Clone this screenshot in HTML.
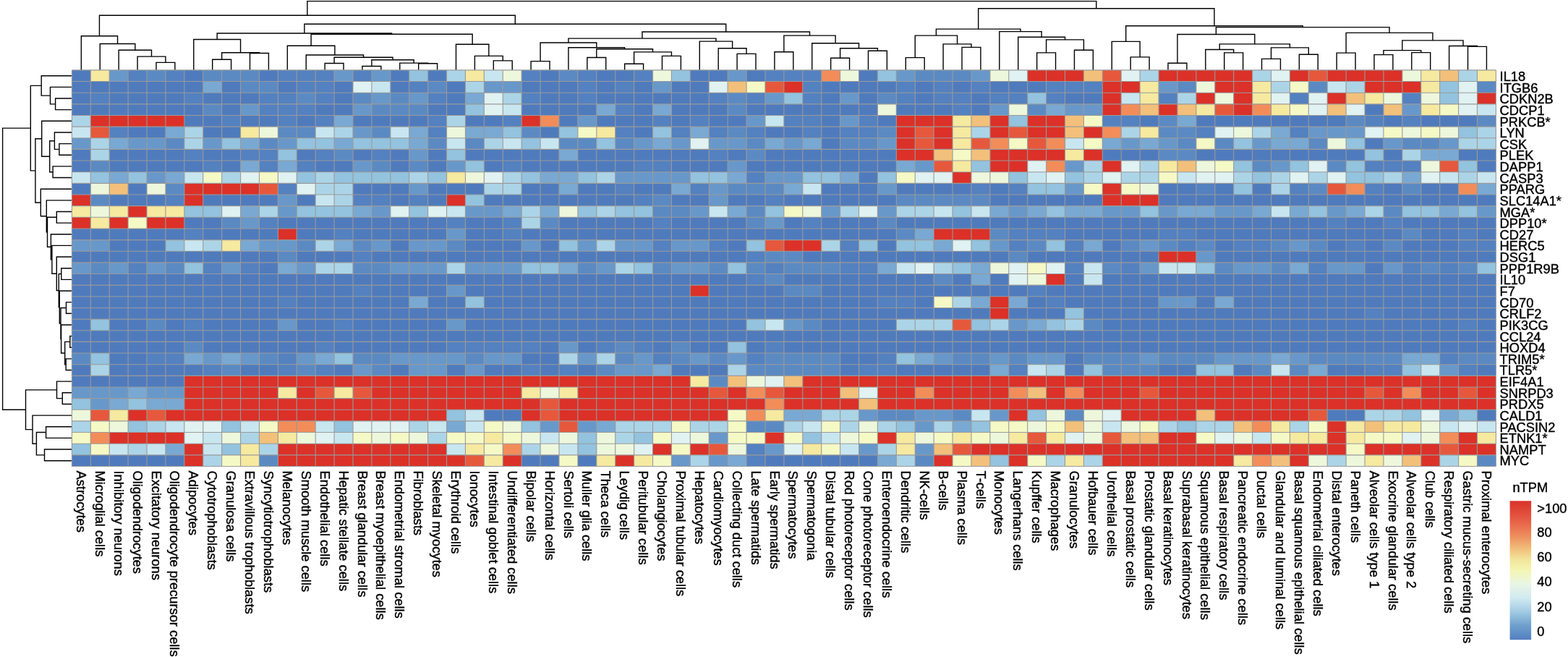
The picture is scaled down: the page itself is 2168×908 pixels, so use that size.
<!DOCTYPE html>
<html><head><meta charset="utf-8"><title>Heatmap</title>
<style>html,body{margin:0;padding:0;background:#fff;}svg{display:block;}</style>
</head><body>
<svg width="2168" height="908" viewBox="0 0 2168 908">
<rect width="2168" height="908" fill="#fff"/>
<path d="M215.99 96.90V86.40H241.89V96.90M190.08 96.90V78.10H228.94V86.40M164.17 96.90V69.30H209.51V78.10M138.26 96.90V60.50H186.84V69.30M112.35 96.90V49.70H162.55V60.50M293.71 96.90V82.30H319.62V96.90M345.52 96.90V73.50H371.43V96.90M306.66 82.30V72.80H358.48V73.50M267.80 96.90V54.50H332.57V72.80M449.16 96.90V87.50H475.06V96.90M500.97 96.90V91.50H526.88V96.90M578.70 96.90V87.80H604.60V96.90M552.79 96.90V87.10H591.65V87.80M513.93 91.50V82.70H572.22V87.10M462.11 87.50V79.20H543.07V82.70M423.25 96.90V76.00H502.59V79.20M397.34 96.90V63.30H462.92V76.00M682.33 96.90V83.90H708.24V96.90M656.42 96.90V77.40H695.28V83.90M630.51 96.90V61.20H675.85V77.40M430.13 63.30V47.30H653.18V61.20M300.19 54.50V46.00H541.66V47.30M734.14 96.90V84.60H760.05V96.90M811.87 96.90V79.50H837.77V96.90M863.68 96.90V88.20H889.59V96.90M915.50 96.90V77.40H941.41V96.90M876.64 88.20V71.90H928.45V77.40M824.82 79.50V67.70H902.54V71.90M785.96 96.90V65.70H863.68V67.70M747.10 84.60V59.00H824.82V65.70M1019.13 96.90V74.40H1045.04V96.90M993.22 96.90V66.70H1032.08V74.40M967.31 96.90V57.10H1012.65V66.70M785.96 59.00V53.10H989.98V57.10M1070.95 96.90V71.70H1096.85V96.90M1148.67 96.90V80.30H1174.58V96.90M1200.49 96.90V70.30H1226.39V96.90M1161.62 80.30V66.70H1213.44V70.30M1122.76 96.90V59.80H1187.53V66.70M1083.90 71.70V49.10H1155.15V59.80M887.97 53.10V44.00H1119.52V49.10M420.92 46.00V33.30H1003.75V44.00M137.45 49.70V21.20H712.33V33.30M1252.30 96.90V79.60H1278.21V96.90M1330.03 96.90V65.40H1355.93V96.90M1304.12 96.90V60.90H1342.98V65.40M1265.26 79.60V49.10H1323.55V60.90M1433.66 96.90V72.90H1459.56V96.90M1485.47 96.90V69.20H1511.38V96.90M1446.61 72.90V54.90H1498.43V69.20M1407.75 96.90V51.20H1472.52V54.90M1381.84 96.90V43.60H1440.13V51.20M1294.40 49.10V40.10H1410.99V43.60M1563.20 96.90V78.90H1589.10V96.90M1537.29 96.90V57.40H1576.15V78.90M1615.01 96.90V87.20H1640.92V96.90M1692.74 96.90V72.90H1718.64V96.90M1666.83 96.90V68.50H1705.69V72.90M1744.55 96.90V81.40H1770.46V96.90M1796.37 96.90V75.30H1822.28V96.90M1757.51 81.40V65.90H1809.32V75.30M1686.26 68.50V60.90H1783.41V65.90M1627.97 87.20V47.50H1734.84V60.90M1848.18 96.90V73.10H1874.09V96.90M1900.00 96.90V75.60H1925.91V96.90M1951.81 96.90V72.60H1977.72V96.90M1912.95 75.60V69.60H1964.77V72.60M2029.54 96.90V64.40H2055.45V96.90M2003.63 96.90V63.50H2042.49V64.40M1938.86 69.60V55.90H2023.06V63.50M1861.14 73.10V45.40H1980.96V55.90M1681.40 47.50V37.60H1921.05V45.40M1556.72 57.40V35.70H1801.22V37.60M1352.69 40.10V11.80H1678.97V35.70M424.89 21.20V1.60H1515.83V11.80" stroke="#000" stroke-width="1.4" fill="none" stroke-linecap="square"/>
<path d="M99.40 136.01H76.60V151.66H99.40M99.40 120.37H69.50V143.84H76.60M99.40 104.72H57.20V132.10H69.50M99.40 198.60H81.90V214.24H99.40M99.40 182.95H75.40V206.42H81.90M99.40 229.89H73.10V245.53H99.40M75.40 194.69H68.70V237.71H73.10M99.40 167.31H57.70V216.20H68.70M99.40 292.47H78.30V308.12H99.40M99.40 370.70H84.80V386.35H99.40M99.40 417.64H91.50V433.28H99.40M99.40 464.57H96.80V480.22H99.40M99.40 495.87H91.20V511.51H99.40M96.80 472.40H89.70V503.69H91.20M99.40 448.93H84.60V488.04H89.70M91.50 425.46H84.00V468.49H84.60M99.40 401.99H82.30V446.97H84.00M84.80 378.52H81.30V424.48H82.30M99.40 355.05H78.30V401.50H81.30M99.40 339.41H71.90V378.28H78.30M99.40 323.76H70.40V358.84H71.90M78.30 300.29H65.50V341.30H70.40M99.40 276.83H64.30V320.80H65.50M99.40 261.18H56.30V298.81H64.30M57.70 191.75H48.90V280.00H56.30M57.20 118.41H42.30V235.87H48.90M99.40 542.80H86.30V558.45H99.40M99.40 527.16H78.50V550.63H86.30M99.40 589.74H63.60V605.39H99.40M99.40 621.03H61.50V636.68H99.40M63.60 597.56H50.40V628.85H61.50M99.40 574.09H45.00V613.21H50.40M78.50 538.89H35.50V593.65H45.00M42.30 177.14H3.60V566.27H35.50" stroke="#000" stroke-width="1.4" fill="none" stroke-linecap="square"/>
<g shape-rendering="crispEdges">
<rect x="99.40" y="96.90" width="25.96" height="15.70" fill="#4f7bbd"/>
<rect x="125.31" y="96.90" width="25.96" height="15.70" fill="#f6e9a0"/>
<rect x="151.22" y="96.90" width="25.96" height="15.70" fill="#6898ca"/>
<rect x="177.12" y="96.90" width="25.96" height="15.70" fill="#5481c0"/>
<rect x="203.03" y="96.90" width="25.96" height="15.70" fill="#5b8ac3"/>
<rect x="228.94" y="96.90" width="25.96" height="15.70" fill="#5481c0"/>
<rect x="254.85" y="96.90" width="25.96" height="15.70" fill="#4f7bbd"/>
<rect x="280.76" y="96.90" width="25.96" height="15.70" fill="#5b8ac3"/>
<rect x="306.66" y="96.90" width="25.96" height="15.70" fill="#5b8ac3"/>
<rect x="332.57" y="96.90" width="25.96" height="15.70" fill="#5b8ac3"/>
<rect x="358.48" y="96.90" width="25.96" height="15.70" fill="#4f7bbd"/>
<rect x="384.39" y="96.90" width="25.96" height="15.70" fill="#5481c0"/>
<rect x="410.29" y="96.90" width="25.96" height="15.70" fill="#5481c0"/>
<rect x="436.20" y="96.90" width="25.96" height="15.70" fill="#5481c0"/>
<rect x="462.11" y="96.90" width="25.96" height="15.70" fill="#6898ca"/>
<rect x="488.02" y="96.90" width="25.96" height="15.70" fill="#5481c0"/>
<rect x="513.93" y="96.90" width="25.96" height="15.70" fill="#6898ca"/>
<rect x="539.83" y="96.90" width="25.96" height="15.70" fill="#4f7bbd"/>
<rect x="565.74" y="96.90" width="25.96" height="15.70" fill="#93c3de"/>
<rect x="591.65" y="96.90" width="25.96" height="15.70" fill="#4f7bbd"/>
<rect x="617.56" y="96.90" width="25.96" height="15.70" fill="#acd4e7"/>
<rect x="643.47" y="96.90" width="25.96" height="15.70" fill="#f6e9a0"/>
<rect x="669.37" y="96.90" width="25.96" height="15.70" fill="#c8e6f0"/>
<rect x="695.28" y="96.90" width="25.96" height="15.70" fill="#edf7dc"/>
<rect x="721.19" y="96.90" width="25.96" height="15.70" fill="#5481c0"/>
<rect x="747.10" y="96.90" width="25.96" height="15.70" fill="#4f7bbd"/>
<rect x="773.01" y="96.90" width="25.96" height="15.70" fill="#5b8ac3"/>
<rect x="798.91" y="96.90" width="25.96" height="15.70" fill="#5481c0"/>
<rect x="824.82" y="96.90" width="25.96" height="15.70" fill="#4f7bbd"/>
<rect x="850.73" y="96.90" width="25.96" height="15.70" fill="#4f7bbd"/>
<rect x="876.64" y="96.90" width="25.96" height="15.70" fill="#5481c0"/>
<rect x="902.54" y="96.90" width="25.96" height="15.70" fill="#edf7dc"/>
<rect x="928.45" y="96.90" width="25.96" height="15.70" fill="#93c3de"/>
<rect x="954.36" y="96.90" width="25.96" height="15.70" fill="#4f7bbd"/>
<rect x="980.27" y="96.90" width="25.96" height="15.70" fill="#4f7bbd"/>
<rect x="1006.18" y="96.90" width="25.96" height="15.70" fill="#6898ca"/>
<rect x="1032.08" y="96.90" width="25.96" height="15.70" fill="#4f7bbd"/>
<rect x="1057.99" y="96.90" width="25.96" height="15.70" fill="#5481c0"/>
<rect x="1083.90" y="96.90" width="25.96" height="15.70" fill="#5481c0"/>
<rect x="1109.81" y="96.90" width="25.96" height="15.70" fill="#5481c0"/>
<rect x="1135.72" y="96.90" width="25.96" height="15.70" fill="#f28d5a"/>
<rect x="1161.62" y="96.90" width="25.96" height="15.70" fill="#edf7dc"/>
<rect x="1187.53" y="96.90" width="25.96" height="15.70" fill="#4f7bbd"/>
<rect x="1213.44" y="96.90" width="25.96" height="15.70" fill="#93c3de"/>
<rect x="1239.35" y="96.90" width="25.96" height="15.70" fill="#6898ca"/>
<rect x="1265.26" y="96.90" width="25.96" height="15.70" fill="#5b8ac3"/>
<rect x="1291.16" y="96.90" width="25.96" height="15.70" fill="#5b8ac3"/>
<rect x="1317.07" y="96.90" width="25.96" height="15.70" fill="#5b8ac3"/>
<rect x="1342.98" y="96.90" width="25.96" height="15.70" fill="#6898ca"/>
<rect x="1368.89" y="96.90" width="25.96" height="15.70" fill="#edf7dc"/>
<rect x="1394.79" y="96.90" width="25.96" height="15.70" fill="#e0f2f1"/>
<rect x="1420.70" y="96.90" width="25.96" height="15.70" fill="#db3128"/>
<rect x="1446.61" y="96.90" width="25.96" height="15.70" fill="#db3128"/>
<rect x="1472.52" y="96.90" width="25.96" height="15.70" fill="#db3128"/>
<rect x="1498.43" y="96.90" width="25.96" height="15.70" fill="#f2c07a"/>
<rect x="1524.33" y="96.90" width="25.96" height="15.70" fill="#e6583c"/>
<rect x="1550.24" y="96.90" width="25.96" height="15.70" fill="#e0f2f1"/>
<rect x="1576.15" y="96.90" width="25.96" height="15.70" fill="#acd4e7"/>
<rect x="1602.06" y="96.90" width="25.96" height="15.70" fill="#db3128"/>
<rect x="1627.97" y="96.90" width="25.96" height="15.70" fill="#db3128"/>
<rect x="1653.87" y="96.90" width="25.96" height="15.70" fill="#db3128"/>
<rect x="1679.78" y="96.90" width="25.96" height="15.70" fill="#db3128"/>
<rect x="1705.69" y="96.90" width="25.96" height="15.70" fill="#db3128"/>
<rect x="1731.60" y="96.90" width="25.96" height="15.70" fill="#acd4e7"/>
<rect x="1757.51" y="96.90" width="25.96" height="15.70" fill="#e0f2f1"/>
<rect x="1783.41" y="96.90" width="25.96" height="15.70" fill="#db3128"/>
<rect x="1809.32" y="96.90" width="25.96" height="15.70" fill="#e6583c"/>
<rect x="1835.23" y="96.90" width="25.96" height="15.70" fill="#db3128"/>
<rect x="1861.14" y="96.90" width="25.96" height="15.70" fill="#db3128"/>
<rect x="1887.04" y="96.90" width="25.96" height="15.70" fill="#db3128"/>
<rect x="1912.95" y="96.90" width="25.96" height="15.70" fill="#db3128"/>
<rect x="1938.86" y="96.90" width="25.96" height="15.70" fill="#edf7dc"/>
<rect x="1964.77" y="96.90" width="25.96" height="15.70" fill="#f6e9a0"/>
<rect x="1990.68" y="96.90" width="25.96" height="15.70" fill="#f2c07a"/>
<rect x="2016.58" y="96.90" width="25.96" height="15.70" fill="#acd4e7"/>
<rect x="2042.49" y="96.90" width="25.96" height="15.70" fill="#f6e9a0"/>
<rect x="99.40" y="112.55" width="25.96" height="15.70" fill="#4f7bbd"/>
<rect x="125.31" y="112.55" width="25.96" height="15.70" fill="#4f7bbd"/>
<rect x="151.22" y="112.55" width="25.96" height="15.70" fill="#4f7bbd"/>
<rect x="177.12" y="112.55" width="25.96" height="15.70" fill="#4f7bbd"/>
<rect x="203.03" y="112.55" width="25.96" height="15.70" fill="#4f7bbd"/>
<rect x="228.94" y="112.55" width="25.96" height="15.70" fill="#4f7bbd"/>
<rect x="254.85" y="112.55" width="25.96" height="15.70" fill="#4f7bbd"/>
<rect x="280.76" y="112.55" width="25.96" height="15.70" fill="#79a9d3"/>
<rect x="306.66" y="112.55" width="25.96" height="15.70" fill="#4f7bbd"/>
<rect x="332.57" y="112.55" width="25.96" height="15.70" fill="#5b8ac3"/>
<rect x="358.48" y="112.55" width="25.96" height="15.70" fill="#5b8ac3"/>
<rect x="384.39" y="112.55" width="25.96" height="15.70" fill="#4f7bbd"/>
<rect x="410.29" y="112.55" width="25.96" height="15.70" fill="#5481c0"/>
<rect x="436.20" y="112.55" width="25.96" height="15.70" fill="#5481c0"/>
<rect x="462.11" y="112.55" width="25.96" height="15.70" fill="#4f7bbd"/>
<rect x="488.02" y="112.55" width="25.96" height="15.70" fill="#e0f2f1"/>
<rect x="513.93" y="112.55" width="25.96" height="15.70" fill="#c8e6f0"/>
<rect x="539.83" y="112.55" width="25.96" height="15.70" fill="#4f7bbd"/>
<rect x="565.74" y="112.55" width="25.96" height="15.70" fill="#5481c0"/>
<rect x="591.65" y="112.55" width="25.96" height="15.70" fill="#5b8ac3"/>
<rect x="617.56" y="112.55" width="25.96" height="15.70" fill="#4f7bbd"/>
<rect x="643.47" y="112.55" width="25.96" height="15.70" fill="#acd4e7"/>
<rect x="669.37" y="112.55" width="25.96" height="15.70" fill="#6898ca"/>
<rect x="695.28" y="112.55" width="25.96" height="15.70" fill="#6898ca"/>
<rect x="721.19" y="112.55" width="25.96" height="15.70" fill="#4f7bbd"/>
<rect x="747.10" y="112.55" width="25.96" height="15.70" fill="#4f7bbd"/>
<rect x="773.01" y="112.55" width="25.96" height="15.70" fill="#4f7bbd"/>
<rect x="798.91" y="112.55" width="25.96" height="15.70" fill="#5481c0"/>
<rect x="824.82" y="112.55" width="25.96" height="15.70" fill="#4f7bbd"/>
<rect x="850.73" y="112.55" width="25.96" height="15.70" fill="#5481c0"/>
<rect x="876.64" y="112.55" width="25.96" height="15.70" fill="#4f7bbd"/>
<rect x="902.54" y="112.55" width="25.96" height="15.70" fill="#6898ca"/>
<rect x="928.45" y="112.55" width="25.96" height="15.70" fill="#4f7bbd"/>
<rect x="954.36" y="112.55" width="25.96" height="15.70" fill="#4f7bbd"/>
<rect x="980.27" y="112.55" width="25.96" height="15.70" fill="#e0f2f1"/>
<rect x="1006.18" y="112.55" width="25.96" height="15.70" fill="#f2c07a"/>
<rect x="1032.08" y="112.55" width="25.96" height="15.70" fill="#f5f9c5"/>
<rect x="1057.99" y="112.55" width="25.96" height="15.70" fill="#e6583c"/>
<rect x="1083.90" y="112.55" width="25.96" height="15.70" fill="#db3128"/>
<rect x="1109.81" y="112.55" width="25.96" height="15.70" fill="#5481c0"/>
<rect x="1135.72" y="112.55" width="25.96" height="15.70" fill="#4f7bbd"/>
<rect x="1161.62" y="112.55" width="25.96" height="15.70" fill="#4f7bbd"/>
<rect x="1187.53" y="112.55" width="25.96" height="15.70" fill="#4f7bbd"/>
<rect x="1213.44" y="112.55" width="25.96" height="15.70" fill="#4f7bbd"/>
<rect x="1239.35" y="112.55" width="25.96" height="15.70" fill="#5481c0"/>
<rect x="1265.26" y="112.55" width="25.96" height="15.70" fill="#4f7bbd"/>
<rect x="1291.16" y="112.55" width="25.96" height="15.70" fill="#5481c0"/>
<rect x="1317.07" y="112.55" width="25.96" height="15.70" fill="#4f7bbd"/>
<rect x="1342.98" y="112.55" width="25.96" height="15.70" fill="#5481c0"/>
<rect x="1368.89" y="112.55" width="25.96" height="15.70" fill="#4f7bbd"/>
<rect x="1394.79" y="112.55" width="25.96" height="15.70" fill="#4f7bbd"/>
<rect x="1420.70" y="112.55" width="25.96" height="15.70" fill="#4f7bbd"/>
<rect x="1446.61" y="112.55" width="25.96" height="15.70" fill="#5481c0"/>
<rect x="1472.52" y="112.55" width="25.96" height="15.70" fill="#5481c0"/>
<rect x="1498.43" y="112.55" width="25.96" height="15.70" fill="#5481c0"/>
<rect x="1524.33" y="112.55" width="25.96" height="15.70" fill="#db3128"/>
<rect x="1550.24" y="112.55" width="25.96" height="15.70" fill="#db3128"/>
<rect x="1576.15" y="112.55" width="25.96" height="15.70" fill="#f6e9a0"/>
<rect x="1602.06" y="112.55" width="25.96" height="15.70" fill="#6898ca"/>
<rect x="1627.97" y="112.55" width="25.96" height="15.70" fill="#5b8ac3"/>
<rect x="1653.87" y="112.55" width="25.96" height="15.70" fill="#edf7dc"/>
<rect x="1679.78" y="112.55" width="25.96" height="15.70" fill="#db3128"/>
<rect x="1705.69" y="112.55" width="25.96" height="15.70" fill="#db3128"/>
<rect x="1731.60" y="112.55" width="25.96" height="15.70" fill="#f6e9a0"/>
<rect x="1757.51" y="112.55" width="25.96" height="15.70" fill="#acd4e7"/>
<rect x="1783.41" y="112.55" width="25.96" height="15.70" fill="#f5f9c5"/>
<rect x="1809.32" y="112.55" width="25.96" height="15.70" fill="#5b8ac3"/>
<rect x="1835.23" y="112.55" width="25.96" height="15.70" fill="#c8e6f0"/>
<rect x="1861.14" y="112.55" width="25.96" height="15.70" fill="#acd4e7"/>
<rect x="1887.04" y="112.55" width="25.96" height="15.70" fill="#db3128"/>
<rect x="1912.95" y="112.55" width="25.96" height="15.70" fill="#db3128"/>
<rect x="1938.86" y="112.55" width="25.96" height="15.70" fill="#db3128"/>
<rect x="1964.77" y="112.55" width="25.96" height="15.70" fill="#f6e9a0"/>
<rect x="1990.68" y="112.55" width="25.96" height="15.70" fill="#93c3de"/>
<rect x="2016.58" y="112.55" width="25.96" height="15.70" fill="#e0f2f1"/>
<rect x="2042.49" y="112.55" width="25.96" height="15.70" fill="#5b8ac3"/>
<rect x="99.40" y="128.19" width="25.96" height="15.70" fill="#4f7bbd"/>
<rect x="125.31" y="128.19" width="25.96" height="15.70" fill="#5481c0"/>
<rect x="151.22" y="128.19" width="25.96" height="15.70" fill="#4f7bbd"/>
<rect x="177.12" y="128.19" width="25.96" height="15.70" fill="#4f7bbd"/>
<rect x="203.03" y="128.19" width="25.96" height="15.70" fill="#4f7bbd"/>
<rect x="228.94" y="128.19" width="25.96" height="15.70" fill="#4f7bbd"/>
<rect x="254.85" y="128.19" width="25.96" height="15.70" fill="#5481c0"/>
<rect x="280.76" y="128.19" width="25.96" height="15.70" fill="#4f7bbd"/>
<rect x="306.66" y="128.19" width="25.96" height="15.70" fill="#4f7bbd"/>
<rect x="332.57" y="128.19" width="25.96" height="15.70" fill="#4f7bbd"/>
<rect x="358.48" y="128.19" width="25.96" height="15.70" fill="#5481c0"/>
<rect x="384.39" y="128.19" width="25.96" height="15.70" fill="#5481c0"/>
<rect x="410.29" y="128.19" width="25.96" height="15.70" fill="#5b8ac3"/>
<rect x="436.20" y="128.19" width="25.96" height="15.70" fill="#5481c0"/>
<rect x="462.11" y="128.19" width="25.96" height="15.70" fill="#4f7bbd"/>
<rect x="488.02" y="128.19" width="25.96" height="15.70" fill="#5b8ac3"/>
<rect x="513.93" y="128.19" width="25.96" height="15.70" fill="#6898ca"/>
<rect x="539.83" y="128.19" width="25.96" height="15.70" fill="#5b8ac3"/>
<rect x="565.74" y="128.19" width="25.96" height="15.70" fill="#6898ca"/>
<rect x="591.65" y="128.19" width="25.96" height="15.70" fill="#5481c0"/>
<rect x="617.56" y="128.19" width="25.96" height="15.70" fill="#4f7bbd"/>
<rect x="643.47" y="128.19" width="25.96" height="15.70" fill="#79a9d3"/>
<rect x="669.37" y="128.19" width="25.96" height="15.70" fill="#e0f2f1"/>
<rect x="695.28" y="128.19" width="25.96" height="15.70" fill="#acd4e7"/>
<rect x="721.19" y="128.19" width="25.96" height="15.70" fill="#5481c0"/>
<rect x="747.10" y="128.19" width="25.96" height="15.70" fill="#4f7bbd"/>
<rect x="773.01" y="128.19" width="25.96" height="15.70" fill="#4f7bbd"/>
<rect x="798.91" y="128.19" width="25.96" height="15.70" fill="#5481c0"/>
<rect x="824.82" y="128.19" width="25.96" height="15.70" fill="#4f7bbd"/>
<rect x="850.73" y="128.19" width="25.96" height="15.70" fill="#4f7bbd"/>
<rect x="876.64" y="128.19" width="25.96" height="15.70" fill="#4f7bbd"/>
<rect x="902.54" y="128.19" width="25.96" height="15.70" fill="#4f7bbd"/>
<rect x="928.45" y="128.19" width="25.96" height="15.70" fill="#4f7bbd"/>
<rect x="954.36" y="128.19" width="25.96" height="15.70" fill="#4f7bbd"/>
<rect x="980.27" y="128.19" width="25.96" height="15.70" fill="#5481c0"/>
<rect x="1006.18" y="128.19" width="25.96" height="15.70" fill="#5b8ac3"/>
<rect x="1032.08" y="128.19" width="25.96" height="15.70" fill="#5481c0"/>
<rect x="1057.99" y="128.19" width="25.96" height="15.70" fill="#6898ca"/>
<rect x="1083.90" y="128.19" width="25.96" height="15.70" fill="#93c3de"/>
<rect x="1109.81" y="128.19" width="25.96" height="15.70" fill="#5481c0"/>
<rect x="1135.72" y="128.19" width="25.96" height="15.70" fill="#4f7bbd"/>
<rect x="1161.62" y="128.19" width="25.96" height="15.70" fill="#6898ca"/>
<rect x="1187.53" y="128.19" width="25.96" height="15.70" fill="#4f7bbd"/>
<rect x="1213.44" y="128.19" width="25.96" height="15.70" fill="#5b8ac3"/>
<rect x="1239.35" y="128.19" width="25.96" height="15.70" fill="#5481c0"/>
<rect x="1265.26" y="128.19" width="25.96" height="15.70" fill="#4f7bbd"/>
<rect x="1291.16" y="128.19" width="25.96" height="15.70" fill="#5481c0"/>
<rect x="1317.07" y="128.19" width="25.96" height="15.70" fill="#5481c0"/>
<rect x="1342.98" y="128.19" width="25.96" height="15.70" fill="#4f7bbd"/>
<rect x="1368.89" y="128.19" width="25.96" height="15.70" fill="#5481c0"/>
<rect x="1394.79" y="128.19" width="25.96" height="15.70" fill="#5481c0"/>
<rect x="1420.70" y="128.19" width="25.96" height="15.70" fill="#93c3de"/>
<rect x="1446.61" y="128.19" width="25.96" height="15.70" fill="#5481c0"/>
<rect x="1472.52" y="128.19" width="25.96" height="15.70" fill="#4f7bbd"/>
<rect x="1498.43" y="128.19" width="25.96" height="15.70" fill="#4f7bbd"/>
<rect x="1524.33" y="128.19" width="25.96" height="15.70" fill="#db3128"/>
<rect x="1550.24" y="128.19" width="25.96" height="15.70" fill="#c8e6f0"/>
<rect x="1576.15" y="128.19" width="25.96" height="15.70" fill="#f6e9a0"/>
<rect x="1602.06" y="128.19" width="25.96" height="15.70" fill="#5481c0"/>
<rect x="1627.97" y="128.19" width="25.96" height="15.70" fill="#acd4e7"/>
<rect x="1653.87" y="128.19" width="25.96" height="15.70" fill="#db3128"/>
<rect x="1679.78" y="128.19" width="25.96" height="15.70" fill="#edf7dc"/>
<rect x="1705.69" y="128.19" width="25.96" height="15.70" fill="#db3128"/>
<rect x="1731.60" y="128.19" width="25.96" height="15.70" fill="#f6e9a0"/>
<rect x="1757.51" y="128.19" width="25.96" height="15.70" fill="#e0f2f1"/>
<rect x="1783.41" y="128.19" width="25.96" height="15.70" fill="#5481c0"/>
<rect x="1809.32" y="128.19" width="25.96" height="15.70" fill="#e0f2f1"/>
<rect x="1835.23" y="128.19" width="25.96" height="15.70" fill="#db3128"/>
<rect x="1861.14" y="128.19" width="25.96" height="15.70" fill="#f2c07a"/>
<rect x="1887.04" y="128.19" width="25.96" height="15.70" fill="#f6e9a0"/>
<rect x="1912.95" y="128.19" width="25.96" height="15.70" fill="#edf7dc"/>
<rect x="1938.86" y="128.19" width="25.96" height="15.70" fill="#5481c0"/>
<rect x="1964.77" y="128.19" width="25.96" height="15.70" fill="#edf7dc"/>
<rect x="1990.68" y="128.19" width="25.96" height="15.70" fill="#93c3de"/>
<rect x="2016.58" y="128.19" width="25.96" height="15.70" fill="#e0f2f1"/>
<rect x="2042.49" y="128.19" width="25.96" height="15.70" fill="#db3128"/>
<rect x="99.40" y="143.84" width="25.96" height="15.70" fill="#4f7bbd"/>
<rect x="125.31" y="143.84" width="25.96" height="15.70" fill="#4f7bbd"/>
<rect x="151.22" y="143.84" width="25.96" height="15.70" fill="#4f7bbd"/>
<rect x="177.12" y="143.84" width="25.96" height="15.70" fill="#4f7bbd"/>
<rect x="203.03" y="143.84" width="25.96" height="15.70" fill="#4f7bbd"/>
<rect x="228.94" y="143.84" width="25.96" height="15.70" fill="#4f7bbd"/>
<rect x="254.85" y="143.84" width="25.96" height="15.70" fill="#4f7bbd"/>
<rect x="280.76" y="143.84" width="25.96" height="15.70" fill="#5b8ac3"/>
<rect x="306.66" y="143.84" width="25.96" height="15.70" fill="#4f7bbd"/>
<rect x="332.57" y="143.84" width="25.96" height="15.70" fill="#6898ca"/>
<rect x="358.48" y="143.84" width="25.96" height="15.70" fill="#5481c0"/>
<rect x="384.39" y="143.84" width="25.96" height="15.70" fill="#5481c0"/>
<rect x="410.29" y="143.84" width="25.96" height="15.70" fill="#5481c0"/>
<rect x="436.20" y="143.84" width="25.96" height="15.70" fill="#4f7bbd"/>
<rect x="462.11" y="143.84" width="25.96" height="15.70" fill="#4f7bbd"/>
<rect x="488.02" y="143.84" width="25.96" height="15.70" fill="#6898ca"/>
<rect x="513.93" y="143.84" width="25.96" height="15.70" fill="#5b8ac3"/>
<rect x="539.83" y="143.84" width="25.96" height="15.70" fill="#5b8ac3"/>
<rect x="565.74" y="143.84" width="25.96" height="15.70" fill="#5b8ac3"/>
<rect x="591.65" y="143.84" width="25.96" height="15.70" fill="#4f7bbd"/>
<rect x="617.56" y="143.84" width="25.96" height="15.70" fill="#4f7bbd"/>
<rect x="643.47" y="143.84" width="25.96" height="15.70" fill="#93c3de"/>
<rect x="669.37" y="143.84" width="25.96" height="15.70" fill="#e0f2f1"/>
<rect x="695.28" y="143.84" width="25.96" height="15.70" fill="#c8e6f0"/>
<rect x="721.19" y="143.84" width="25.96" height="15.70" fill="#4f7bbd"/>
<rect x="747.10" y="143.84" width="25.96" height="15.70" fill="#4f7bbd"/>
<rect x="773.01" y="143.84" width="25.96" height="15.70" fill="#4f7bbd"/>
<rect x="798.91" y="143.84" width="25.96" height="15.70" fill="#4f7bbd"/>
<rect x="824.82" y="143.84" width="25.96" height="15.70" fill="#79a9d3"/>
<rect x="850.73" y="143.84" width="25.96" height="15.70" fill="#5481c0"/>
<rect x="876.64" y="143.84" width="25.96" height="15.70" fill="#4f7bbd"/>
<rect x="902.54" y="143.84" width="25.96" height="15.70" fill="#79a9d3"/>
<rect x="928.45" y="143.84" width="25.96" height="15.70" fill="#4f7bbd"/>
<rect x="954.36" y="143.84" width="25.96" height="15.70" fill="#4f7bbd"/>
<rect x="980.27" y="143.84" width="25.96" height="15.70" fill="#4f7bbd"/>
<rect x="1006.18" y="143.84" width="25.96" height="15.70" fill="#5b8ac3"/>
<rect x="1032.08" y="143.84" width="25.96" height="15.70" fill="#4f7bbd"/>
<rect x="1057.99" y="143.84" width="25.96" height="15.70" fill="#4f7bbd"/>
<rect x="1083.90" y="143.84" width="25.96" height="15.70" fill="#4f7bbd"/>
<rect x="1109.81" y="143.84" width="25.96" height="15.70" fill="#4f7bbd"/>
<rect x="1135.72" y="143.84" width="25.96" height="15.70" fill="#4f7bbd"/>
<rect x="1161.62" y="143.84" width="25.96" height="15.70" fill="#4f7bbd"/>
<rect x="1187.53" y="143.84" width="25.96" height="15.70" fill="#4f7bbd"/>
<rect x="1213.44" y="143.84" width="25.96" height="15.70" fill="#edf7dc"/>
<rect x="1239.35" y="143.84" width="25.96" height="15.70" fill="#4f7bbd"/>
<rect x="1265.26" y="143.84" width="25.96" height="15.70" fill="#4f7bbd"/>
<rect x="1291.16" y="143.84" width="25.96" height="15.70" fill="#4f7bbd"/>
<rect x="1317.07" y="143.84" width="25.96" height="15.70" fill="#5481c0"/>
<rect x="1342.98" y="143.84" width="25.96" height="15.70" fill="#4f7bbd"/>
<rect x="1368.89" y="143.84" width="25.96" height="15.70" fill="#6898ca"/>
<rect x="1394.79" y="143.84" width="25.96" height="15.70" fill="#edf7dc"/>
<rect x="1420.70" y="143.84" width="25.96" height="15.70" fill="#5b8ac3"/>
<rect x="1446.61" y="143.84" width="25.96" height="15.70" fill="#79a9d3"/>
<rect x="1472.52" y="143.84" width="25.96" height="15.70" fill="#6898ca"/>
<rect x="1498.43" y="143.84" width="25.96" height="15.70" fill="#6898ca"/>
<rect x="1524.33" y="143.84" width="25.96" height="15.70" fill="#db3128"/>
<rect x="1550.24" y="143.84" width="25.96" height="15.70" fill="#f28d5a"/>
<rect x="1576.15" y="143.84" width="25.96" height="15.70" fill="#f2c07a"/>
<rect x="1602.06" y="143.84" width="25.96" height="15.70" fill="#db3128"/>
<rect x="1627.97" y="143.84" width="25.96" height="15.70" fill="#f2c07a"/>
<rect x="1653.87" y="143.84" width="25.96" height="15.70" fill="#f6e9a0"/>
<rect x="1679.78" y="143.84" width="25.96" height="15.70" fill="#e6583c"/>
<rect x="1705.69" y="143.84" width="25.96" height="15.70" fill="#db3128"/>
<rect x="1731.60" y="143.84" width="25.96" height="15.70" fill="#f28d5a"/>
<rect x="1757.51" y="143.84" width="25.96" height="15.70" fill="#f6e9a0"/>
<rect x="1783.41" y="143.84" width="25.96" height="15.70" fill="#f5f9c5"/>
<rect x="1809.32" y="143.84" width="25.96" height="15.70" fill="#e0f2f1"/>
<rect x="1835.23" y="143.84" width="25.96" height="15.70" fill="#f2c07a"/>
<rect x="1861.14" y="143.84" width="25.96" height="15.70" fill="#e0f2f1"/>
<rect x="1887.04" y="143.84" width="25.96" height="15.70" fill="#4f7bbd"/>
<rect x="1912.95" y="143.84" width="25.96" height="15.70" fill="#f2c07a"/>
<rect x="1938.86" y="143.84" width="25.96" height="15.70" fill="#6898ca"/>
<rect x="1964.77" y="143.84" width="25.96" height="15.70" fill="#f6e9a0"/>
<rect x="1990.68" y="143.84" width="25.96" height="15.70" fill="#f5f9c5"/>
<rect x="2016.58" y="143.84" width="25.96" height="15.70" fill="#e0f2f1"/>
<rect x="2042.49" y="143.84" width="25.96" height="15.70" fill="#c8e6f0"/>
<rect x="99.40" y="159.48" width="25.96" height="15.70" fill="#acd4e7"/>
<rect x="125.31" y="159.48" width="25.96" height="15.70" fill="#db3128"/>
<rect x="151.22" y="159.48" width="25.96" height="15.70" fill="#db3128"/>
<rect x="177.12" y="159.48" width="25.96" height="15.70" fill="#db3128"/>
<rect x="203.03" y="159.48" width="25.96" height="15.70" fill="#db3128"/>
<rect x="228.94" y="159.48" width="25.96" height="15.70" fill="#db3128"/>
<rect x="254.85" y="159.48" width="25.96" height="15.70" fill="#4f7bbd"/>
<rect x="280.76" y="159.48" width="25.96" height="15.70" fill="#4f7bbd"/>
<rect x="306.66" y="159.48" width="25.96" height="15.70" fill="#5481c0"/>
<rect x="332.57" y="159.48" width="25.96" height="15.70" fill="#4f7bbd"/>
<rect x="358.48" y="159.48" width="25.96" height="15.70" fill="#4f7bbd"/>
<rect x="384.39" y="159.48" width="25.96" height="15.70" fill="#5481c0"/>
<rect x="410.29" y="159.48" width="25.96" height="15.70" fill="#4f7bbd"/>
<rect x="436.20" y="159.48" width="25.96" height="15.70" fill="#5481c0"/>
<rect x="462.11" y="159.48" width="25.96" height="15.70" fill="#79a9d3"/>
<rect x="488.02" y="159.48" width="25.96" height="15.70" fill="#4f7bbd"/>
<rect x="513.93" y="159.48" width="25.96" height="15.70" fill="#4f7bbd"/>
<rect x="539.83" y="159.48" width="25.96" height="15.70" fill="#4f7bbd"/>
<rect x="565.74" y="159.48" width="25.96" height="15.70" fill="#4f7bbd"/>
<rect x="591.65" y="159.48" width="25.96" height="15.70" fill="#5481c0"/>
<rect x="617.56" y="159.48" width="25.96" height="15.70" fill="#acd4e7"/>
<rect x="643.47" y="159.48" width="25.96" height="15.70" fill="#4f7bbd"/>
<rect x="669.37" y="159.48" width="25.96" height="15.70" fill="#4f7bbd"/>
<rect x="695.28" y="159.48" width="25.96" height="15.70" fill="#5481c0"/>
<rect x="721.19" y="159.48" width="25.96" height="15.70" fill="#db3128"/>
<rect x="747.10" y="159.48" width="25.96" height="15.70" fill="#f28d5a"/>
<rect x="773.01" y="159.48" width="25.96" height="15.70" fill="#4f7bbd"/>
<rect x="798.91" y="159.48" width="25.96" height="15.70" fill="#6898ca"/>
<rect x="824.82" y="159.48" width="25.96" height="15.70" fill="#4f7bbd"/>
<rect x="850.73" y="159.48" width="25.96" height="15.70" fill="#4f7bbd"/>
<rect x="876.64" y="159.48" width="25.96" height="15.70" fill="#4f7bbd"/>
<rect x="902.54" y="159.48" width="25.96" height="15.70" fill="#5481c0"/>
<rect x="928.45" y="159.48" width="25.96" height="15.70" fill="#4f7bbd"/>
<rect x="954.36" y="159.48" width="25.96" height="15.70" fill="#5481c0"/>
<rect x="980.27" y="159.48" width="25.96" height="15.70" fill="#4f7bbd"/>
<rect x="1006.18" y="159.48" width="25.96" height="15.70" fill="#4f7bbd"/>
<rect x="1032.08" y="159.48" width="25.96" height="15.70" fill="#6898ca"/>
<rect x="1057.99" y="159.48" width="25.96" height="15.70" fill="#c8e6f0"/>
<rect x="1083.90" y="159.48" width="25.96" height="15.70" fill="#5481c0"/>
<rect x="1109.81" y="159.48" width="25.96" height="15.70" fill="#5481c0"/>
<rect x="1135.72" y="159.48" width="25.96" height="15.70" fill="#4f7bbd"/>
<rect x="1161.62" y="159.48" width="25.96" height="15.70" fill="#6898ca"/>
<rect x="1187.53" y="159.48" width="25.96" height="15.70" fill="#5481c0"/>
<rect x="1213.44" y="159.48" width="25.96" height="15.70" fill="#4f7bbd"/>
<rect x="1239.35" y="159.48" width="25.96" height="15.70" fill="#db3128"/>
<rect x="1265.26" y="159.48" width="25.96" height="15.70" fill="#db3128"/>
<rect x="1291.16" y="159.48" width="25.96" height="15.70" fill="#db3128"/>
<rect x="1317.07" y="159.48" width="25.96" height="15.70" fill="#f6e9a0"/>
<rect x="1342.98" y="159.48" width="25.96" height="15.70" fill="#f2c07a"/>
<rect x="1368.89" y="159.48" width="25.96" height="15.70" fill="#db3128"/>
<rect x="1394.79" y="159.48" width="25.96" height="15.70" fill="#93c3de"/>
<rect x="1420.70" y="159.48" width="25.96" height="15.70" fill="#db3128"/>
<rect x="1446.61" y="159.48" width="25.96" height="15.70" fill="#db3128"/>
<rect x="1472.52" y="159.48" width="25.96" height="15.70" fill="#f2c07a"/>
<rect x="1498.43" y="159.48" width="25.96" height="15.70" fill="#f5f9c5"/>
<rect x="1524.33" y="159.48" width="25.96" height="15.70" fill="#5481c0"/>
<rect x="1550.24" y="159.48" width="25.96" height="15.70" fill="#5481c0"/>
<rect x="1576.15" y="159.48" width="25.96" height="15.70" fill="#4f7bbd"/>
<rect x="1602.06" y="159.48" width="25.96" height="15.70" fill="#5b8ac3"/>
<rect x="1627.97" y="159.48" width="25.96" height="15.70" fill="#79a9d3"/>
<rect x="1653.87" y="159.48" width="25.96" height="15.70" fill="#4f7bbd"/>
<rect x="1679.78" y="159.48" width="25.96" height="15.70" fill="#4f7bbd"/>
<rect x="1705.69" y="159.48" width="25.96" height="15.70" fill="#4f7bbd"/>
<rect x="1731.60" y="159.48" width="25.96" height="15.70" fill="#4f7bbd"/>
<rect x="1757.51" y="159.48" width="25.96" height="15.70" fill="#4f7bbd"/>
<rect x="1783.41" y="159.48" width="25.96" height="15.70" fill="#4f7bbd"/>
<rect x="1809.32" y="159.48" width="25.96" height="15.70" fill="#4f7bbd"/>
<rect x="1835.23" y="159.48" width="25.96" height="15.70" fill="#4f7bbd"/>
<rect x="1861.14" y="159.48" width="25.96" height="15.70" fill="#5b8ac3"/>
<rect x="1887.04" y="159.48" width="25.96" height="15.70" fill="#5481c0"/>
<rect x="1912.95" y="159.48" width="25.96" height="15.70" fill="#4f7bbd"/>
<rect x="1938.86" y="159.48" width="25.96" height="15.70" fill="#5481c0"/>
<rect x="1964.77" y="159.48" width="25.96" height="15.70" fill="#4f7bbd"/>
<rect x="1990.68" y="159.48" width="25.96" height="15.70" fill="#4f7bbd"/>
<rect x="2016.58" y="159.48" width="25.96" height="15.70" fill="#4f7bbd"/>
<rect x="2042.49" y="159.48" width="25.96" height="15.70" fill="#5b8ac3"/>
<rect x="99.40" y="175.13" width="25.96" height="15.70" fill="#c8e6f0"/>
<rect x="125.31" y="175.13" width="25.96" height="15.70" fill="#e6583c"/>
<rect x="151.22" y="175.13" width="25.96" height="15.70" fill="#5481c0"/>
<rect x="177.12" y="175.13" width="25.96" height="15.70" fill="#4f7bbd"/>
<rect x="203.03" y="175.13" width="25.96" height="15.70" fill="#4f7bbd"/>
<rect x="228.94" y="175.13" width="25.96" height="15.70" fill="#79a9d3"/>
<rect x="254.85" y="175.13" width="25.96" height="15.70" fill="#acd4e7"/>
<rect x="280.76" y="175.13" width="25.96" height="15.70" fill="#4f7bbd"/>
<rect x="306.66" y="175.13" width="25.96" height="15.70" fill="#4f7bbd"/>
<rect x="332.57" y="175.13" width="25.96" height="15.70" fill="#f6e9a0"/>
<rect x="358.48" y="175.13" width="25.96" height="15.70" fill="#edf7dc"/>
<rect x="384.39" y="175.13" width="25.96" height="15.70" fill="#5b8ac3"/>
<rect x="410.29" y="175.13" width="25.96" height="15.70" fill="#5b8ac3"/>
<rect x="436.20" y="175.13" width="25.96" height="15.70" fill="#c8e6f0"/>
<rect x="462.11" y="175.13" width="25.96" height="15.70" fill="#acd4e7"/>
<rect x="488.02" y="175.13" width="25.96" height="15.70" fill="#6898ca"/>
<rect x="513.93" y="175.13" width="25.96" height="15.70" fill="#5b8ac3"/>
<rect x="539.83" y="175.13" width="25.96" height="15.70" fill="#c8e6f0"/>
<rect x="565.74" y="175.13" width="25.96" height="15.70" fill="#79a9d3"/>
<rect x="591.65" y="175.13" width="25.96" height="15.70" fill="#5481c0"/>
<rect x="617.56" y="175.13" width="25.96" height="15.70" fill="#edf7dc"/>
<rect x="643.47" y="175.13" width="25.96" height="15.70" fill="#79a9d3"/>
<rect x="669.37" y="175.13" width="25.96" height="15.70" fill="#79a9d3"/>
<rect x="695.28" y="175.13" width="25.96" height="15.70" fill="#93c3de"/>
<rect x="721.19" y="175.13" width="25.96" height="15.70" fill="#5b8ac3"/>
<rect x="747.10" y="175.13" width="25.96" height="15.70" fill="#4f7bbd"/>
<rect x="773.01" y="175.13" width="25.96" height="15.70" fill="#93c3de"/>
<rect x="798.91" y="175.13" width="25.96" height="15.70" fill="#f5f9c5"/>
<rect x="824.82" y="175.13" width="25.96" height="15.70" fill="#f6e9a0"/>
<rect x="850.73" y="175.13" width="25.96" height="15.70" fill="#5481c0"/>
<rect x="876.64" y="175.13" width="25.96" height="15.70" fill="#4f7bbd"/>
<rect x="902.54" y="175.13" width="25.96" height="15.70" fill="#93c3de"/>
<rect x="928.45" y="175.13" width="25.96" height="15.70" fill="#5481c0"/>
<rect x="954.36" y="175.13" width="25.96" height="15.70" fill="#79a9d3"/>
<rect x="980.27" y="175.13" width="25.96" height="15.70" fill="#5481c0"/>
<rect x="1006.18" y="175.13" width="25.96" height="15.70" fill="#5b8ac3"/>
<rect x="1032.08" y="175.13" width="25.96" height="15.70" fill="#5481c0"/>
<rect x="1057.99" y="175.13" width="25.96" height="15.70" fill="#4f7bbd"/>
<rect x="1083.90" y="175.13" width="25.96" height="15.70" fill="#4f7bbd"/>
<rect x="1109.81" y="175.13" width="25.96" height="15.70" fill="#5481c0"/>
<rect x="1135.72" y="175.13" width="25.96" height="15.70" fill="#4f7bbd"/>
<rect x="1161.62" y="175.13" width="25.96" height="15.70" fill="#5481c0"/>
<rect x="1187.53" y="175.13" width="25.96" height="15.70" fill="#5481c0"/>
<rect x="1213.44" y="175.13" width="25.96" height="15.70" fill="#5b8ac3"/>
<rect x="1239.35" y="175.13" width="25.96" height="15.70" fill="#db3128"/>
<rect x="1265.26" y="175.13" width="25.96" height="15.70" fill="#e6583c"/>
<rect x="1291.16" y="175.13" width="25.96" height="15.70" fill="#db3128"/>
<rect x="1317.07" y="175.13" width="25.96" height="15.70" fill="#f6e9a0"/>
<rect x="1342.98" y="175.13" width="25.96" height="15.70" fill="#acd4e7"/>
<rect x="1368.89" y="175.13" width="25.96" height="15.70" fill="#db3128"/>
<rect x="1394.79" y="175.13" width="25.96" height="15.70" fill="#e6583c"/>
<rect x="1420.70" y="175.13" width="25.96" height="15.70" fill="#db3128"/>
<rect x="1446.61" y="175.13" width="25.96" height="15.70" fill="#db3128"/>
<rect x="1472.52" y="175.13" width="25.96" height="15.70" fill="#f2c07a"/>
<rect x="1498.43" y="175.13" width="25.96" height="15.70" fill="#db3128"/>
<rect x="1524.33" y="175.13" width="25.96" height="15.70" fill="#f28d5a"/>
<rect x="1550.24" y="175.13" width="25.96" height="15.70" fill="#acd4e7"/>
<rect x="1576.15" y="175.13" width="25.96" height="15.70" fill="#f6e9a0"/>
<rect x="1602.06" y="175.13" width="25.96" height="15.70" fill="#5b8ac3"/>
<rect x="1627.97" y="175.13" width="25.96" height="15.70" fill="#5b8ac3"/>
<rect x="1653.87" y="175.13" width="25.96" height="15.70" fill="#5481c0"/>
<rect x="1679.78" y="175.13" width="25.96" height="15.70" fill="#e0f2f1"/>
<rect x="1705.69" y="175.13" width="25.96" height="15.70" fill="#edf7dc"/>
<rect x="1731.60" y="175.13" width="25.96" height="15.70" fill="#acd4e7"/>
<rect x="1757.51" y="175.13" width="25.96" height="15.70" fill="#79a9d3"/>
<rect x="1783.41" y="175.13" width="25.96" height="15.70" fill="#5481c0"/>
<rect x="1809.32" y="175.13" width="25.96" height="15.70" fill="#6898ca"/>
<rect x="1835.23" y="175.13" width="25.96" height="15.70" fill="#6898ca"/>
<rect x="1861.14" y="175.13" width="25.96" height="15.70" fill="#6898ca"/>
<rect x="1887.04" y="175.13" width="25.96" height="15.70" fill="#e0f2f1"/>
<rect x="1912.95" y="175.13" width="25.96" height="15.70" fill="#f5f9c5"/>
<rect x="1938.86" y="175.13" width="25.96" height="15.70" fill="#edf7dc"/>
<rect x="1964.77" y="175.13" width="25.96" height="15.70" fill="#f5f9c5"/>
<rect x="1990.68" y="175.13" width="25.96" height="15.70" fill="#edf7dc"/>
<rect x="2016.58" y="175.13" width="25.96" height="15.70" fill="#93c3de"/>
<rect x="2042.49" y="175.13" width="25.96" height="15.70" fill="#acd4e7"/>
<rect x="99.40" y="190.77" width="25.96" height="15.70" fill="#6898ca"/>
<rect x="125.31" y="190.77" width="25.96" height="15.70" fill="#acd4e7"/>
<rect x="151.22" y="190.77" width="25.96" height="15.70" fill="#79a9d3"/>
<rect x="177.12" y="190.77" width="25.96" height="15.70" fill="#6898ca"/>
<rect x="203.03" y="190.77" width="25.96" height="15.70" fill="#6898ca"/>
<rect x="228.94" y="190.77" width="25.96" height="15.70" fill="#5b8ac3"/>
<rect x="254.85" y="190.77" width="25.96" height="15.70" fill="#acd4e7"/>
<rect x="280.76" y="190.77" width="25.96" height="15.70" fill="#6898ca"/>
<rect x="306.66" y="190.77" width="25.96" height="15.70" fill="#93c3de"/>
<rect x="332.57" y="190.77" width="25.96" height="15.70" fill="#79a9d3"/>
<rect x="358.48" y="190.77" width="25.96" height="15.70" fill="#5b8ac3"/>
<rect x="384.39" y="190.77" width="25.96" height="15.70" fill="#6898ca"/>
<rect x="410.29" y="190.77" width="25.96" height="15.70" fill="#93c3de"/>
<rect x="436.20" y="190.77" width="25.96" height="15.70" fill="#93c3de"/>
<rect x="462.11" y="190.77" width="25.96" height="15.70" fill="#79a9d3"/>
<rect x="488.02" y="190.77" width="25.96" height="15.70" fill="#93c3de"/>
<rect x="513.93" y="190.77" width="25.96" height="15.70" fill="#93c3de"/>
<rect x="539.83" y="190.77" width="25.96" height="15.70" fill="#93c3de"/>
<rect x="565.74" y="190.77" width="25.96" height="15.70" fill="#79a9d3"/>
<rect x="591.65" y="190.77" width="25.96" height="15.70" fill="#5b8ac3"/>
<rect x="617.56" y="190.77" width="25.96" height="15.70" fill="#c8e6f0"/>
<rect x="643.47" y="190.77" width="25.96" height="15.70" fill="#5b8ac3"/>
<rect x="669.37" y="190.77" width="25.96" height="15.70" fill="#acd4e7"/>
<rect x="695.28" y="190.77" width="25.96" height="15.70" fill="#c8e6f0"/>
<rect x="721.19" y="190.77" width="25.96" height="15.70" fill="#93c3de"/>
<rect x="747.10" y="190.77" width="25.96" height="15.70" fill="#c8e6f0"/>
<rect x="773.01" y="190.77" width="25.96" height="15.70" fill="#5b8ac3"/>
<rect x="798.91" y="190.77" width="25.96" height="15.70" fill="#5b8ac3"/>
<rect x="824.82" y="190.77" width="25.96" height="15.70" fill="#93c3de"/>
<rect x="850.73" y="190.77" width="25.96" height="15.70" fill="#5b8ac3"/>
<rect x="876.64" y="190.77" width="25.96" height="15.70" fill="#6898ca"/>
<rect x="902.54" y="190.77" width="25.96" height="15.70" fill="#79a9d3"/>
<rect x="928.45" y="190.77" width="25.96" height="15.70" fill="#6898ca"/>
<rect x="954.36" y="190.77" width="25.96" height="15.70" fill="#e0f2f1"/>
<rect x="980.27" y="190.77" width="25.96" height="15.70" fill="#6898ca"/>
<rect x="1006.18" y="190.77" width="25.96" height="15.70" fill="#6898ca"/>
<rect x="1032.08" y="190.77" width="25.96" height="15.70" fill="#5b8ac3"/>
<rect x="1057.99" y="190.77" width="25.96" height="15.70" fill="#79a9d3"/>
<rect x="1083.90" y="190.77" width="25.96" height="15.70" fill="#6898ca"/>
<rect x="1109.81" y="190.77" width="25.96" height="15.70" fill="#79a9d3"/>
<rect x="1135.72" y="190.77" width="25.96" height="15.70" fill="#4f7bbd"/>
<rect x="1161.62" y="190.77" width="25.96" height="15.70" fill="#5b8ac3"/>
<rect x="1187.53" y="190.77" width="25.96" height="15.70" fill="#5b8ac3"/>
<rect x="1213.44" y="190.77" width="25.96" height="15.70" fill="#6898ca"/>
<rect x="1239.35" y="190.77" width="25.96" height="15.70" fill="#db3128"/>
<rect x="1265.26" y="190.77" width="25.96" height="15.70" fill="#e6583c"/>
<rect x="1291.16" y="190.77" width="25.96" height="15.70" fill="#db3128"/>
<rect x="1317.07" y="190.77" width="25.96" height="15.70" fill="#f6e9a0"/>
<rect x="1342.98" y="190.77" width="25.96" height="15.70" fill="#e6583c"/>
<rect x="1368.89" y="190.77" width="25.96" height="15.70" fill="#f28d5a"/>
<rect x="1394.79" y="190.77" width="25.96" height="15.70" fill="#f5f9c5"/>
<rect x="1420.70" y="190.77" width="25.96" height="15.70" fill="#e6583c"/>
<rect x="1446.61" y="190.77" width="25.96" height="15.70" fill="#f28d5a"/>
<rect x="1472.52" y="190.77" width="25.96" height="15.70" fill="#c8e6f0"/>
<rect x="1498.43" y="190.77" width="25.96" height="15.70" fill="#f5f9c5"/>
<rect x="1524.33" y="190.77" width="25.96" height="15.70" fill="#79a9d3"/>
<rect x="1550.24" y="190.77" width="25.96" height="15.70" fill="#6898ca"/>
<rect x="1576.15" y="190.77" width="25.96" height="15.70" fill="#79a9d3"/>
<rect x="1602.06" y="190.77" width="25.96" height="15.70" fill="#6898ca"/>
<rect x="1627.97" y="190.77" width="25.96" height="15.70" fill="#5b8ac3"/>
<rect x="1653.87" y="190.77" width="25.96" height="15.70" fill="#f5f9c5"/>
<rect x="1679.78" y="190.77" width="25.96" height="15.70" fill="#5b8ac3"/>
<rect x="1705.69" y="190.77" width="25.96" height="15.70" fill="#93c3de"/>
<rect x="1731.60" y="190.77" width="25.96" height="15.70" fill="#6898ca"/>
<rect x="1757.51" y="190.77" width="25.96" height="15.70" fill="#79a9d3"/>
<rect x="1783.41" y="190.77" width="25.96" height="15.70" fill="#79a9d3"/>
<rect x="1809.32" y="190.77" width="25.96" height="15.70" fill="#5b8ac3"/>
<rect x="1835.23" y="190.77" width="25.96" height="15.70" fill="#edf7dc"/>
<rect x="1861.14" y="190.77" width="25.96" height="15.70" fill="#93c3de"/>
<rect x="1887.04" y="190.77" width="25.96" height="15.70" fill="#4f7bbd"/>
<rect x="1912.95" y="190.77" width="25.96" height="15.70" fill="#6898ca"/>
<rect x="1938.86" y="190.77" width="25.96" height="15.70" fill="#5b8ac3"/>
<rect x="1964.77" y="190.77" width="25.96" height="15.70" fill="#5b8ac3"/>
<rect x="1990.68" y="190.77" width="25.96" height="15.70" fill="#6898ca"/>
<rect x="2016.58" y="190.77" width="25.96" height="15.70" fill="#acd4e7"/>
<rect x="2042.49" y="190.77" width="25.96" height="15.70" fill="#acd4e7"/>
<rect x="99.40" y="206.42" width="25.96" height="15.70" fill="#4f7bbd"/>
<rect x="125.31" y="206.42" width="25.96" height="15.70" fill="#acd4e7"/>
<rect x="151.22" y="206.42" width="25.96" height="15.70" fill="#4f7bbd"/>
<rect x="177.12" y="206.42" width="25.96" height="15.70" fill="#4f7bbd"/>
<rect x="203.03" y="206.42" width="25.96" height="15.70" fill="#4f7bbd"/>
<rect x="228.94" y="206.42" width="25.96" height="15.70" fill="#4f7bbd"/>
<rect x="254.85" y="206.42" width="25.96" height="15.70" fill="#5481c0"/>
<rect x="280.76" y="206.42" width="25.96" height="15.70" fill="#4f7bbd"/>
<rect x="306.66" y="206.42" width="25.96" height="15.70" fill="#4f7bbd"/>
<rect x="332.57" y="206.42" width="25.96" height="15.70" fill="#5481c0"/>
<rect x="358.48" y="206.42" width="25.96" height="15.70" fill="#5481c0"/>
<rect x="384.39" y="206.42" width="25.96" height="15.70" fill="#93c3de"/>
<rect x="410.29" y="206.42" width="25.96" height="15.70" fill="#4f7bbd"/>
<rect x="436.20" y="206.42" width="25.96" height="15.70" fill="#5481c0"/>
<rect x="462.11" y="206.42" width="25.96" height="15.70" fill="#5b8ac3"/>
<rect x="488.02" y="206.42" width="25.96" height="15.70" fill="#4f7bbd"/>
<rect x="513.93" y="206.42" width="25.96" height="15.70" fill="#5481c0"/>
<rect x="539.83" y="206.42" width="25.96" height="15.70" fill="#4f7bbd"/>
<rect x="565.74" y="206.42" width="25.96" height="15.70" fill="#6898ca"/>
<rect x="591.65" y="206.42" width="25.96" height="15.70" fill="#4f7bbd"/>
<rect x="617.56" y="206.42" width="25.96" height="15.70" fill="#93c3de"/>
<rect x="643.47" y="206.42" width="25.96" height="15.70" fill="#4f7bbd"/>
<rect x="669.37" y="206.42" width="25.96" height="15.70" fill="#4f7bbd"/>
<rect x="695.28" y="206.42" width="25.96" height="15.70" fill="#4f7bbd"/>
<rect x="721.19" y="206.42" width="25.96" height="15.70" fill="#4f7bbd"/>
<rect x="747.10" y="206.42" width="25.96" height="15.70" fill="#4f7bbd"/>
<rect x="773.01" y="206.42" width="25.96" height="15.70" fill="#79a9d3"/>
<rect x="798.91" y="206.42" width="25.96" height="15.70" fill="#4f7bbd"/>
<rect x="824.82" y="206.42" width="25.96" height="15.70" fill="#4f7bbd"/>
<rect x="850.73" y="206.42" width="25.96" height="15.70" fill="#4f7bbd"/>
<rect x="876.64" y="206.42" width="25.96" height="15.70" fill="#4f7bbd"/>
<rect x="902.54" y="206.42" width="25.96" height="15.70" fill="#4f7bbd"/>
<rect x="928.45" y="206.42" width="25.96" height="15.70" fill="#4f7bbd"/>
<rect x="954.36" y="206.42" width="25.96" height="15.70" fill="#4f7bbd"/>
<rect x="980.27" y="206.42" width="25.96" height="15.70" fill="#5481c0"/>
<rect x="1006.18" y="206.42" width="25.96" height="15.70" fill="#4f7bbd"/>
<rect x="1032.08" y="206.42" width="25.96" height="15.70" fill="#5b8ac3"/>
<rect x="1057.99" y="206.42" width="25.96" height="15.70" fill="#4f7bbd"/>
<rect x="1083.90" y="206.42" width="25.96" height="15.70" fill="#4f7bbd"/>
<rect x="1109.81" y="206.42" width="25.96" height="15.70" fill="#4f7bbd"/>
<rect x="1135.72" y="206.42" width="25.96" height="15.70" fill="#4f7bbd"/>
<rect x="1161.62" y="206.42" width="25.96" height="15.70" fill="#4f7bbd"/>
<rect x="1187.53" y="206.42" width="25.96" height="15.70" fill="#4f7bbd"/>
<rect x="1213.44" y="206.42" width="25.96" height="15.70" fill="#4f7bbd"/>
<rect x="1239.35" y="206.42" width="25.96" height="15.70" fill="#db3128"/>
<rect x="1265.26" y="206.42" width="25.96" height="15.70" fill="#db3128"/>
<rect x="1291.16" y="206.42" width="25.96" height="15.70" fill="#f2c07a"/>
<rect x="1317.07" y="206.42" width="25.96" height="15.70" fill="#f5f9c5"/>
<rect x="1342.98" y="206.42" width="25.96" height="15.70" fill="#f2c07a"/>
<rect x="1368.89" y="206.42" width="25.96" height="15.70" fill="#db3128"/>
<rect x="1394.79" y="206.42" width="25.96" height="15.70" fill="#db3128"/>
<rect x="1420.70" y="206.42" width="25.96" height="15.70" fill="#db3128"/>
<rect x="1446.61" y="206.42" width="25.96" height="15.70" fill="#db3128"/>
<rect x="1472.52" y="206.42" width="25.96" height="15.70" fill="#f6e9a0"/>
<rect x="1498.43" y="206.42" width="25.96" height="15.70" fill="#db3128"/>
<rect x="1524.33" y="206.42" width="25.96" height="15.70" fill="#4f7bbd"/>
<rect x="1550.24" y="206.42" width="25.96" height="15.70" fill="#4f7bbd"/>
<rect x="1576.15" y="206.42" width="25.96" height="15.70" fill="#4f7bbd"/>
<rect x="1602.06" y="206.42" width="25.96" height="15.70" fill="#5b8ac3"/>
<rect x="1627.97" y="206.42" width="25.96" height="15.70" fill="#5b8ac3"/>
<rect x="1653.87" y="206.42" width="25.96" height="15.70" fill="#4f7bbd"/>
<rect x="1679.78" y="206.42" width="25.96" height="15.70" fill="#4f7bbd"/>
<rect x="1705.69" y="206.42" width="25.96" height="15.70" fill="#4f7bbd"/>
<rect x="1731.60" y="206.42" width="25.96" height="15.70" fill="#4f7bbd"/>
<rect x="1757.51" y="206.42" width="25.96" height="15.70" fill="#4f7bbd"/>
<rect x="1783.41" y="206.42" width="25.96" height="15.70" fill="#4f7bbd"/>
<rect x="1809.32" y="206.42" width="25.96" height="15.70" fill="#4f7bbd"/>
<rect x="1835.23" y="206.42" width="25.96" height="15.70" fill="#4f7bbd"/>
<rect x="1861.14" y="206.42" width="25.96" height="15.70" fill="#4f7bbd"/>
<rect x="1887.04" y="206.42" width="25.96" height="15.70" fill="#93c3de"/>
<rect x="1912.95" y="206.42" width="25.96" height="15.70" fill="#4f7bbd"/>
<rect x="1938.86" y="206.42" width="25.96" height="15.70" fill="#acd4e7"/>
<rect x="1964.77" y="206.42" width="25.96" height="15.70" fill="#79a9d3"/>
<rect x="1990.68" y="206.42" width="25.96" height="15.70" fill="#79a9d3"/>
<rect x="2016.58" y="206.42" width="25.96" height="15.70" fill="#4f7bbd"/>
<rect x="2042.49" y="206.42" width="25.96" height="15.70" fill="#4f7bbd"/>
<rect x="99.40" y="222.07" width="25.96" height="15.70" fill="#4f7bbd"/>
<rect x="125.31" y="222.07" width="25.96" height="15.70" fill="#5b8ac3"/>
<rect x="151.22" y="222.07" width="25.96" height="15.70" fill="#4f7bbd"/>
<rect x="177.12" y="222.07" width="25.96" height="15.70" fill="#4f7bbd"/>
<rect x="203.03" y="222.07" width="25.96" height="15.70" fill="#4f7bbd"/>
<rect x="228.94" y="222.07" width="25.96" height="15.70" fill="#4f7bbd"/>
<rect x="254.85" y="222.07" width="25.96" height="15.70" fill="#4f7bbd"/>
<rect x="280.76" y="222.07" width="25.96" height="15.70" fill="#5481c0"/>
<rect x="306.66" y="222.07" width="25.96" height="15.70" fill="#4f7bbd"/>
<rect x="332.57" y="222.07" width="25.96" height="15.70" fill="#79a9d3"/>
<rect x="358.48" y="222.07" width="25.96" height="15.70" fill="#5481c0"/>
<rect x="384.39" y="222.07" width="25.96" height="15.70" fill="#79a9d3"/>
<rect x="410.29" y="222.07" width="25.96" height="15.70" fill="#5481c0"/>
<rect x="436.20" y="222.07" width="25.96" height="15.70" fill="#4f7bbd"/>
<rect x="462.11" y="222.07" width="25.96" height="15.70" fill="#4f7bbd"/>
<rect x="488.02" y="222.07" width="25.96" height="15.70" fill="#6898ca"/>
<rect x="513.93" y="222.07" width="25.96" height="15.70" fill="#5b8ac3"/>
<rect x="539.83" y="222.07" width="25.96" height="15.70" fill="#4f7bbd"/>
<rect x="565.74" y="222.07" width="25.96" height="15.70" fill="#5b8ac3"/>
<rect x="591.65" y="222.07" width="25.96" height="15.70" fill="#4f7bbd"/>
<rect x="617.56" y="222.07" width="25.96" height="15.70" fill="#6898ca"/>
<rect x="643.47" y="222.07" width="25.96" height="15.70" fill="#93c3de"/>
<rect x="669.37" y="222.07" width="25.96" height="15.70" fill="#4f7bbd"/>
<rect x="695.28" y="222.07" width="25.96" height="15.70" fill="#5481c0"/>
<rect x="721.19" y="222.07" width="25.96" height="15.70" fill="#4f7bbd"/>
<rect x="747.10" y="222.07" width="25.96" height="15.70" fill="#4f7bbd"/>
<rect x="773.01" y="222.07" width="25.96" height="15.70" fill="#4f7bbd"/>
<rect x="798.91" y="222.07" width="25.96" height="15.70" fill="#4f7bbd"/>
<rect x="824.82" y="222.07" width="25.96" height="15.70" fill="#4f7bbd"/>
<rect x="850.73" y="222.07" width="25.96" height="15.70" fill="#4f7bbd"/>
<rect x="876.64" y="222.07" width="25.96" height="15.70" fill="#5481c0"/>
<rect x="902.54" y="222.07" width="25.96" height="15.70" fill="#5481c0"/>
<rect x="928.45" y="222.07" width="25.96" height="15.70" fill="#4f7bbd"/>
<rect x="954.36" y="222.07" width="25.96" height="15.70" fill="#4f7bbd"/>
<rect x="980.27" y="222.07" width="25.96" height="15.70" fill="#4f7bbd"/>
<rect x="1006.18" y="222.07" width="25.96" height="15.70" fill="#6898ca"/>
<rect x="1032.08" y="222.07" width="25.96" height="15.70" fill="#4f7bbd"/>
<rect x="1057.99" y="222.07" width="25.96" height="15.70" fill="#4f7bbd"/>
<rect x="1083.90" y="222.07" width="25.96" height="15.70" fill="#4f7bbd"/>
<rect x="1109.81" y="222.07" width="25.96" height="15.70" fill="#4f7bbd"/>
<rect x="1135.72" y="222.07" width="25.96" height="15.70" fill="#4f7bbd"/>
<rect x="1161.62" y="222.07" width="25.96" height="15.70" fill="#4f7bbd"/>
<rect x="1187.53" y="222.07" width="25.96" height="15.70" fill="#4f7bbd"/>
<rect x="1213.44" y="222.07" width="25.96" height="15.70" fill="#4f7bbd"/>
<rect x="1239.35" y="222.07" width="25.96" height="15.70" fill="#79a9d3"/>
<rect x="1265.26" y="222.07" width="25.96" height="15.70" fill="#6898ca"/>
<rect x="1291.16" y="222.07" width="25.96" height="15.70" fill="#e6583c"/>
<rect x="1317.07" y="222.07" width="25.96" height="15.70" fill="#f6e9a0"/>
<rect x="1342.98" y="222.07" width="25.96" height="15.70" fill="#93c3de"/>
<rect x="1368.89" y="222.07" width="25.96" height="15.70" fill="#db3128"/>
<rect x="1394.79" y="222.07" width="25.96" height="15.70" fill="#db3128"/>
<rect x="1420.70" y="222.07" width="25.96" height="15.70" fill="#e0f2f1"/>
<rect x="1446.61" y="222.07" width="25.96" height="15.70" fill="#f28d5a"/>
<rect x="1472.52" y="222.07" width="25.96" height="15.70" fill="#6898ca"/>
<rect x="1498.43" y="222.07" width="25.96" height="15.70" fill="#acd4e7"/>
<rect x="1524.33" y="222.07" width="25.96" height="15.70" fill="#db3128"/>
<rect x="1550.24" y="222.07" width="25.96" height="15.70" fill="#e0f2f1"/>
<rect x="1576.15" y="222.07" width="25.96" height="15.70" fill="#acd4e7"/>
<rect x="1602.06" y="222.07" width="25.96" height="15.70" fill="#f6e9a0"/>
<rect x="1627.97" y="222.07" width="25.96" height="15.70" fill="#f2c07a"/>
<rect x="1653.87" y="222.07" width="25.96" height="15.70" fill="#edf7dc"/>
<rect x="1679.78" y="222.07" width="25.96" height="15.70" fill="#f5f9c5"/>
<rect x="1705.69" y="222.07" width="25.96" height="15.70" fill="#93c3de"/>
<rect x="1731.60" y="222.07" width="25.96" height="15.70" fill="#5b8ac3"/>
<rect x="1757.51" y="222.07" width="25.96" height="15.70" fill="#6898ca"/>
<rect x="1783.41" y="222.07" width="25.96" height="15.70" fill="#93c3de"/>
<rect x="1809.32" y="222.07" width="25.96" height="15.70" fill="#e0f2f1"/>
<rect x="1835.23" y="222.07" width="25.96" height="15.70" fill="#5b8ac3"/>
<rect x="1861.14" y="222.07" width="25.96" height="15.70" fill="#93c3de"/>
<rect x="1887.04" y="222.07" width="25.96" height="15.70" fill="#5481c0"/>
<rect x="1912.95" y="222.07" width="25.96" height="15.70" fill="#5481c0"/>
<rect x="1938.86" y="222.07" width="25.96" height="15.70" fill="#5481c0"/>
<rect x="1964.77" y="222.07" width="25.96" height="15.70" fill="#edf7dc"/>
<rect x="1990.68" y="222.07" width="25.96" height="15.70" fill="#e6583c"/>
<rect x="2016.58" y="222.07" width="25.96" height="15.70" fill="#93c3de"/>
<rect x="2042.49" y="222.07" width="25.96" height="15.70" fill="#4f7bbd"/>
<rect x="99.40" y="237.71" width="25.96" height="15.70" fill="#c8e6f0"/>
<rect x="125.31" y="237.71" width="25.96" height="15.70" fill="#93c3de"/>
<rect x="151.22" y="237.71" width="25.96" height="15.70" fill="#79a9d3"/>
<rect x="177.12" y="237.71" width="25.96" height="15.70" fill="#93c3de"/>
<rect x="203.03" y="237.71" width="25.96" height="15.70" fill="#6898ca"/>
<rect x="228.94" y="237.71" width="25.96" height="15.70" fill="#79a9d3"/>
<rect x="254.85" y="237.71" width="25.96" height="15.70" fill="#c8e6f0"/>
<rect x="280.76" y="237.71" width="25.96" height="15.70" fill="#f5f9c5"/>
<rect x="306.66" y="237.71" width="25.96" height="15.70" fill="#acd4e7"/>
<rect x="332.57" y="237.71" width="25.96" height="15.70" fill="#e0f2f1"/>
<rect x="358.48" y="237.71" width="25.96" height="15.70" fill="#f5f9c5"/>
<rect x="384.39" y="237.71" width="25.96" height="15.70" fill="#e0f2f1"/>
<rect x="410.29" y="237.71" width="25.96" height="15.70" fill="#93c3de"/>
<rect x="436.20" y="237.71" width="25.96" height="15.70" fill="#acd4e7"/>
<rect x="462.11" y="237.71" width="25.96" height="15.70" fill="#93c3de"/>
<rect x="488.02" y="237.71" width="25.96" height="15.70" fill="#93c3de"/>
<rect x="513.93" y="237.71" width="25.96" height="15.70" fill="#93c3de"/>
<rect x="539.83" y="237.71" width="25.96" height="15.70" fill="#93c3de"/>
<rect x="565.74" y="237.71" width="25.96" height="15.70" fill="#acd4e7"/>
<rect x="591.65" y="237.71" width="25.96" height="15.70" fill="#93c3de"/>
<rect x="617.56" y="237.71" width="25.96" height="15.70" fill="#f6e9a0"/>
<rect x="643.47" y="237.71" width="25.96" height="15.70" fill="#edf7dc"/>
<rect x="669.37" y="237.71" width="25.96" height="15.70" fill="#e0f2f1"/>
<rect x="695.28" y="237.71" width="25.96" height="15.70" fill="#acd4e7"/>
<rect x="721.19" y="237.71" width="25.96" height="15.70" fill="#93c3de"/>
<rect x="747.10" y="237.71" width="25.96" height="15.70" fill="#79a9d3"/>
<rect x="773.01" y="237.71" width="25.96" height="15.70" fill="#79a9d3"/>
<rect x="798.91" y="237.71" width="25.96" height="15.70" fill="#93c3de"/>
<rect x="824.82" y="237.71" width="25.96" height="15.70" fill="#acd4e7"/>
<rect x="850.73" y="237.71" width="25.96" height="15.70" fill="#6898ca"/>
<rect x="876.64" y="237.71" width="25.96" height="15.70" fill="#6898ca"/>
<rect x="902.54" y="237.71" width="25.96" height="15.70" fill="#6898ca"/>
<rect x="928.45" y="237.71" width="25.96" height="15.70" fill="#6898ca"/>
<rect x="954.36" y="237.71" width="25.96" height="15.70" fill="#93c3de"/>
<rect x="980.27" y="237.71" width="25.96" height="15.70" fill="#93c3de"/>
<rect x="1006.18" y="237.71" width="25.96" height="15.70" fill="#79a9d3"/>
<rect x="1032.08" y="237.71" width="25.96" height="15.70" fill="#5481c0"/>
<rect x="1057.99" y="237.71" width="25.96" height="15.70" fill="#6898ca"/>
<rect x="1083.90" y="237.71" width="25.96" height="15.70" fill="#6898ca"/>
<rect x="1109.81" y="237.71" width="25.96" height="15.70" fill="#93c3de"/>
<rect x="1135.72" y="237.71" width="25.96" height="15.70" fill="#93c3de"/>
<rect x="1161.62" y="237.71" width="25.96" height="15.70" fill="#79a9d3"/>
<rect x="1187.53" y="237.71" width="25.96" height="15.70" fill="#4f7bbd"/>
<rect x="1213.44" y="237.71" width="25.96" height="15.70" fill="#93c3de"/>
<rect x="1239.35" y="237.71" width="25.96" height="15.70" fill="#f5f9c5"/>
<rect x="1265.26" y="237.71" width="25.96" height="15.70" fill="#e0f2f1"/>
<rect x="1291.16" y="237.71" width="25.96" height="15.70" fill="#e0f2f1"/>
<rect x="1317.07" y="237.71" width="25.96" height="15.70" fill="#db3128"/>
<rect x="1342.98" y="237.71" width="25.96" height="15.70" fill="#edf7dc"/>
<rect x="1368.89" y="237.71" width="25.96" height="15.70" fill="#edf7dc"/>
<rect x="1394.79" y="237.71" width="25.96" height="15.70" fill="#93c3de"/>
<rect x="1420.70" y="237.71" width="25.96" height="15.70" fill="#c8e6f0"/>
<rect x="1446.61" y="237.71" width="25.96" height="15.70" fill="#e0f2f1"/>
<rect x="1472.52" y="237.71" width="25.96" height="15.70" fill="#93c3de"/>
<rect x="1498.43" y="237.71" width="25.96" height="15.70" fill="#acd4e7"/>
<rect x="1524.33" y="237.71" width="25.96" height="15.70" fill="#e0f2f1"/>
<rect x="1550.24" y="237.71" width="25.96" height="15.70" fill="#acd4e7"/>
<rect x="1576.15" y="237.71" width="25.96" height="15.70" fill="#acd4e7"/>
<rect x="1602.06" y="237.71" width="25.96" height="15.70" fill="#f5f9c5"/>
<rect x="1627.97" y="237.71" width="25.96" height="15.70" fill="#c8e6f0"/>
<rect x="1653.87" y="237.71" width="25.96" height="15.70" fill="#e0f2f1"/>
<rect x="1679.78" y="237.71" width="25.96" height="15.70" fill="#e0f2f1"/>
<rect x="1705.69" y="237.71" width="25.96" height="15.70" fill="#acd4e7"/>
<rect x="1731.60" y="237.71" width="25.96" height="15.70" fill="#93c3de"/>
<rect x="1757.51" y="237.71" width="25.96" height="15.70" fill="#acd4e7"/>
<rect x="1783.41" y="237.71" width="25.96" height="15.70" fill="#e0f2f1"/>
<rect x="1809.32" y="237.71" width="25.96" height="15.70" fill="#acd4e7"/>
<rect x="1835.23" y="237.71" width="25.96" height="15.70" fill="#e0f2f1"/>
<rect x="1861.14" y="237.71" width="25.96" height="15.70" fill="#93c3de"/>
<rect x="1887.04" y="237.71" width="25.96" height="15.70" fill="#93c3de"/>
<rect x="1912.95" y="237.71" width="25.96" height="15.70" fill="#acd4e7"/>
<rect x="1938.86" y="237.71" width="25.96" height="15.70" fill="#79a9d3"/>
<rect x="1964.77" y="237.71" width="25.96" height="15.70" fill="#e0f2f1"/>
<rect x="1990.68" y="237.71" width="25.96" height="15.70" fill="#c8e6f0"/>
<rect x="2016.58" y="237.71" width="25.96" height="15.70" fill="#acd4e7"/>
<rect x="2042.49" y="237.71" width="25.96" height="15.70" fill="#c8e6f0"/>
<rect x="99.40" y="253.36" width="25.96" height="15.70" fill="#4f7bbd"/>
<rect x="125.31" y="253.36" width="25.96" height="15.70" fill="#edf7dc"/>
<rect x="151.22" y="253.36" width="25.96" height="15.70" fill="#f2c07a"/>
<rect x="177.12" y="253.36" width="25.96" height="15.70" fill="#4f7bbd"/>
<rect x="203.03" y="253.36" width="25.96" height="15.70" fill="#edf7dc"/>
<rect x="228.94" y="253.36" width="25.96" height="15.70" fill="#5b8ac3"/>
<rect x="254.85" y="253.36" width="25.96" height="15.70" fill="#db3128"/>
<rect x="280.76" y="253.36" width="25.96" height="15.70" fill="#db3128"/>
<rect x="306.66" y="253.36" width="25.96" height="15.70" fill="#db3128"/>
<rect x="332.57" y="253.36" width="25.96" height="15.70" fill="#db3128"/>
<rect x="358.48" y="253.36" width="25.96" height="15.70" fill="#e6583c"/>
<rect x="384.39" y="253.36" width="25.96" height="15.70" fill="#5481c0"/>
<rect x="410.29" y="253.36" width="25.96" height="15.70" fill="#e0f2f1"/>
<rect x="436.20" y="253.36" width="25.96" height="15.70" fill="#acd4e7"/>
<rect x="462.11" y="253.36" width="25.96" height="15.70" fill="#acd4e7"/>
<rect x="488.02" y="253.36" width="25.96" height="15.70" fill="#4f7bbd"/>
<rect x="513.93" y="253.36" width="25.96" height="15.70" fill="#4f7bbd"/>
<rect x="539.83" y="253.36" width="25.96" height="15.70" fill="#4f7bbd"/>
<rect x="565.74" y="253.36" width="25.96" height="15.70" fill="#6898ca"/>
<rect x="591.65" y="253.36" width="25.96" height="15.70" fill="#4f7bbd"/>
<rect x="617.56" y="253.36" width="25.96" height="15.70" fill="#4f7bbd"/>
<rect x="643.47" y="253.36" width="25.96" height="15.70" fill="#4f7bbd"/>
<rect x="669.37" y="253.36" width="25.96" height="15.70" fill="#acd4e7"/>
<rect x="695.28" y="253.36" width="25.96" height="15.70" fill="#acd4e7"/>
<rect x="721.19" y="253.36" width="25.96" height="15.70" fill="#4f7bbd"/>
<rect x="747.10" y="253.36" width="25.96" height="15.70" fill="#4f7bbd"/>
<rect x="773.01" y="253.36" width="25.96" height="15.70" fill="#79a9d3"/>
<rect x="798.91" y="253.36" width="25.96" height="15.70" fill="#4f7bbd"/>
<rect x="824.82" y="253.36" width="25.96" height="15.70" fill="#4f7bbd"/>
<rect x="850.73" y="253.36" width="25.96" height="15.70" fill="#5481c0"/>
<rect x="876.64" y="253.36" width="25.96" height="15.70" fill="#4f7bbd"/>
<rect x="902.54" y="253.36" width="25.96" height="15.70" fill="#4f7bbd"/>
<rect x="928.45" y="253.36" width="25.96" height="15.70" fill="#79a9d3"/>
<rect x="954.36" y="253.36" width="25.96" height="15.70" fill="#5481c0"/>
<rect x="980.27" y="253.36" width="25.96" height="15.70" fill="#6898ca"/>
<rect x="1006.18" y="253.36" width="25.96" height="15.70" fill="#5b8ac3"/>
<rect x="1032.08" y="253.36" width="25.96" height="15.70" fill="#5b8ac3"/>
<rect x="1057.99" y="253.36" width="25.96" height="15.70" fill="#5b8ac3"/>
<rect x="1083.90" y="253.36" width="25.96" height="15.70" fill="#79a9d3"/>
<rect x="1109.81" y="253.36" width="25.96" height="15.70" fill="#c8e6f0"/>
<rect x="1135.72" y="253.36" width="25.96" height="15.70" fill="#4f7bbd"/>
<rect x="1161.62" y="253.36" width="25.96" height="15.70" fill="#4f7bbd"/>
<rect x="1187.53" y="253.36" width="25.96" height="15.70" fill="#4f7bbd"/>
<rect x="1213.44" y="253.36" width="25.96" height="15.70" fill="#6898ca"/>
<rect x="1239.35" y="253.36" width="25.96" height="15.70" fill="#4f7bbd"/>
<rect x="1265.26" y="253.36" width="25.96" height="15.70" fill="#4f7bbd"/>
<rect x="1291.16" y="253.36" width="25.96" height="15.70" fill="#4f7bbd"/>
<rect x="1317.07" y="253.36" width="25.96" height="15.70" fill="#4f7bbd"/>
<rect x="1342.98" y="253.36" width="25.96" height="15.70" fill="#5481c0"/>
<rect x="1368.89" y="253.36" width="25.96" height="15.70" fill="#4f7bbd"/>
<rect x="1394.79" y="253.36" width="25.96" height="15.70" fill="#5481c0"/>
<rect x="1420.70" y="253.36" width="25.96" height="15.70" fill="#93c3de"/>
<rect x="1446.61" y="253.36" width="25.96" height="15.70" fill="#93c3de"/>
<rect x="1472.52" y="253.36" width="25.96" height="15.70" fill="#6898ca"/>
<rect x="1498.43" y="253.36" width="25.96" height="15.70" fill="#f5f9c5"/>
<rect x="1524.33" y="253.36" width="25.96" height="15.70" fill="#db3128"/>
<rect x="1550.24" y="253.36" width="25.96" height="15.70" fill="#f5f9c5"/>
<rect x="1576.15" y="253.36" width="25.96" height="15.70" fill="#edf7dc"/>
<rect x="1602.06" y="253.36" width="25.96" height="15.70" fill="#4f7bbd"/>
<rect x="1627.97" y="253.36" width="25.96" height="15.70" fill="#4f7bbd"/>
<rect x="1653.87" y="253.36" width="25.96" height="15.70" fill="#5481c0"/>
<rect x="1679.78" y="253.36" width="25.96" height="15.70" fill="#4f7bbd"/>
<rect x="1705.69" y="253.36" width="25.96" height="15.70" fill="#93c3de"/>
<rect x="1731.60" y="253.36" width="25.96" height="15.70" fill="#4f7bbd"/>
<rect x="1757.51" y="253.36" width="25.96" height="15.70" fill="#acd4e7"/>
<rect x="1783.41" y="253.36" width="25.96" height="15.70" fill="#5481c0"/>
<rect x="1809.32" y="253.36" width="25.96" height="15.70" fill="#5b8ac3"/>
<rect x="1835.23" y="253.36" width="25.96" height="15.70" fill="#e6583c"/>
<rect x="1861.14" y="253.36" width="25.96" height="15.70" fill="#f28d5a"/>
<rect x="1887.04" y="253.36" width="25.96" height="15.70" fill="#5481c0"/>
<rect x="1912.95" y="253.36" width="25.96" height="15.70" fill="#4f7bbd"/>
<rect x="1938.86" y="253.36" width="25.96" height="15.70" fill="#5b8ac3"/>
<rect x="1964.77" y="253.36" width="25.96" height="15.70" fill="#4f7bbd"/>
<rect x="1990.68" y="253.36" width="25.96" height="15.70" fill="#4f7bbd"/>
<rect x="2016.58" y="253.36" width="25.96" height="15.70" fill="#f28d5a"/>
<rect x="2042.49" y="253.36" width="25.96" height="15.70" fill="#79a9d3"/>
<rect x="99.40" y="269.00" width="25.96" height="15.70" fill="#db3128"/>
<rect x="125.31" y="269.00" width="25.96" height="15.70" fill="#5b8ac3"/>
<rect x="151.22" y="269.00" width="25.96" height="15.70" fill="#4f7bbd"/>
<rect x="177.12" y="269.00" width="25.96" height="15.70" fill="#4f7bbd"/>
<rect x="203.03" y="269.00" width="25.96" height="15.70" fill="#4f7bbd"/>
<rect x="228.94" y="269.00" width="25.96" height="15.70" fill="#5481c0"/>
<rect x="254.85" y="269.00" width="25.96" height="15.70" fill="#db3128"/>
<rect x="280.76" y="269.00" width="25.96" height="15.70" fill="#4f7bbd"/>
<rect x="306.66" y="269.00" width="25.96" height="15.70" fill="#4f7bbd"/>
<rect x="332.57" y="269.00" width="25.96" height="15.70" fill="#4f7bbd"/>
<rect x="358.48" y="269.00" width="25.96" height="15.70" fill="#4f7bbd"/>
<rect x="384.39" y="269.00" width="25.96" height="15.70" fill="#6898ca"/>
<rect x="410.29" y="269.00" width="25.96" height="15.70" fill="#4f7bbd"/>
<rect x="436.20" y="269.00" width="25.96" height="15.70" fill="#c8e6f0"/>
<rect x="462.11" y="269.00" width="25.96" height="15.70" fill="#acd4e7"/>
<rect x="488.02" y="269.00" width="25.96" height="15.70" fill="#5481c0"/>
<rect x="513.93" y="269.00" width="25.96" height="15.70" fill="#5481c0"/>
<rect x="539.83" y="269.00" width="25.96" height="15.70" fill="#4f7bbd"/>
<rect x="565.74" y="269.00" width="25.96" height="15.70" fill="#5481c0"/>
<rect x="591.65" y="269.00" width="25.96" height="15.70" fill="#4f7bbd"/>
<rect x="617.56" y="269.00" width="25.96" height="15.70" fill="#db3128"/>
<rect x="643.47" y="269.00" width="25.96" height="15.70" fill="#93c3de"/>
<rect x="669.37" y="269.00" width="25.96" height="15.70" fill="#4f7bbd"/>
<rect x="695.28" y="269.00" width="25.96" height="15.70" fill="#4f7bbd"/>
<rect x="721.19" y="269.00" width="25.96" height="15.70" fill="#4f7bbd"/>
<rect x="747.10" y="269.00" width="25.96" height="15.70" fill="#4f7bbd"/>
<rect x="773.01" y="269.00" width="25.96" height="15.70" fill="#4f7bbd"/>
<rect x="798.91" y="269.00" width="25.96" height="15.70" fill="#4f7bbd"/>
<rect x="824.82" y="269.00" width="25.96" height="15.70" fill="#4f7bbd"/>
<rect x="850.73" y="269.00" width="25.96" height="15.70" fill="#4f7bbd"/>
<rect x="876.64" y="269.00" width="25.96" height="15.70" fill="#5481c0"/>
<rect x="902.54" y="269.00" width="25.96" height="15.70" fill="#5b8ac3"/>
<rect x="928.45" y="269.00" width="25.96" height="15.70" fill="#4f7bbd"/>
<rect x="954.36" y="269.00" width="25.96" height="15.70" fill="#4f7bbd"/>
<rect x="980.27" y="269.00" width="25.96" height="15.70" fill="#6898ca"/>
<rect x="1006.18" y="269.00" width="25.96" height="15.70" fill="#4f7bbd"/>
<rect x="1032.08" y="269.00" width="25.96" height="15.70" fill="#4f7bbd"/>
<rect x="1057.99" y="269.00" width="25.96" height="15.70" fill="#5481c0"/>
<rect x="1083.90" y="269.00" width="25.96" height="15.70" fill="#4f7bbd"/>
<rect x="1109.81" y="269.00" width="25.96" height="15.70" fill="#4f7bbd"/>
<rect x="1135.72" y="269.00" width="25.96" height="15.70" fill="#4f7bbd"/>
<rect x="1161.62" y="269.00" width="25.96" height="15.70" fill="#4f7bbd"/>
<rect x="1187.53" y="269.00" width="25.96" height="15.70" fill="#4f7bbd"/>
<rect x="1213.44" y="269.00" width="25.96" height="15.70" fill="#4f7bbd"/>
<rect x="1239.35" y="269.00" width="25.96" height="15.70" fill="#5b8ac3"/>
<rect x="1265.26" y="269.00" width="25.96" height="15.70" fill="#5b8ac3"/>
<rect x="1291.16" y="269.00" width="25.96" height="15.70" fill="#5b8ac3"/>
<rect x="1317.07" y="269.00" width="25.96" height="15.70" fill="#5b8ac3"/>
<rect x="1342.98" y="269.00" width="25.96" height="15.70" fill="#5b8ac3"/>
<rect x="1368.89" y="269.00" width="25.96" height="15.70" fill="#4f7bbd"/>
<rect x="1394.79" y="269.00" width="25.96" height="15.70" fill="#4f7bbd"/>
<rect x="1420.70" y="269.00" width="25.96" height="15.70" fill="#4f7bbd"/>
<rect x="1446.61" y="269.00" width="25.96" height="15.70" fill="#4f7bbd"/>
<rect x="1472.52" y="269.00" width="25.96" height="15.70" fill="#4f7bbd"/>
<rect x="1498.43" y="269.00" width="25.96" height="15.70" fill="#4f7bbd"/>
<rect x="1524.33" y="269.00" width="25.96" height="15.70" fill="#db3128"/>
<rect x="1550.24" y="269.00" width="25.96" height="15.70" fill="#db3128"/>
<rect x="1576.15" y="269.00" width="25.96" height="15.70" fill="#db3128"/>
<rect x="1602.06" y="269.00" width="25.96" height="15.70" fill="#4f7bbd"/>
<rect x="1627.97" y="269.00" width="25.96" height="15.70" fill="#4f7bbd"/>
<rect x="1653.87" y="269.00" width="25.96" height="15.70" fill="#4f7bbd"/>
<rect x="1679.78" y="269.00" width="25.96" height="15.70" fill="#4f7bbd"/>
<rect x="1705.69" y="269.00" width="25.96" height="15.70" fill="#4f7bbd"/>
<rect x="1731.60" y="269.00" width="25.96" height="15.70" fill="#4f7bbd"/>
<rect x="1757.51" y="269.00" width="25.96" height="15.70" fill="#4f7bbd"/>
<rect x="1783.41" y="269.00" width="25.96" height="15.70" fill="#4f7bbd"/>
<rect x="1809.32" y="269.00" width="25.96" height="15.70" fill="#4f7bbd"/>
<rect x="1835.23" y="269.00" width="25.96" height="15.70" fill="#4f7bbd"/>
<rect x="1861.14" y="269.00" width="25.96" height="15.70" fill="#4f7bbd"/>
<rect x="1887.04" y="269.00" width="25.96" height="15.70" fill="#4f7bbd"/>
<rect x="1912.95" y="269.00" width="25.96" height="15.70" fill="#4f7bbd"/>
<rect x="1938.86" y="269.00" width="25.96" height="15.70" fill="#4f7bbd"/>
<rect x="1964.77" y="269.00" width="25.96" height="15.70" fill="#4f7bbd"/>
<rect x="1990.68" y="269.00" width="25.96" height="15.70" fill="#4f7bbd"/>
<rect x="2016.58" y="269.00" width="25.96" height="15.70" fill="#4f7bbd"/>
<rect x="2042.49" y="269.00" width="25.96" height="15.70" fill="#4f7bbd"/>
<rect x="99.40" y="284.65" width="25.96" height="15.70" fill="#f6e9a0"/>
<rect x="125.31" y="284.65" width="25.96" height="15.70" fill="#edf7dc"/>
<rect x="151.22" y="284.65" width="25.96" height="15.70" fill="#f6e9a0"/>
<rect x="177.12" y="284.65" width="25.96" height="15.70" fill="#db3128"/>
<rect x="203.03" y="284.65" width="25.96" height="15.70" fill="#f6e9a0"/>
<rect x="228.94" y="284.65" width="25.96" height="15.70" fill="#f6e9a0"/>
<rect x="254.85" y="284.65" width="25.96" height="15.70" fill="#93c3de"/>
<rect x="280.76" y="284.65" width="25.96" height="15.70" fill="#93c3de"/>
<rect x="306.66" y="284.65" width="25.96" height="15.70" fill="#e0f2f1"/>
<rect x="332.57" y="284.65" width="25.96" height="15.70" fill="#79a9d3"/>
<rect x="358.48" y="284.65" width="25.96" height="15.70" fill="#acd4e7"/>
<rect x="384.39" y="284.65" width="25.96" height="15.70" fill="#6898ca"/>
<rect x="410.29" y="284.65" width="25.96" height="15.70" fill="#93c3de"/>
<rect x="436.20" y="284.65" width="25.96" height="15.70" fill="#93c3de"/>
<rect x="462.11" y="284.65" width="25.96" height="15.70" fill="#93c3de"/>
<rect x="488.02" y="284.65" width="25.96" height="15.70" fill="#79a9d3"/>
<rect x="513.93" y="284.65" width="25.96" height="15.70" fill="#6898ca"/>
<rect x="539.83" y="284.65" width="25.96" height="15.70" fill="#e0f2f1"/>
<rect x="565.74" y="284.65" width="25.96" height="15.70" fill="#93c3de"/>
<rect x="591.65" y="284.65" width="25.96" height="15.70" fill="#e0f2f1"/>
<rect x="617.56" y="284.65" width="25.96" height="15.70" fill="#c8e6f0"/>
<rect x="643.47" y="284.65" width="25.96" height="15.70" fill="#6898ca"/>
<rect x="669.37" y="284.65" width="25.96" height="15.70" fill="#6898ca"/>
<rect x="695.28" y="284.65" width="25.96" height="15.70" fill="#79a9d3"/>
<rect x="721.19" y="284.65" width="25.96" height="15.70" fill="#acd4e7"/>
<rect x="747.10" y="284.65" width="25.96" height="15.70" fill="#79a9d3"/>
<rect x="773.01" y="284.65" width="25.96" height="15.70" fill="#edf7dc"/>
<rect x="798.91" y="284.65" width="25.96" height="15.70" fill="#93c3de"/>
<rect x="824.82" y="284.65" width="25.96" height="15.70" fill="#acd4e7"/>
<rect x="850.73" y="284.65" width="25.96" height="15.70" fill="#93c3de"/>
<rect x="876.64" y="284.65" width="25.96" height="15.70" fill="#93c3de"/>
<rect x="902.54" y="284.65" width="25.96" height="15.70" fill="#5b8ac3"/>
<rect x="928.45" y="284.65" width="25.96" height="15.70" fill="#5b8ac3"/>
<rect x="954.36" y="284.65" width="25.96" height="15.70" fill="#6898ca"/>
<rect x="980.27" y="284.65" width="25.96" height="15.70" fill="#c8e6f0"/>
<rect x="1006.18" y="284.65" width="25.96" height="15.70" fill="#79a9d3"/>
<rect x="1032.08" y="284.65" width="25.96" height="15.70" fill="#5b8ac3"/>
<rect x="1057.99" y="284.65" width="25.96" height="15.70" fill="#93c3de"/>
<rect x="1083.90" y="284.65" width="25.96" height="15.70" fill="#f5f9c5"/>
<rect x="1109.81" y="284.65" width="25.96" height="15.70" fill="#edf7dc"/>
<rect x="1135.72" y="284.65" width="25.96" height="15.70" fill="#6898ca"/>
<rect x="1161.62" y="284.65" width="25.96" height="15.70" fill="#acd4e7"/>
<rect x="1187.53" y="284.65" width="25.96" height="15.70" fill="#e0f2f1"/>
<rect x="1213.44" y="284.65" width="25.96" height="15.70" fill="#6898ca"/>
<rect x="1239.35" y="284.65" width="25.96" height="15.70" fill="#acd4e7"/>
<rect x="1265.26" y="284.65" width="25.96" height="15.70" fill="#acd4e7"/>
<rect x="1291.16" y="284.65" width="25.96" height="15.70" fill="#c8e6f0"/>
<rect x="1317.07" y="284.65" width="25.96" height="15.70" fill="#93c3de"/>
<rect x="1342.98" y="284.65" width="25.96" height="15.70" fill="#c8e6f0"/>
<rect x="1368.89" y="284.65" width="25.96" height="15.70" fill="#79a9d3"/>
<rect x="1394.79" y="284.65" width="25.96" height="15.70" fill="#6898ca"/>
<rect x="1420.70" y="284.65" width="25.96" height="15.70" fill="#79a9d3"/>
<rect x="1446.61" y="284.65" width="25.96" height="15.70" fill="#93c3de"/>
<rect x="1472.52" y="284.65" width="25.96" height="15.70" fill="#79a9d3"/>
<rect x="1498.43" y="284.65" width="25.96" height="15.70" fill="#79a9d3"/>
<rect x="1524.33" y="284.65" width="25.96" height="15.70" fill="#6898ca"/>
<rect x="1550.24" y="284.65" width="25.96" height="15.70" fill="#6898ca"/>
<rect x="1576.15" y="284.65" width="25.96" height="15.70" fill="#93c3de"/>
<rect x="1602.06" y="284.65" width="25.96" height="15.70" fill="#6898ca"/>
<rect x="1627.97" y="284.65" width="25.96" height="15.70" fill="#79a9d3"/>
<rect x="1653.87" y="284.65" width="25.96" height="15.70" fill="#79a9d3"/>
<rect x="1679.78" y="284.65" width="25.96" height="15.70" fill="#6898ca"/>
<rect x="1705.69" y="284.65" width="25.96" height="15.70" fill="#6898ca"/>
<rect x="1731.60" y="284.65" width="25.96" height="15.70" fill="#79a9d3"/>
<rect x="1757.51" y="284.65" width="25.96" height="15.70" fill="#c8e6f0"/>
<rect x="1783.41" y="284.65" width="25.96" height="15.70" fill="#79a9d3"/>
<rect x="1809.32" y="284.65" width="25.96" height="15.70" fill="#93c3de"/>
<rect x="1835.23" y="284.65" width="25.96" height="15.70" fill="#6898ca"/>
<rect x="1861.14" y="284.65" width="25.96" height="15.70" fill="#79a9d3"/>
<rect x="1887.04" y="284.65" width="25.96" height="15.70" fill="#acd4e7"/>
<rect x="1912.95" y="284.65" width="25.96" height="15.70" fill="#5b8ac3"/>
<rect x="1938.86" y="284.65" width="25.96" height="15.70" fill="#93c3de"/>
<rect x="1964.77" y="284.65" width="25.96" height="15.70" fill="#93c3de"/>
<rect x="1990.68" y="284.65" width="25.96" height="15.70" fill="#79a9d3"/>
<rect x="2016.58" y="284.65" width="25.96" height="15.70" fill="#93c3de"/>
<rect x="2042.49" y="284.65" width="25.96" height="15.70" fill="#6898ca"/>
<rect x="99.40" y="300.29" width="25.96" height="15.70" fill="#db3128"/>
<rect x="125.31" y="300.29" width="25.96" height="15.70" fill="#f6e9a0"/>
<rect x="151.22" y="300.29" width="25.96" height="15.70" fill="#db3128"/>
<rect x="177.12" y="300.29" width="25.96" height="15.70" fill="#f5f9c5"/>
<rect x="203.03" y="300.29" width="25.96" height="15.70" fill="#db3128"/>
<rect x="228.94" y="300.29" width="25.96" height="15.70" fill="#db3128"/>
<rect x="254.85" y="300.29" width="25.96" height="15.70" fill="#4f7bbd"/>
<rect x="280.76" y="300.29" width="25.96" height="15.70" fill="#4f7bbd"/>
<rect x="306.66" y="300.29" width="25.96" height="15.70" fill="#5b8ac3"/>
<rect x="332.57" y="300.29" width="25.96" height="15.70" fill="#6898ca"/>
<rect x="358.48" y="300.29" width="25.96" height="15.70" fill="#5481c0"/>
<rect x="384.39" y="300.29" width="25.96" height="15.70" fill="#4f7bbd"/>
<rect x="410.29" y="300.29" width="25.96" height="15.70" fill="#4f7bbd"/>
<rect x="436.20" y="300.29" width="25.96" height="15.70" fill="#4f7bbd"/>
<rect x="462.11" y="300.29" width="25.96" height="15.70" fill="#4f7bbd"/>
<rect x="488.02" y="300.29" width="25.96" height="15.70" fill="#4f7bbd"/>
<rect x="513.93" y="300.29" width="25.96" height="15.70" fill="#4f7bbd"/>
<rect x="539.83" y="300.29" width="25.96" height="15.70" fill="#4f7bbd"/>
<rect x="565.74" y="300.29" width="25.96" height="15.70" fill="#4f7bbd"/>
<rect x="591.65" y="300.29" width="25.96" height="15.70" fill="#4f7bbd"/>
<rect x="617.56" y="300.29" width="25.96" height="15.70" fill="#5481c0"/>
<rect x="643.47" y="300.29" width="25.96" height="15.70" fill="#4f7bbd"/>
<rect x="669.37" y="300.29" width="25.96" height="15.70" fill="#4f7bbd"/>
<rect x="695.28" y="300.29" width="25.96" height="15.70" fill="#5481c0"/>
<rect x="721.19" y="300.29" width="25.96" height="15.70" fill="#acd4e7"/>
<rect x="747.10" y="300.29" width="25.96" height="15.70" fill="#5b8ac3"/>
<rect x="773.01" y="300.29" width="25.96" height="15.70" fill="#4f7bbd"/>
<rect x="798.91" y="300.29" width="25.96" height="15.70" fill="#4f7bbd"/>
<rect x="824.82" y="300.29" width="25.96" height="15.70" fill="#4f7bbd"/>
<rect x="850.73" y="300.29" width="25.96" height="15.70" fill="#4f7bbd"/>
<rect x="876.64" y="300.29" width="25.96" height="15.70" fill="#4f7bbd"/>
<rect x="902.54" y="300.29" width="25.96" height="15.70" fill="#5481c0"/>
<rect x="928.45" y="300.29" width="25.96" height="15.70" fill="#4f7bbd"/>
<rect x="954.36" y="300.29" width="25.96" height="15.70" fill="#4f7bbd"/>
<rect x="980.27" y="300.29" width="25.96" height="15.70" fill="#4f7bbd"/>
<rect x="1006.18" y="300.29" width="25.96" height="15.70" fill="#4f7bbd"/>
<rect x="1032.08" y="300.29" width="25.96" height="15.70" fill="#5b8ac3"/>
<rect x="1057.99" y="300.29" width="25.96" height="15.70" fill="#6898ca"/>
<rect x="1083.90" y="300.29" width="25.96" height="15.70" fill="#4f7bbd"/>
<rect x="1109.81" y="300.29" width="25.96" height="15.70" fill="#5481c0"/>
<rect x="1135.72" y="300.29" width="25.96" height="15.70" fill="#4f7bbd"/>
<rect x="1161.62" y="300.29" width="25.96" height="15.70" fill="#4f7bbd"/>
<rect x="1187.53" y="300.29" width="25.96" height="15.70" fill="#4f7bbd"/>
<rect x="1213.44" y="300.29" width="25.96" height="15.70" fill="#5b8ac3"/>
<rect x="1239.35" y="300.29" width="25.96" height="15.70" fill="#4f7bbd"/>
<rect x="1265.26" y="300.29" width="25.96" height="15.70" fill="#4f7bbd"/>
<rect x="1291.16" y="300.29" width="25.96" height="15.70" fill="#4f7bbd"/>
<rect x="1317.07" y="300.29" width="25.96" height="15.70" fill="#4f7bbd"/>
<rect x="1342.98" y="300.29" width="25.96" height="15.70" fill="#4f7bbd"/>
<rect x="1368.89" y="300.29" width="25.96" height="15.70" fill="#4f7bbd"/>
<rect x="1394.79" y="300.29" width="25.96" height="15.70" fill="#4f7bbd"/>
<rect x="1420.70" y="300.29" width="25.96" height="15.70" fill="#4f7bbd"/>
<rect x="1446.61" y="300.29" width="25.96" height="15.70" fill="#4f7bbd"/>
<rect x="1472.52" y="300.29" width="25.96" height="15.70" fill="#4f7bbd"/>
<rect x="1498.43" y="300.29" width="25.96" height="15.70" fill="#4f7bbd"/>
<rect x="1524.33" y="300.29" width="25.96" height="15.70" fill="#4f7bbd"/>
<rect x="1550.24" y="300.29" width="25.96" height="15.70" fill="#4f7bbd"/>
<rect x="1576.15" y="300.29" width="25.96" height="15.70" fill="#4f7bbd"/>
<rect x="1602.06" y="300.29" width="25.96" height="15.70" fill="#4f7bbd"/>
<rect x="1627.97" y="300.29" width="25.96" height="15.70" fill="#4f7bbd"/>
<rect x="1653.87" y="300.29" width="25.96" height="15.70" fill="#4f7bbd"/>
<rect x="1679.78" y="300.29" width="25.96" height="15.70" fill="#4f7bbd"/>
<rect x="1705.69" y="300.29" width="25.96" height="15.70" fill="#4f7bbd"/>
<rect x="1731.60" y="300.29" width="25.96" height="15.70" fill="#4f7bbd"/>
<rect x="1757.51" y="300.29" width="25.96" height="15.70" fill="#4f7bbd"/>
<rect x="1783.41" y="300.29" width="25.96" height="15.70" fill="#4f7bbd"/>
<rect x="1809.32" y="300.29" width="25.96" height="15.70" fill="#4f7bbd"/>
<rect x="1835.23" y="300.29" width="25.96" height="15.70" fill="#5481c0"/>
<rect x="1861.14" y="300.29" width="25.96" height="15.70" fill="#4f7bbd"/>
<rect x="1887.04" y="300.29" width="25.96" height="15.70" fill="#4f7bbd"/>
<rect x="1912.95" y="300.29" width="25.96" height="15.70" fill="#5481c0"/>
<rect x="1938.86" y="300.29" width="25.96" height="15.70" fill="#4f7bbd"/>
<rect x="1964.77" y="300.29" width="25.96" height="15.70" fill="#4f7bbd"/>
<rect x="1990.68" y="300.29" width="25.96" height="15.70" fill="#4f7bbd"/>
<rect x="2016.58" y="300.29" width="25.96" height="15.70" fill="#4f7bbd"/>
<rect x="2042.49" y="300.29" width="25.96" height="15.70" fill="#4f7bbd"/>
<rect x="99.40" y="315.94" width="25.96" height="15.70" fill="#4f7bbd"/>
<rect x="125.31" y="315.94" width="25.96" height="15.70" fill="#4f7bbd"/>
<rect x="151.22" y="315.94" width="25.96" height="15.70" fill="#4f7bbd"/>
<rect x="177.12" y="315.94" width="25.96" height="15.70" fill="#4f7bbd"/>
<rect x="203.03" y="315.94" width="25.96" height="15.70" fill="#4f7bbd"/>
<rect x="228.94" y="315.94" width="25.96" height="15.70" fill="#4f7bbd"/>
<rect x="254.85" y="315.94" width="25.96" height="15.70" fill="#5481c0"/>
<rect x="280.76" y="315.94" width="25.96" height="15.70" fill="#4f7bbd"/>
<rect x="306.66" y="315.94" width="25.96" height="15.70" fill="#4f7bbd"/>
<rect x="332.57" y="315.94" width="25.96" height="15.70" fill="#4f7bbd"/>
<rect x="358.48" y="315.94" width="25.96" height="15.70" fill="#4f7bbd"/>
<rect x="384.39" y="315.94" width="25.96" height="15.70" fill="#db3128"/>
<rect x="410.29" y="315.94" width="25.96" height="15.70" fill="#4f7bbd"/>
<rect x="436.20" y="315.94" width="25.96" height="15.70" fill="#4f7bbd"/>
<rect x="462.11" y="315.94" width="25.96" height="15.70" fill="#5481c0"/>
<rect x="488.02" y="315.94" width="25.96" height="15.70" fill="#4f7bbd"/>
<rect x="513.93" y="315.94" width="25.96" height="15.70" fill="#4f7bbd"/>
<rect x="539.83" y="315.94" width="25.96" height="15.70" fill="#4f7bbd"/>
<rect x="565.74" y="315.94" width="25.96" height="15.70" fill="#4f7bbd"/>
<rect x="591.65" y="315.94" width="25.96" height="15.70" fill="#4f7bbd"/>
<rect x="617.56" y="315.94" width="25.96" height="15.70" fill="#6898ca"/>
<rect x="643.47" y="315.94" width="25.96" height="15.70" fill="#4f7bbd"/>
<rect x="669.37" y="315.94" width="25.96" height="15.70" fill="#4f7bbd"/>
<rect x="695.28" y="315.94" width="25.96" height="15.70" fill="#5481c0"/>
<rect x="721.19" y="315.94" width="25.96" height="15.70" fill="#4f7bbd"/>
<rect x="747.10" y="315.94" width="25.96" height="15.70" fill="#4f7bbd"/>
<rect x="773.01" y="315.94" width="25.96" height="15.70" fill="#4f7bbd"/>
<rect x="798.91" y="315.94" width="25.96" height="15.70" fill="#4f7bbd"/>
<rect x="824.82" y="315.94" width="25.96" height="15.70" fill="#4f7bbd"/>
<rect x="850.73" y="315.94" width="25.96" height="15.70" fill="#4f7bbd"/>
<rect x="876.64" y="315.94" width="25.96" height="15.70" fill="#4f7bbd"/>
<rect x="902.54" y="315.94" width="25.96" height="15.70" fill="#4f7bbd"/>
<rect x="928.45" y="315.94" width="25.96" height="15.70" fill="#4f7bbd"/>
<rect x="954.36" y="315.94" width="25.96" height="15.70" fill="#4f7bbd"/>
<rect x="980.27" y="315.94" width="25.96" height="15.70" fill="#4f7bbd"/>
<rect x="1006.18" y="315.94" width="25.96" height="15.70" fill="#4f7bbd"/>
<rect x="1032.08" y="315.94" width="25.96" height="15.70" fill="#4f7bbd"/>
<rect x="1057.99" y="315.94" width="25.96" height="15.70" fill="#4f7bbd"/>
<rect x="1083.90" y="315.94" width="25.96" height="15.70" fill="#4f7bbd"/>
<rect x="1109.81" y="315.94" width="25.96" height="15.70" fill="#4f7bbd"/>
<rect x="1135.72" y="315.94" width="25.96" height="15.70" fill="#4f7bbd"/>
<rect x="1161.62" y="315.94" width="25.96" height="15.70" fill="#4f7bbd"/>
<rect x="1187.53" y="315.94" width="25.96" height="15.70" fill="#4f7bbd"/>
<rect x="1213.44" y="315.94" width="25.96" height="15.70" fill="#4f7bbd"/>
<rect x="1239.35" y="315.94" width="25.96" height="15.70" fill="#5b8ac3"/>
<rect x="1265.26" y="315.94" width="25.96" height="15.70" fill="#79a9d3"/>
<rect x="1291.16" y="315.94" width="25.96" height="15.70" fill="#db3128"/>
<rect x="1317.07" y="315.94" width="25.96" height="15.70" fill="#db3128"/>
<rect x="1342.98" y="315.94" width="25.96" height="15.70" fill="#db3128"/>
<rect x="1368.89" y="315.94" width="25.96" height="15.70" fill="#5b8ac3"/>
<rect x="1394.79" y="315.94" width="25.96" height="15.70" fill="#5481c0"/>
<rect x="1420.70" y="315.94" width="25.96" height="15.70" fill="#5481c0"/>
<rect x="1446.61" y="315.94" width="25.96" height="15.70" fill="#5481c0"/>
<rect x="1472.52" y="315.94" width="25.96" height="15.70" fill="#4f7bbd"/>
<rect x="1498.43" y="315.94" width="25.96" height="15.70" fill="#4f7bbd"/>
<rect x="1524.33" y="315.94" width="25.96" height="15.70" fill="#4f7bbd"/>
<rect x="1550.24" y="315.94" width="25.96" height="15.70" fill="#4f7bbd"/>
<rect x="1576.15" y="315.94" width="25.96" height="15.70" fill="#4f7bbd"/>
<rect x="1602.06" y="315.94" width="25.96" height="15.70" fill="#5481c0"/>
<rect x="1627.97" y="315.94" width="25.96" height="15.70" fill="#5481c0"/>
<rect x="1653.87" y="315.94" width="25.96" height="15.70" fill="#4f7bbd"/>
<rect x="1679.78" y="315.94" width="25.96" height="15.70" fill="#4f7bbd"/>
<rect x="1705.69" y="315.94" width="25.96" height="15.70" fill="#4f7bbd"/>
<rect x="1731.60" y="315.94" width="25.96" height="15.70" fill="#4f7bbd"/>
<rect x="1757.51" y="315.94" width="25.96" height="15.70" fill="#4f7bbd"/>
<rect x="1783.41" y="315.94" width="25.96" height="15.70" fill="#4f7bbd"/>
<rect x="1809.32" y="315.94" width="25.96" height="15.70" fill="#4f7bbd"/>
<rect x="1835.23" y="315.94" width="25.96" height="15.70" fill="#4f7bbd"/>
<rect x="1861.14" y="315.94" width="25.96" height="15.70" fill="#4f7bbd"/>
<rect x="1887.04" y="315.94" width="25.96" height="15.70" fill="#4f7bbd"/>
<rect x="1912.95" y="315.94" width="25.96" height="15.70" fill="#4f7bbd"/>
<rect x="1938.86" y="315.94" width="25.96" height="15.70" fill="#5b8ac3"/>
<rect x="1964.77" y="315.94" width="25.96" height="15.70" fill="#4f7bbd"/>
<rect x="1990.68" y="315.94" width="25.96" height="15.70" fill="#4f7bbd"/>
<rect x="2016.58" y="315.94" width="25.96" height="15.70" fill="#5481c0"/>
<rect x="2042.49" y="315.94" width="25.96" height="15.70" fill="#4f7bbd"/>
<rect x="99.40" y="331.59" width="25.96" height="15.70" fill="#6898ca"/>
<rect x="125.31" y="331.59" width="25.96" height="15.70" fill="#6898ca"/>
<rect x="151.22" y="331.59" width="25.96" height="15.70" fill="#4f7bbd"/>
<rect x="177.12" y="331.59" width="25.96" height="15.70" fill="#4f7bbd"/>
<rect x="203.03" y="331.59" width="25.96" height="15.70" fill="#4f7bbd"/>
<rect x="228.94" y="331.59" width="25.96" height="15.70" fill="#93c3de"/>
<rect x="254.85" y="331.59" width="25.96" height="15.70" fill="#c8e6f0"/>
<rect x="280.76" y="331.59" width="25.96" height="15.70" fill="#acd4e7"/>
<rect x="306.66" y="331.59" width="25.96" height="15.70" fill="#f6e9a0"/>
<rect x="332.57" y="331.59" width="25.96" height="15.70" fill="#79a9d3"/>
<rect x="358.48" y="331.59" width="25.96" height="15.70" fill="#6898ca"/>
<rect x="384.39" y="331.59" width="25.96" height="15.70" fill="#6898ca"/>
<rect x="410.29" y="331.59" width="25.96" height="15.70" fill="#5b8ac3"/>
<rect x="436.20" y="331.59" width="25.96" height="15.70" fill="#acd4e7"/>
<rect x="462.11" y="331.59" width="25.96" height="15.70" fill="#79a9d3"/>
<rect x="488.02" y="331.59" width="25.96" height="15.70" fill="#5b8ac3"/>
<rect x="513.93" y="331.59" width="25.96" height="15.70" fill="#6898ca"/>
<rect x="539.83" y="331.59" width="25.96" height="15.70" fill="#4f7bbd"/>
<rect x="565.74" y="331.59" width="25.96" height="15.70" fill="#6898ca"/>
<rect x="591.65" y="331.59" width="25.96" height="15.70" fill="#6898ca"/>
<rect x="617.56" y="331.59" width="25.96" height="15.70" fill="#5b8ac3"/>
<rect x="643.47" y="331.59" width="25.96" height="15.70" fill="#4f7bbd"/>
<rect x="669.37" y="331.59" width="25.96" height="15.70" fill="#4f7bbd"/>
<rect x="695.28" y="331.59" width="25.96" height="15.70" fill="#4f7bbd"/>
<rect x="721.19" y="331.59" width="25.96" height="15.70" fill="#6898ca"/>
<rect x="747.10" y="331.59" width="25.96" height="15.70" fill="#4f7bbd"/>
<rect x="773.01" y="331.59" width="25.96" height="15.70" fill="#93c3de"/>
<rect x="798.91" y="331.59" width="25.96" height="15.70" fill="#6898ca"/>
<rect x="824.82" y="331.59" width="25.96" height="15.70" fill="#acd4e7"/>
<rect x="850.73" y="331.59" width="25.96" height="15.70" fill="#6898ca"/>
<rect x="876.64" y="331.59" width="25.96" height="15.70" fill="#6898ca"/>
<rect x="902.54" y="331.59" width="25.96" height="15.70" fill="#5481c0"/>
<rect x="928.45" y="331.59" width="25.96" height="15.70" fill="#6898ca"/>
<rect x="954.36" y="331.59" width="25.96" height="15.70" fill="#6898ca"/>
<rect x="980.27" y="331.59" width="25.96" height="15.70" fill="#5481c0"/>
<rect x="1006.18" y="331.59" width="25.96" height="15.70" fill="#4f7bbd"/>
<rect x="1032.08" y="331.59" width="25.96" height="15.70" fill="#93c3de"/>
<rect x="1057.99" y="331.59" width="25.96" height="15.70" fill="#e6583c"/>
<rect x="1083.90" y="331.59" width="25.96" height="15.70" fill="#db3128"/>
<rect x="1109.81" y="331.59" width="25.96" height="15.70" fill="#db3128"/>
<rect x="1135.72" y="331.59" width="25.96" height="15.70" fill="#acd4e7"/>
<rect x="1161.62" y="331.59" width="25.96" height="15.70" fill="#5481c0"/>
<rect x="1187.53" y="331.59" width="25.96" height="15.70" fill="#93c3de"/>
<rect x="1213.44" y="331.59" width="25.96" height="15.70" fill="#4f7bbd"/>
<rect x="1239.35" y="331.59" width="25.96" height="15.70" fill="#93c3de"/>
<rect x="1265.26" y="331.59" width="25.96" height="15.70" fill="#93c3de"/>
<rect x="1291.16" y="331.59" width="25.96" height="15.70" fill="#79a9d3"/>
<rect x="1317.07" y="331.59" width="25.96" height="15.70" fill="#e0f2f1"/>
<rect x="1342.98" y="331.59" width="25.96" height="15.70" fill="#93c3de"/>
<rect x="1368.89" y="331.59" width="25.96" height="15.70" fill="#6898ca"/>
<rect x="1394.79" y="331.59" width="25.96" height="15.70" fill="#5481c0"/>
<rect x="1420.70" y="331.59" width="25.96" height="15.70" fill="#5b8ac3"/>
<rect x="1446.61" y="331.59" width="25.96" height="15.70" fill="#93c3de"/>
<rect x="1472.52" y="331.59" width="25.96" height="15.70" fill="#5481c0"/>
<rect x="1498.43" y="331.59" width="25.96" height="15.70" fill="#79a9d3"/>
<rect x="1524.33" y="331.59" width="25.96" height="15.70" fill="#4f7bbd"/>
<rect x="1550.24" y="331.59" width="25.96" height="15.70" fill="#5b8ac3"/>
<rect x="1576.15" y="331.59" width="25.96" height="15.70" fill="#6898ca"/>
<rect x="1602.06" y="331.59" width="25.96" height="15.70" fill="#5b8ac3"/>
<rect x="1627.97" y="331.59" width="25.96" height="15.70" fill="#5481c0"/>
<rect x="1653.87" y="331.59" width="25.96" height="15.70" fill="#5b8ac3"/>
<rect x="1679.78" y="331.59" width="25.96" height="15.70" fill="#4f7bbd"/>
<rect x="1705.69" y="331.59" width="25.96" height="15.70" fill="#5481c0"/>
<rect x="1731.60" y="331.59" width="25.96" height="15.70" fill="#5481c0"/>
<rect x="1757.51" y="331.59" width="25.96" height="15.70" fill="#5b8ac3"/>
<rect x="1783.41" y="331.59" width="25.96" height="15.70" fill="#6898ca"/>
<rect x="1809.32" y="331.59" width="25.96" height="15.70" fill="#5b8ac3"/>
<rect x="1835.23" y="331.59" width="25.96" height="15.70" fill="#4f7bbd"/>
<rect x="1861.14" y="331.59" width="25.96" height="15.70" fill="#5481c0"/>
<rect x="1887.04" y="331.59" width="25.96" height="15.70" fill="#4f7bbd"/>
<rect x="1912.95" y="331.59" width="25.96" height="15.70" fill="#5b8ac3"/>
<rect x="1938.86" y="331.59" width="25.96" height="15.70" fill="#4f7bbd"/>
<rect x="1964.77" y="331.59" width="25.96" height="15.70" fill="#4f7bbd"/>
<rect x="1990.68" y="331.59" width="25.96" height="15.70" fill="#4f7bbd"/>
<rect x="2016.58" y="331.59" width="25.96" height="15.70" fill="#5481c0"/>
<rect x="2042.49" y="331.59" width="25.96" height="15.70" fill="#5481c0"/>
<rect x="99.40" y="347.23" width="25.96" height="15.70" fill="#4f7bbd"/>
<rect x="125.31" y="347.23" width="25.96" height="15.70" fill="#4f7bbd"/>
<rect x="151.22" y="347.23" width="25.96" height="15.70" fill="#4f7bbd"/>
<rect x="177.12" y="347.23" width="25.96" height="15.70" fill="#4f7bbd"/>
<rect x="203.03" y="347.23" width="25.96" height="15.70" fill="#4f7bbd"/>
<rect x="228.94" y="347.23" width="25.96" height="15.70" fill="#4f7bbd"/>
<rect x="254.85" y="347.23" width="25.96" height="15.70" fill="#4f7bbd"/>
<rect x="280.76" y="347.23" width="25.96" height="15.70" fill="#4f7bbd"/>
<rect x="306.66" y="347.23" width="25.96" height="15.70" fill="#4f7bbd"/>
<rect x="332.57" y="347.23" width="25.96" height="15.70" fill="#4f7bbd"/>
<rect x="358.48" y="347.23" width="25.96" height="15.70" fill="#4f7bbd"/>
<rect x="384.39" y="347.23" width="25.96" height="15.70" fill="#5b8ac3"/>
<rect x="410.29" y="347.23" width="25.96" height="15.70" fill="#4f7bbd"/>
<rect x="436.20" y="347.23" width="25.96" height="15.70" fill="#4f7bbd"/>
<rect x="462.11" y="347.23" width="25.96" height="15.70" fill="#4f7bbd"/>
<rect x="488.02" y="347.23" width="25.96" height="15.70" fill="#5481c0"/>
<rect x="513.93" y="347.23" width="25.96" height="15.70" fill="#4f7bbd"/>
<rect x="539.83" y="347.23" width="25.96" height="15.70" fill="#4f7bbd"/>
<rect x="565.74" y="347.23" width="25.96" height="15.70" fill="#4f7bbd"/>
<rect x="591.65" y="347.23" width="25.96" height="15.70" fill="#4f7bbd"/>
<rect x="617.56" y="347.23" width="25.96" height="15.70" fill="#4f7bbd"/>
<rect x="643.47" y="347.23" width="25.96" height="15.70" fill="#4f7bbd"/>
<rect x="669.37" y="347.23" width="25.96" height="15.70" fill="#4f7bbd"/>
<rect x="695.28" y="347.23" width="25.96" height="15.70" fill="#4f7bbd"/>
<rect x="721.19" y="347.23" width="25.96" height="15.70" fill="#4f7bbd"/>
<rect x="747.10" y="347.23" width="25.96" height="15.70" fill="#4f7bbd"/>
<rect x="773.01" y="347.23" width="25.96" height="15.70" fill="#4f7bbd"/>
<rect x="798.91" y="347.23" width="25.96" height="15.70" fill="#4f7bbd"/>
<rect x="824.82" y="347.23" width="25.96" height="15.70" fill="#4f7bbd"/>
<rect x="850.73" y="347.23" width="25.96" height="15.70" fill="#4f7bbd"/>
<rect x="876.64" y="347.23" width="25.96" height="15.70" fill="#4f7bbd"/>
<rect x="902.54" y="347.23" width="25.96" height="15.70" fill="#4f7bbd"/>
<rect x="928.45" y="347.23" width="25.96" height="15.70" fill="#4f7bbd"/>
<rect x="954.36" y="347.23" width="25.96" height="15.70" fill="#4f7bbd"/>
<rect x="980.27" y="347.23" width="25.96" height="15.70" fill="#4f7bbd"/>
<rect x="1006.18" y="347.23" width="25.96" height="15.70" fill="#4f7bbd"/>
<rect x="1032.08" y="347.23" width="25.96" height="15.70" fill="#5481c0"/>
<rect x="1057.99" y="347.23" width="25.96" height="15.70" fill="#5b8ac3"/>
<rect x="1083.90" y="347.23" width="25.96" height="15.70" fill="#5b8ac3"/>
<rect x="1109.81" y="347.23" width="25.96" height="15.70" fill="#4f7bbd"/>
<rect x="1135.72" y="347.23" width="25.96" height="15.70" fill="#4f7bbd"/>
<rect x="1161.62" y="347.23" width="25.96" height="15.70" fill="#4f7bbd"/>
<rect x="1187.53" y="347.23" width="25.96" height="15.70" fill="#4f7bbd"/>
<rect x="1213.44" y="347.23" width="25.96" height="15.70" fill="#4f7bbd"/>
<rect x="1239.35" y="347.23" width="25.96" height="15.70" fill="#4f7bbd"/>
<rect x="1265.26" y="347.23" width="25.96" height="15.70" fill="#4f7bbd"/>
<rect x="1291.16" y="347.23" width="25.96" height="15.70" fill="#4f7bbd"/>
<rect x="1317.07" y="347.23" width="25.96" height="15.70" fill="#4f7bbd"/>
<rect x="1342.98" y="347.23" width="25.96" height="15.70" fill="#4f7bbd"/>
<rect x="1368.89" y="347.23" width="25.96" height="15.70" fill="#4f7bbd"/>
<rect x="1394.79" y="347.23" width="25.96" height="15.70" fill="#5b8ac3"/>
<rect x="1420.70" y="347.23" width="25.96" height="15.70" fill="#4f7bbd"/>
<rect x="1446.61" y="347.23" width="25.96" height="15.70" fill="#4f7bbd"/>
<rect x="1472.52" y="347.23" width="25.96" height="15.70" fill="#4f7bbd"/>
<rect x="1498.43" y="347.23" width="25.96" height="15.70" fill="#4f7bbd"/>
<rect x="1524.33" y="347.23" width="25.96" height="15.70" fill="#4f7bbd"/>
<rect x="1550.24" y="347.23" width="25.96" height="15.70" fill="#4f7bbd"/>
<rect x="1576.15" y="347.23" width="25.96" height="15.70" fill="#4f7bbd"/>
<rect x="1602.06" y="347.23" width="25.96" height="15.70" fill="#db3128"/>
<rect x="1627.97" y="347.23" width="25.96" height="15.70" fill="#db3128"/>
<rect x="1653.87" y="347.23" width="25.96" height="15.70" fill="#6898ca"/>
<rect x="1679.78" y="347.23" width="25.96" height="15.70" fill="#4f7bbd"/>
<rect x="1705.69" y="347.23" width="25.96" height="15.70" fill="#4f7bbd"/>
<rect x="1731.60" y="347.23" width="25.96" height="15.70" fill="#4f7bbd"/>
<rect x="1757.51" y="347.23" width="25.96" height="15.70" fill="#4f7bbd"/>
<rect x="1783.41" y="347.23" width="25.96" height="15.70" fill="#4f7bbd"/>
<rect x="1809.32" y="347.23" width="25.96" height="15.70" fill="#4f7bbd"/>
<rect x="1835.23" y="347.23" width="25.96" height="15.70" fill="#4f7bbd"/>
<rect x="1861.14" y="347.23" width="25.96" height="15.70" fill="#4f7bbd"/>
<rect x="1887.04" y="347.23" width="25.96" height="15.70" fill="#4f7bbd"/>
<rect x="1912.95" y="347.23" width="25.96" height="15.70" fill="#4f7bbd"/>
<rect x="1938.86" y="347.23" width="25.96" height="15.70" fill="#4f7bbd"/>
<rect x="1964.77" y="347.23" width="25.96" height="15.70" fill="#4f7bbd"/>
<rect x="1990.68" y="347.23" width="25.96" height="15.70" fill="#4f7bbd"/>
<rect x="2016.58" y="347.23" width="25.96" height="15.70" fill="#4f7bbd"/>
<rect x="2042.49" y="347.23" width="25.96" height="15.70" fill="#4f7bbd"/>
<rect x="99.40" y="362.88" width="25.96" height="15.70" fill="#6898ca"/>
<rect x="125.31" y="362.88" width="25.96" height="15.70" fill="#5b8ac3"/>
<rect x="151.22" y="362.88" width="25.96" height="15.70" fill="#6898ca"/>
<rect x="177.12" y="362.88" width="25.96" height="15.70" fill="#5481c0"/>
<rect x="203.03" y="362.88" width="25.96" height="15.70" fill="#6898ca"/>
<rect x="228.94" y="362.88" width="25.96" height="15.70" fill="#5b8ac3"/>
<rect x="254.85" y="362.88" width="25.96" height="15.70" fill="#93c3de"/>
<rect x="280.76" y="362.88" width="25.96" height="15.70" fill="#5481c0"/>
<rect x="306.66" y="362.88" width="25.96" height="15.70" fill="#6898ca"/>
<rect x="332.57" y="362.88" width="25.96" height="15.70" fill="#5481c0"/>
<rect x="358.48" y="362.88" width="25.96" height="15.70" fill="#4f7bbd"/>
<rect x="384.39" y="362.88" width="25.96" height="15.70" fill="#79a9d3"/>
<rect x="410.29" y="362.88" width="25.96" height="15.70" fill="#6898ca"/>
<rect x="436.20" y="362.88" width="25.96" height="15.70" fill="#acd4e7"/>
<rect x="462.11" y="362.88" width="25.96" height="15.70" fill="#acd4e7"/>
<rect x="488.02" y="362.88" width="25.96" height="15.70" fill="#5b8ac3"/>
<rect x="513.93" y="362.88" width="25.96" height="15.70" fill="#5b8ac3"/>
<rect x="539.83" y="362.88" width="25.96" height="15.70" fill="#6898ca"/>
<rect x="565.74" y="362.88" width="25.96" height="15.70" fill="#6898ca"/>
<rect x="591.65" y="362.88" width="25.96" height="15.70" fill="#6898ca"/>
<rect x="617.56" y="362.88" width="25.96" height="15.70" fill="#acd4e7"/>
<rect x="643.47" y="362.88" width="25.96" height="15.70" fill="#6898ca"/>
<rect x="669.37" y="362.88" width="25.96" height="15.70" fill="#6898ca"/>
<rect x="695.28" y="362.88" width="25.96" height="15.70" fill="#6898ca"/>
<rect x="721.19" y="362.88" width="25.96" height="15.70" fill="#93c3de"/>
<rect x="747.10" y="362.88" width="25.96" height="15.70" fill="#93c3de"/>
<rect x="773.01" y="362.88" width="25.96" height="15.70" fill="#79a9d3"/>
<rect x="798.91" y="362.88" width="25.96" height="15.70" fill="#5b8ac3"/>
<rect x="824.82" y="362.88" width="25.96" height="15.70" fill="#6898ca"/>
<rect x="850.73" y="362.88" width="25.96" height="15.70" fill="#acd4e7"/>
<rect x="876.64" y="362.88" width="25.96" height="15.70" fill="#93c3de"/>
<rect x="902.54" y="362.88" width="25.96" height="15.70" fill="#5b8ac3"/>
<rect x="928.45" y="362.88" width="25.96" height="15.70" fill="#6898ca"/>
<rect x="954.36" y="362.88" width="25.96" height="15.70" fill="#6898ca"/>
<rect x="980.27" y="362.88" width="25.96" height="15.70" fill="#5b8ac3"/>
<rect x="1006.18" y="362.88" width="25.96" height="15.70" fill="#93c3de"/>
<rect x="1032.08" y="362.88" width="25.96" height="15.70" fill="#5b8ac3"/>
<rect x="1057.99" y="362.88" width="25.96" height="15.70" fill="#5481c0"/>
<rect x="1083.90" y="362.88" width="25.96" height="15.70" fill="#5b8ac3"/>
<rect x="1109.81" y="362.88" width="25.96" height="15.70" fill="#5b8ac3"/>
<rect x="1135.72" y="362.88" width="25.96" height="15.70" fill="#5b8ac3"/>
<rect x="1161.62" y="362.88" width="25.96" height="15.70" fill="#5481c0"/>
<rect x="1187.53" y="362.88" width="25.96" height="15.70" fill="#5481c0"/>
<rect x="1213.44" y="362.88" width="25.96" height="15.70" fill="#79a9d3"/>
<rect x="1239.35" y="362.88" width="25.96" height="15.70" fill="#c8e6f0"/>
<rect x="1265.26" y="362.88" width="25.96" height="15.70" fill="#e0f2f1"/>
<rect x="1291.16" y="362.88" width="25.96" height="15.70" fill="#acd4e7"/>
<rect x="1317.07" y="362.88" width="25.96" height="15.70" fill="#93c3de"/>
<rect x="1342.98" y="362.88" width="25.96" height="15.70" fill="#79a9d3"/>
<rect x="1368.89" y="362.88" width="25.96" height="15.70" fill="#edf7dc"/>
<rect x="1394.79" y="362.88" width="25.96" height="15.70" fill="#e0f2f1"/>
<rect x="1420.70" y="362.88" width="25.96" height="15.70" fill="#f5f9c5"/>
<rect x="1446.61" y="362.88" width="25.96" height="15.70" fill="#e0f2f1"/>
<rect x="1472.52" y="362.88" width="25.96" height="15.70" fill="#5481c0"/>
<rect x="1498.43" y="362.88" width="25.96" height="15.70" fill="#c8e6f0"/>
<rect x="1524.33" y="362.88" width="25.96" height="15.70" fill="#5b8ac3"/>
<rect x="1550.24" y="362.88" width="25.96" height="15.70" fill="#5481c0"/>
<rect x="1576.15" y="362.88" width="25.96" height="15.70" fill="#6898ca"/>
<rect x="1602.06" y="362.88" width="25.96" height="15.70" fill="#c8e6f0"/>
<rect x="1627.97" y="362.88" width="25.96" height="15.70" fill="#c8e6f0"/>
<rect x="1653.87" y="362.88" width="25.96" height="15.70" fill="#93c3de"/>
<rect x="1679.78" y="362.88" width="25.96" height="15.70" fill="#5b8ac3"/>
<rect x="1705.69" y="362.88" width="25.96" height="15.70" fill="#6898ca"/>
<rect x="1731.60" y="362.88" width="25.96" height="15.70" fill="#6898ca"/>
<rect x="1757.51" y="362.88" width="25.96" height="15.70" fill="#5b8ac3"/>
<rect x="1783.41" y="362.88" width="25.96" height="15.70" fill="#79a9d3"/>
<rect x="1809.32" y="362.88" width="25.96" height="15.70" fill="#5481c0"/>
<rect x="1835.23" y="362.88" width="25.96" height="15.70" fill="#6898ca"/>
<rect x="1861.14" y="362.88" width="25.96" height="15.70" fill="#6898ca"/>
<rect x="1887.04" y="362.88" width="25.96" height="15.70" fill="#4f7bbd"/>
<rect x="1912.95" y="362.88" width="25.96" height="15.70" fill="#6898ca"/>
<rect x="1938.86" y="362.88" width="25.96" height="15.70" fill="#5481c0"/>
<rect x="1964.77" y="362.88" width="25.96" height="15.70" fill="#5b8ac3"/>
<rect x="1990.68" y="362.88" width="25.96" height="15.70" fill="#5481c0"/>
<rect x="2016.58" y="362.88" width="25.96" height="15.70" fill="#5b8ac3"/>
<rect x="2042.49" y="362.88" width="25.96" height="15.70" fill="#93c3de"/>
<rect x="99.40" y="378.52" width="25.96" height="15.70" fill="#4f7bbd"/>
<rect x="125.31" y="378.52" width="25.96" height="15.70" fill="#4f7bbd"/>
<rect x="151.22" y="378.52" width="25.96" height="15.70" fill="#4f7bbd"/>
<rect x="177.12" y="378.52" width="25.96" height="15.70" fill="#4f7bbd"/>
<rect x="203.03" y="378.52" width="25.96" height="15.70" fill="#4f7bbd"/>
<rect x="228.94" y="378.52" width="25.96" height="15.70" fill="#4f7bbd"/>
<rect x="254.85" y="378.52" width="25.96" height="15.70" fill="#4f7bbd"/>
<rect x="280.76" y="378.52" width="25.96" height="15.70" fill="#4f7bbd"/>
<rect x="306.66" y="378.52" width="25.96" height="15.70" fill="#4f7bbd"/>
<rect x="332.57" y="378.52" width="25.96" height="15.70" fill="#4f7bbd"/>
<rect x="358.48" y="378.52" width="25.96" height="15.70" fill="#4f7bbd"/>
<rect x="384.39" y="378.52" width="25.96" height="15.70" fill="#4f7bbd"/>
<rect x="410.29" y="378.52" width="25.96" height="15.70" fill="#4f7bbd"/>
<rect x="436.20" y="378.52" width="25.96" height="15.70" fill="#4f7bbd"/>
<rect x="462.11" y="378.52" width="25.96" height="15.70" fill="#4f7bbd"/>
<rect x="488.02" y="378.52" width="25.96" height="15.70" fill="#4f7bbd"/>
<rect x="513.93" y="378.52" width="25.96" height="15.70" fill="#4f7bbd"/>
<rect x="539.83" y="378.52" width="25.96" height="15.70" fill="#4f7bbd"/>
<rect x="565.74" y="378.52" width="25.96" height="15.70" fill="#4f7bbd"/>
<rect x="591.65" y="378.52" width="25.96" height="15.70" fill="#4f7bbd"/>
<rect x="617.56" y="378.52" width="25.96" height="15.70" fill="#4f7bbd"/>
<rect x="643.47" y="378.52" width="25.96" height="15.70" fill="#4f7bbd"/>
<rect x="669.37" y="378.52" width="25.96" height="15.70" fill="#4f7bbd"/>
<rect x="695.28" y="378.52" width="25.96" height="15.70" fill="#4f7bbd"/>
<rect x="721.19" y="378.52" width="25.96" height="15.70" fill="#4f7bbd"/>
<rect x="747.10" y="378.52" width="25.96" height="15.70" fill="#4f7bbd"/>
<rect x="773.01" y="378.52" width="25.96" height="15.70" fill="#4f7bbd"/>
<rect x="798.91" y="378.52" width="25.96" height="15.70" fill="#4f7bbd"/>
<rect x="824.82" y="378.52" width="25.96" height="15.70" fill="#4f7bbd"/>
<rect x="850.73" y="378.52" width="25.96" height="15.70" fill="#4f7bbd"/>
<rect x="876.64" y="378.52" width="25.96" height="15.70" fill="#4f7bbd"/>
<rect x="902.54" y="378.52" width="25.96" height="15.70" fill="#4f7bbd"/>
<rect x="928.45" y="378.52" width="25.96" height="15.70" fill="#4f7bbd"/>
<rect x="954.36" y="378.52" width="25.96" height="15.70" fill="#4f7bbd"/>
<rect x="980.27" y="378.52" width="25.96" height="15.70" fill="#4f7bbd"/>
<rect x="1006.18" y="378.52" width="25.96" height="15.70" fill="#4f7bbd"/>
<rect x="1032.08" y="378.52" width="25.96" height="15.70" fill="#5481c0"/>
<rect x="1057.99" y="378.52" width="25.96" height="15.70" fill="#5b8ac3"/>
<rect x="1083.90" y="378.52" width="25.96" height="15.70" fill="#4f7bbd"/>
<rect x="1109.81" y="378.52" width="25.96" height="15.70" fill="#4f7bbd"/>
<rect x="1135.72" y="378.52" width="25.96" height="15.70" fill="#4f7bbd"/>
<rect x="1161.62" y="378.52" width="25.96" height="15.70" fill="#4f7bbd"/>
<rect x="1187.53" y="378.52" width="25.96" height="15.70" fill="#4f7bbd"/>
<rect x="1213.44" y="378.52" width="25.96" height="15.70" fill="#4f7bbd"/>
<rect x="1239.35" y="378.52" width="25.96" height="15.70" fill="#4f7bbd"/>
<rect x="1265.26" y="378.52" width="25.96" height="15.70" fill="#4f7bbd"/>
<rect x="1291.16" y="378.52" width="25.96" height="15.70" fill="#5b8ac3"/>
<rect x="1317.07" y="378.52" width="25.96" height="15.70" fill="#4f7bbd"/>
<rect x="1342.98" y="378.52" width="25.96" height="15.70" fill="#79a9d3"/>
<rect x="1368.89" y="378.52" width="25.96" height="15.70" fill="#4f7bbd"/>
<rect x="1394.79" y="378.52" width="25.96" height="15.70" fill="#e0f2f1"/>
<rect x="1420.70" y="378.52" width="25.96" height="15.70" fill="#edf7dc"/>
<rect x="1446.61" y="378.52" width="25.96" height="15.70" fill="#db3128"/>
<rect x="1472.52" y="378.52" width="25.96" height="15.70" fill="#4f7bbd"/>
<rect x="1498.43" y="378.52" width="25.96" height="15.70" fill="#c8e6f0"/>
<rect x="1524.33" y="378.52" width="25.96" height="15.70" fill="#4f7bbd"/>
<rect x="1550.24" y="378.52" width="25.96" height="15.70" fill="#4f7bbd"/>
<rect x="1576.15" y="378.52" width="25.96" height="15.70" fill="#4f7bbd"/>
<rect x="1602.06" y="378.52" width="25.96" height="15.70" fill="#4f7bbd"/>
<rect x="1627.97" y="378.52" width="25.96" height="15.70" fill="#4f7bbd"/>
<rect x="1653.87" y="378.52" width="25.96" height="15.70" fill="#4f7bbd"/>
<rect x="1679.78" y="378.52" width="25.96" height="15.70" fill="#4f7bbd"/>
<rect x="1705.69" y="378.52" width="25.96" height="15.70" fill="#4f7bbd"/>
<rect x="1731.60" y="378.52" width="25.96" height="15.70" fill="#4f7bbd"/>
<rect x="1757.51" y="378.52" width="25.96" height="15.70" fill="#4f7bbd"/>
<rect x="1783.41" y="378.52" width="25.96" height="15.70" fill="#4f7bbd"/>
<rect x="1809.32" y="378.52" width="25.96" height="15.70" fill="#4f7bbd"/>
<rect x="1835.23" y="378.52" width="25.96" height="15.70" fill="#4f7bbd"/>
<rect x="1861.14" y="378.52" width="25.96" height="15.70" fill="#4f7bbd"/>
<rect x="1887.04" y="378.52" width="25.96" height="15.70" fill="#4f7bbd"/>
<rect x="1912.95" y="378.52" width="25.96" height="15.70" fill="#4f7bbd"/>
<rect x="1938.86" y="378.52" width="25.96" height="15.70" fill="#4f7bbd"/>
<rect x="1964.77" y="378.52" width="25.96" height="15.70" fill="#4f7bbd"/>
<rect x="1990.68" y="378.52" width="25.96" height="15.70" fill="#4f7bbd"/>
<rect x="2016.58" y="378.52" width="25.96" height="15.70" fill="#4f7bbd"/>
<rect x="2042.49" y="378.52" width="25.96" height="15.70" fill="#4f7bbd"/>
<rect x="99.40" y="394.17" width="25.96" height="15.70" fill="#4f7bbd"/>
<rect x="125.31" y="394.17" width="25.96" height="15.70" fill="#4f7bbd"/>
<rect x="151.22" y="394.17" width="25.96" height="15.70" fill="#4f7bbd"/>
<rect x="177.12" y="394.17" width="25.96" height="15.70" fill="#4f7bbd"/>
<rect x="203.03" y="394.17" width="25.96" height="15.70" fill="#4f7bbd"/>
<rect x="228.94" y="394.17" width="25.96" height="15.70" fill="#4f7bbd"/>
<rect x="254.85" y="394.17" width="25.96" height="15.70" fill="#4f7bbd"/>
<rect x="280.76" y="394.17" width="25.96" height="15.70" fill="#4f7bbd"/>
<rect x="306.66" y="394.17" width="25.96" height="15.70" fill="#4f7bbd"/>
<rect x="332.57" y="394.17" width="25.96" height="15.70" fill="#4f7bbd"/>
<rect x="358.48" y="394.17" width="25.96" height="15.70" fill="#4f7bbd"/>
<rect x="384.39" y="394.17" width="25.96" height="15.70" fill="#4f7bbd"/>
<rect x="410.29" y="394.17" width="25.96" height="15.70" fill="#4f7bbd"/>
<rect x="436.20" y="394.17" width="25.96" height="15.70" fill="#4f7bbd"/>
<rect x="462.11" y="394.17" width="25.96" height="15.70" fill="#4f7bbd"/>
<rect x="488.02" y="394.17" width="25.96" height="15.70" fill="#5481c0"/>
<rect x="513.93" y="394.17" width="25.96" height="15.70" fill="#4f7bbd"/>
<rect x="539.83" y="394.17" width="25.96" height="15.70" fill="#4f7bbd"/>
<rect x="565.74" y="394.17" width="25.96" height="15.70" fill="#4f7bbd"/>
<rect x="591.65" y="394.17" width="25.96" height="15.70" fill="#4f7bbd"/>
<rect x="617.56" y="394.17" width="25.96" height="15.70" fill="#6898ca"/>
<rect x="643.47" y="394.17" width="25.96" height="15.70" fill="#4f7bbd"/>
<rect x="669.37" y="394.17" width="25.96" height="15.70" fill="#4f7bbd"/>
<rect x="695.28" y="394.17" width="25.96" height="15.70" fill="#4f7bbd"/>
<rect x="721.19" y="394.17" width="25.96" height="15.70" fill="#4f7bbd"/>
<rect x="747.10" y="394.17" width="25.96" height="15.70" fill="#4f7bbd"/>
<rect x="773.01" y="394.17" width="25.96" height="15.70" fill="#4f7bbd"/>
<rect x="798.91" y="394.17" width="25.96" height="15.70" fill="#4f7bbd"/>
<rect x="824.82" y="394.17" width="25.96" height="15.70" fill="#4f7bbd"/>
<rect x="850.73" y="394.17" width="25.96" height="15.70" fill="#4f7bbd"/>
<rect x="876.64" y="394.17" width="25.96" height="15.70" fill="#4f7bbd"/>
<rect x="902.54" y="394.17" width="25.96" height="15.70" fill="#4f7bbd"/>
<rect x="928.45" y="394.17" width="25.96" height="15.70" fill="#4f7bbd"/>
<rect x="954.36" y="394.17" width="25.96" height="15.70" fill="#db3128"/>
<rect x="980.27" y="394.17" width="25.96" height="15.70" fill="#4f7bbd"/>
<rect x="1006.18" y="394.17" width="25.96" height="15.70" fill="#4f7bbd"/>
<rect x="1032.08" y="394.17" width="25.96" height="15.70" fill="#4f7bbd"/>
<rect x="1057.99" y="394.17" width="25.96" height="15.70" fill="#4f7bbd"/>
<rect x="1083.90" y="394.17" width="25.96" height="15.70" fill="#5b8ac3"/>
<rect x="1109.81" y="394.17" width="25.96" height="15.70" fill="#5b8ac3"/>
<rect x="1135.72" y="394.17" width="25.96" height="15.70" fill="#4f7bbd"/>
<rect x="1161.62" y="394.17" width="25.96" height="15.70" fill="#4f7bbd"/>
<rect x="1187.53" y="394.17" width="25.96" height="15.70" fill="#4f7bbd"/>
<rect x="1213.44" y="394.17" width="25.96" height="15.70" fill="#4f7bbd"/>
<rect x="1239.35" y="394.17" width="25.96" height="15.70" fill="#4f7bbd"/>
<rect x="1265.26" y="394.17" width="25.96" height="15.70" fill="#4f7bbd"/>
<rect x="1291.16" y="394.17" width="25.96" height="15.70" fill="#4f7bbd"/>
<rect x="1317.07" y="394.17" width="25.96" height="15.70" fill="#4f7bbd"/>
<rect x="1342.98" y="394.17" width="25.96" height="15.70" fill="#4f7bbd"/>
<rect x="1368.89" y="394.17" width="25.96" height="15.70" fill="#4f7bbd"/>
<rect x="1394.79" y="394.17" width="25.96" height="15.70" fill="#4f7bbd"/>
<rect x="1420.70" y="394.17" width="25.96" height="15.70" fill="#5481c0"/>
<rect x="1446.61" y="394.17" width="25.96" height="15.70" fill="#4f7bbd"/>
<rect x="1472.52" y="394.17" width="25.96" height="15.70" fill="#4f7bbd"/>
<rect x="1498.43" y="394.17" width="25.96" height="15.70" fill="#4f7bbd"/>
<rect x="1524.33" y="394.17" width="25.96" height="15.70" fill="#4f7bbd"/>
<rect x="1550.24" y="394.17" width="25.96" height="15.70" fill="#4f7bbd"/>
<rect x="1576.15" y="394.17" width="25.96" height="15.70" fill="#4f7bbd"/>
<rect x="1602.06" y="394.17" width="25.96" height="15.70" fill="#4f7bbd"/>
<rect x="1627.97" y="394.17" width="25.96" height="15.70" fill="#4f7bbd"/>
<rect x="1653.87" y="394.17" width="25.96" height="15.70" fill="#4f7bbd"/>
<rect x="1679.78" y="394.17" width="25.96" height="15.70" fill="#4f7bbd"/>
<rect x="1705.69" y="394.17" width="25.96" height="15.70" fill="#4f7bbd"/>
<rect x="1731.60" y="394.17" width="25.96" height="15.70" fill="#4f7bbd"/>
<rect x="1757.51" y="394.17" width="25.96" height="15.70" fill="#4f7bbd"/>
<rect x="1783.41" y="394.17" width="25.96" height="15.70" fill="#4f7bbd"/>
<rect x="1809.32" y="394.17" width="25.96" height="15.70" fill="#4f7bbd"/>
<rect x="1835.23" y="394.17" width="25.96" height="15.70" fill="#4f7bbd"/>
<rect x="1861.14" y="394.17" width="25.96" height="15.70" fill="#4f7bbd"/>
<rect x="1887.04" y="394.17" width="25.96" height="15.70" fill="#4f7bbd"/>
<rect x="1912.95" y="394.17" width="25.96" height="15.70" fill="#4f7bbd"/>
<rect x="1938.86" y="394.17" width="25.96" height="15.70" fill="#4f7bbd"/>
<rect x="1964.77" y="394.17" width="25.96" height="15.70" fill="#4f7bbd"/>
<rect x="1990.68" y="394.17" width="25.96" height="15.70" fill="#4f7bbd"/>
<rect x="2016.58" y="394.17" width="25.96" height="15.70" fill="#4f7bbd"/>
<rect x="2042.49" y="394.17" width="25.96" height="15.70" fill="#4f7bbd"/>
<rect x="99.40" y="409.81" width="25.96" height="15.70" fill="#4f7bbd"/>
<rect x="125.31" y="409.81" width="25.96" height="15.70" fill="#4f7bbd"/>
<rect x="151.22" y="409.81" width="25.96" height="15.70" fill="#4f7bbd"/>
<rect x="177.12" y="409.81" width="25.96" height="15.70" fill="#4f7bbd"/>
<rect x="203.03" y="409.81" width="25.96" height="15.70" fill="#4f7bbd"/>
<rect x="228.94" y="409.81" width="25.96" height="15.70" fill="#4f7bbd"/>
<rect x="254.85" y="409.81" width="25.96" height="15.70" fill="#4f7bbd"/>
<rect x="280.76" y="409.81" width="25.96" height="15.70" fill="#4f7bbd"/>
<rect x="306.66" y="409.81" width="25.96" height="15.70" fill="#4f7bbd"/>
<rect x="332.57" y="409.81" width="25.96" height="15.70" fill="#4f7bbd"/>
<rect x="358.48" y="409.81" width="25.96" height="15.70" fill="#4f7bbd"/>
<rect x="384.39" y="409.81" width="25.96" height="15.70" fill="#5481c0"/>
<rect x="410.29" y="409.81" width="25.96" height="15.70" fill="#4f7bbd"/>
<rect x="436.20" y="409.81" width="25.96" height="15.70" fill="#4f7bbd"/>
<rect x="462.11" y="409.81" width="25.96" height="15.70" fill="#4f7bbd"/>
<rect x="488.02" y="409.81" width="25.96" height="15.70" fill="#4f7bbd"/>
<rect x="513.93" y="409.81" width="25.96" height="15.70" fill="#4f7bbd"/>
<rect x="539.83" y="409.81" width="25.96" height="15.70" fill="#4f7bbd"/>
<rect x="565.74" y="409.81" width="25.96" height="15.70" fill="#79a9d3"/>
<rect x="591.65" y="409.81" width="25.96" height="15.70" fill="#4f7bbd"/>
<rect x="617.56" y="409.81" width="25.96" height="15.70" fill="#4f7bbd"/>
<rect x="643.47" y="409.81" width="25.96" height="15.70" fill="#93c3de"/>
<rect x="669.37" y="409.81" width="25.96" height="15.70" fill="#4f7bbd"/>
<rect x="695.28" y="409.81" width="25.96" height="15.70" fill="#4f7bbd"/>
<rect x="721.19" y="409.81" width="25.96" height="15.70" fill="#4f7bbd"/>
<rect x="747.10" y="409.81" width="25.96" height="15.70" fill="#4f7bbd"/>
<rect x="773.01" y="409.81" width="25.96" height="15.70" fill="#4f7bbd"/>
<rect x="798.91" y="409.81" width="25.96" height="15.70" fill="#4f7bbd"/>
<rect x="824.82" y="409.81" width="25.96" height="15.70" fill="#4f7bbd"/>
<rect x="850.73" y="409.81" width="25.96" height="15.70" fill="#4f7bbd"/>
<rect x="876.64" y="409.81" width="25.96" height="15.70" fill="#4f7bbd"/>
<rect x="902.54" y="409.81" width="25.96" height="15.70" fill="#4f7bbd"/>
<rect x="928.45" y="409.81" width="25.96" height="15.70" fill="#4f7bbd"/>
<rect x="954.36" y="409.81" width="25.96" height="15.70" fill="#4f7bbd"/>
<rect x="980.27" y="409.81" width="25.96" height="15.70" fill="#4f7bbd"/>
<rect x="1006.18" y="409.81" width="25.96" height="15.70" fill="#4f7bbd"/>
<rect x="1032.08" y="409.81" width="25.96" height="15.70" fill="#4f7bbd"/>
<rect x="1057.99" y="409.81" width="25.96" height="15.70" fill="#4f7bbd"/>
<rect x="1083.90" y="409.81" width="25.96" height="15.70" fill="#4f7bbd"/>
<rect x="1109.81" y="409.81" width="25.96" height="15.70" fill="#4f7bbd"/>
<rect x="1135.72" y="409.81" width="25.96" height="15.70" fill="#4f7bbd"/>
<rect x="1161.62" y="409.81" width="25.96" height="15.70" fill="#4f7bbd"/>
<rect x="1187.53" y="409.81" width="25.96" height="15.70" fill="#4f7bbd"/>
<rect x="1213.44" y="409.81" width="25.96" height="15.70" fill="#5481c0"/>
<rect x="1239.35" y="409.81" width="25.96" height="15.70" fill="#5481c0"/>
<rect x="1265.26" y="409.81" width="25.96" height="15.70" fill="#4f7bbd"/>
<rect x="1291.16" y="409.81" width="25.96" height="15.70" fill="#f5f9c5"/>
<rect x="1317.07" y="409.81" width="25.96" height="15.70" fill="#acd4e7"/>
<rect x="1342.98" y="409.81" width="25.96" height="15.70" fill="#79a9d3"/>
<rect x="1368.89" y="409.81" width="25.96" height="15.70" fill="#db3128"/>
<rect x="1394.79" y="409.81" width="25.96" height="15.70" fill="#79a9d3"/>
<rect x="1420.70" y="409.81" width="25.96" height="15.70" fill="#4f7bbd"/>
<rect x="1446.61" y="409.81" width="25.96" height="15.70" fill="#5481c0"/>
<rect x="1472.52" y="409.81" width="25.96" height="15.70" fill="#4f7bbd"/>
<rect x="1498.43" y="409.81" width="25.96" height="15.70" fill="#4f7bbd"/>
<rect x="1524.33" y="409.81" width="25.96" height="15.70" fill="#4f7bbd"/>
<rect x="1550.24" y="409.81" width="25.96" height="15.70" fill="#4f7bbd"/>
<rect x="1576.15" y="409.81" width="25.96" height="15.70" fill="#4f7bbd"/>
<rect x="1602.06" y="409.81" width="25.96" height="15.70" fill="#6898ca"/>
<rect x="1627.97" y="409.81" width="25.96" height="15.70" fill="#6898ca"/>
<rect x="1653.87" y="409.81" width="25.96" height="15.70" fill="#4f7bbd"/>
<rect x="1679.78" y="409.81" width="25.96" height="15.70" fill="#79a9d3"/>
<rect x="1705.69" y="409.81" width="25.96" height="15.70" fill="#4f7bbd"/>
<rect x="1731.60" y="409.81" width="25.96" height="15.70" fill="#4f7bbd"/>
<rect x="1757.51" y="409.81" width="25.96" height="15.70" fill="#4f7bbd"/>
<rect x="1783.41" y="409.81" width="25.96" height="15.70" fill="#4f7bbd"/>
<rect x="1809.32" y="409.81" width="25.96" height="15.70" fill="#4f7bbd"/>
<rect x="1835.23" y="409.81" width="25.96" height="15.70" fill="#4f7bbd"/>
<rect x="1861.14" y="409.81" width="25.96" height="15.70" fill="#4f7bbd"/>
<rect x="1887.04" y="409.81" width="25.96" height="15.70" fill="#4f7bbd"/>
<rect x="1912.95" y="409.81" width="25.96" height="15.70" fill="#4f7bbd"/>
<rect x="1938.86" y="409.81" width="25.96" height="15.70" fill="#4f7bbd"/>
<rect x="1964.77" y="409.81" width="25.96" height="15.70" fill="#4f7bbd"/>
<rect x="1990.68" y="409.81" width="25.96" height="15.70" fill="#4f7bbd"/>
<rect x="2016.58" y="409.81" width="25.96" height="15.70" fill="#4f7bbd"/>
<rect x="2042.49" y="409.81" width="25.96" height="15.70" fill="#4f7bbd"/>
<rect x="99.40" y="425.46" width="25.96" height="15.70" fill="#4f7bbd"/>
<rect x="125.31" y="425.46" width="25.96" height="15.70" fill="#4f7bbd"/>
<rect x="151.22" y="425.46" width="25.96" height="15.70" fill="#4f7bbd"/>
<rect x="177.12" y="425.46" width="25.96" height="15.70" fill="#4f7bbd"/>
<rect x="203.03" y="425.46" width="25.96" height="15.70" fill="#4f7bbd"/>
<rect x="228.94" y="425.46" width="25.96" height="15.70" fill="#4f7bbd"/>
<rect x="254.85" y="425.46" width="25.96" height="15.70" fill="#4f7bbd"/>
<rect x="280.76" y="425.46" width="25.96" height="15.70" fill="#4f7bbd"/>
<rect x="306.66" y="425.46" width="25.96" height="15.70" fill="#4f7bbd"/>
<rect x="332.57" y="425.46" width="25.96" height="15.70" fill="#4f7bbd"/>
<rect x="358.48" y="425.46" width="25.96" height="15.70" fill="#4f7bbd"/>
<rect x="384.39" y="425.46" width="25.96" height="15.70" fill="#4f7bbd"/>
<rect x="410.29" y="425.46" width="25.96" height="15.70" fill="#4f7bbd"/>
<rect x="436.20" y="425.46" width="25.96" height="15.70" fill="#4f7bbd"/>
<rect x="462.11" y="425.46" width="25.96" height="15.70" fill="#4f7bbd"/>
<rect x="488.02" y="425.46" width="25.96" height="15.70" fill="#4f7bbd"/>
<rect x="513.93" y="425.46" width="25.96" height="15.70" fill="#4f7bbd"/>
<rect x="539.83" y="425.46" width="25.96" height="15.70" fill="#4f7bbd"/>
<rect x="565.74" y="425.46" width="25.96" height="15.70" fill="#4f7bbd"/>
<rect x="591.65" y="425.46" width="25.96" height="15.70" fill="#4f7bbd"/>
<rect x="617.56" y="425.46" width="25.96" height="15.70" fill="#4f7bbd"/>
<rect x="643.47" y="425.46" width="25.96" height="15.70" fill="#4f7bbd"/>
<rect x="669.37" y="425.46" width="25.96" height="15.70" fill="#4f7bbd"/>
<rect x="695.28" y="425.46" width="25.96" height="15.70" fill="#4f7bbd"/>
<rect x="721.19" y="425.46" width="25.96" height="15.70" fill="#4f7bbd"/>
<rect x="747.10" y="425.46" width="25.96" height="15.70" fill="#4f7bbd"/>
<rect x="773.01" y="425.46" width="25.96" height="15.70" fill="#4f7bbd"/>
<rect x="798.91" y="425.46" width="25.96" height="15.70" fill="#4f7bbd"/>
<rect x="824.82" y="425.46" width="25.96" height="15.70" fill="#4f7bbd"/>
<rect x="850.73" y="425.46" width="25.96" height="15.70" fill="#4f7bbd"/>
<rect x="876.64" y="425.46" width="25.96" height="15.70" fill="#4f7bbd"/>
<rect x="902.54" y="425.46" width="25.96" height="15.70" fill="#4f7bbd"/>
<rect x="928.45" y="425.46" width="25.96" height="15.70" fill="#4f7bbd"/>
<rect x="954.36" y="425.46" width="25.96" height="15.70" fill="#4f7bbd"/>
<rect x="980.27" y="425.46" width="25.96" height="15.70" fill="#4f7bbd"/>
<rect x="1006.18" y="425.46" width="25.96" height="15.70" fill="#4f7bbd"/>
<rect x="1032.08" y="425.46" width="25.96" height="15.70" fill="#4f7bbd"/>
<rect x="1057.99" y="425.46" width="25.96" height="15.70" fill="#4f7bbd"/>
<rect x="1083.90" y="425.46" width="25.96" height="15.70" fill="#4f7bbd"/>
<rect x="1109.81" y="425.46" width="25.96" height="15.70" fill="#4f7bbd"/>
<rect x="1135.72" y="425.46" width="25.96" height="15.70" fill="#4f7bbd"/>
<rect x="1161.62" y="425.46" width="25.96" height="15.70" fill="#4f7bbd"/>
<rect x="1187.53" y="425.46" width="25.96" height="15.70" fill="#4f7bbd"/>
<rect x="1213.44" y="425.46" width="25.96" height="15.70" fill="#4f7bbd"/>
<rect x="1239.35" y="425.46" width="25.96" height="15.70" fill="#4f7bbd"/>
<rect x="1265.26" y="425.46" width="25.96" height="15.70" fill="#4f7bbd"/>
<rect x="1291.16" y="425.46" width="25.96" height="15.70" fill="#4f7bbd"/>
<rect x="1317.07" y="425.46" width="25.96" height="15.70" fill="#4f7bbd"/>
<rect x="1342.98" y="425.46" width="25.96" height="15.70" fill="#4f7bbd"/>
<rect x="1368.89" y="425.46" width="25.96" height="15.70" fill="#db3128"/>
<rect x="1394.79" y="425.46" width="25.96" height="15.70" fill="#4f7bbd"/>
<rect x="1420.70" y="425.46" width="25.96" height="15.70" fill="#4f7bbd"/>
<rect x="1446.61" y="425.46" width="25.96" height="15.70" fill="#4f7bbd"/>
<rect x="1472.52" y="425.46" width="25.96" height="15.70" fill="#93c3de"/>
<rect x="1498.43" y="425.46" width="25.96" height="15.70" fill="#4f7bbd"/>
<rect x="1524.33" y="425.46" width="25.96" height="15.70" fill="#4f7bbd"/>
<rect x="1550.24" y="425.46" width="25.96" height="15.70" fill="#4f7bbd"/>
<rect x="1576.15" y="425.46" width="25.96" height="15.70" fill="#4f7bbd"/>
<rect x="1602.06" y="425.46" width="25.96" height="15.70" fill="#4f7bbd"/>
<rect x="1627.97" y="425.46" width="25.96" height="15.70" fill="#4f7bbd"/>
<rect x="1653.87" y="425.46" width="25.96" height="15.70" fill="#4f7bbd"/>
<rect x="1679.78" y="425.46" width="25.96" height="15.70" fill="#4f7bbd"/>
<rect x="1705.69" y="425.46" width="25.96" height="15.70" fill="#4f7bbd"/>
<rect x="1731.60" y="425.46" width="25.96" height="15.70" fill="#4f7bbd"/>
<rect x="1757.51" y="425.46" width="25.96" height="15.70" fill="#4f7bbd"/>
<rect x="1783.41" y="425.46" width="25.96" height="15.70" fill="#4f7bbd"/>
<rect x="1809.32" y="425.46" width="25.96" height="15.70" fill="#4f7bbd"/>
<rect x="1835.23" y="425.46" width="25.96" height="15.70" fill="#4f7bbd"/>
<rect x="1861.14" y="425.46" width="25.96" height="15.70" fill="#4f7bbd"/>
<rect x="1887.04" y="425.46" width="25.96" height="15.70" fill="#5481c0"/>
<rect x="1912.95" y="425.46" width="25.96" height="15.70" fill="#4f7bbd"/>
<rect x="1938.86" y="425.46" width="25.96" height="15.70" fill="#4f7bbd"/>
<rect x="1964.77" y="425.46" width="25.96" height="15.70" fill="#4f7bbd"/>
<rect x="1990.68" y="425.46" width="25.96" height="15.70" fill="#4f7bbd"/>
<rect x="2016.58" y="425.46" width="25.96" height="15.70" fill="#4f7bbd"/>
<rect x="2042.49" y="425.46" width="25.96" height="15.70" fill="#4f7bbd"/>
<rect x="99.40" y="441.11" width="25.96" height="15.70" fill="#4f7bbd"/>
<rect x="125.31" y="441.11" width="25.96" height="15.70" fill="#93c3de"/>
<rect x="151.22" y="441.11" width="25.96" height="15.70" fill="#4f7bbd"/>
<rect x="177.12" y="441.11" width="25.96" height="15.70" fill="#4f7bbd"/>
<rect x="203.03" y="441.11" width="25.96" height="15.70" fill="#5b8ac3"/>
<rect x="228.94" y="441.11" width="25.96" height="15.70" fill="#4f7bbd"/>
<rect x="254.85" y="441.11" width="25.96" height="15.70" fill="#5481c0"/>
<rect x="280.76" y="441.11" width="25.96" height="15.70" fill="#4f7bbd"/>
<rect x="306.66" y="441.11" width="25.96" height="15.70" fill="#4f7bbd"/>
<rect x="332.57" y="441.11" width="25.96" height="15.70" fill="#4f7bbd"/>
<rect x="358.48" y="441.11" width="25.96" height="15.70" fill="#4f7bbd"/>
<rect x="384.39" y="441.11" width="25.96" height="15.70" fill="#6898ca"/>
<rect x="410.29" y="441.11" width="25.96" height="15.70" fill="#4f7bbd"/>
<rect x="436.20" y="441.11" width="25.96" height="15.70" fill="#4f7bbd"/>
<rect x="462.11" y="441.11" width="25.96" height="15.70" fill="#5481c0"/>
<rect x="488.02" y="441.11" width="25.96" height="15.70" fill="#4f7bbd"/>
<rect x="513.93" y="441.11" width="25.96" height="15.70" fill="#4f7bbd"/>
<rect x="539.83" y="441.11" width="25.96" height="15.70" fill="#4f7bbd"/>
<rect x="565.74" y="441.11" width="25.96" height="15.70" fill="#4f7bbd"/>
<rect x="591.65" y="441.11" width="25.96" height="15.70" fill="#4f7bbd"/>
<rect x="617.56" y="441.11" width="25.96" height="15.70" fill="#6898ca"/>
<rect x="643.47" y="441.11" width="25.96" height="15.70" fill="#4f7bbd"/>
<rect x="669.37" y="441.11" width="25.96" height="15.70" fill="#4f7bbd"/>
<rect x="695.28" y="441.11" width="25.96" height="15.70" fill="#4f7bbd"/>
<rect x="721.19" y="441.11" width="25.96" height="15.70" fill="#4f7bbd"/>
<rect x="747.10" y="441.11" width="25.96" height="15.70" fill="#4f7bbd"/>
<rect x="773.01" y="441.11" width="25.96" height="15.70" fill="#4f7bbd"/>
<rect x="798.91" y="441.11" width="25.96" height="15.70" fill="#4f7bbd"/>
<rect x="824.82" y="441.11" width="25.96" height="15.70" fill="#4f7bbd"/>
<rect x="850.73" y="441.11" width="25.96" height="15.70" fill="#4f7bbd"/>
<rect x="876.64" y="441.11" width="25.96" height="15.70" fill="#4f7bbd"/>
<rect x="902.54" y="441.11" width="25.96" height="15.70" fill="#4f7bbd"/>
<rect x="928.45" y="441.11" width="25.96" height="15.70" fill="#4f7bbd"/>
<rect x="954.36" y="441.11" width="25.96" height="15.70" fill="#4f7bbd"/>
<rect x="980.27" y="441.11" width="25.96" height="15.70" fill="#4f7bbd"/>
<rect x="1006.18" y="441.11" width="25.96" height="15.70" fill="#4f7bbd"/>
<rect x="1032.08" y="441.11" width="25.96" height="15.70" fill="#93c3de"/>
<rect x="1057.99" y="441.11" width="25.96" height="15.70" fill="#c8e6f0"/>
<rect x="1083.90" y="441.11" width="25.96" height="15.70" fill="#6898ca"/>
<rect x="1109.81" y="441.11" width="25.96" height="15.70" fill="#5b8ac3"/>
<rect x="1135.72" y="441.11" width="25.96" height="15.70" fill="#4f7bbd"/>
<rect x="1161.62" y="441.11" width="25.96" height="15.70" fill="#4f7bbd"/>
<rect x="1187.53" y="441.11" width="25.96" height="15.70" fill="#4f7bbd"/>
<rect x="1213.44" y="441.11" width="25.96" height="15.70" fill="#4f7bbd"/>
<rect x="1239.35" y="441.11" width="25.96" height="15.70" fill="#acd4e7"/>
<rect x="1265.26" y="441.11" width="25.96" height="15.70" fill="#acd4e7"/>
<rect x="1291.16" y="441.11" width="25.96" height="15.70" fill="#acd4e7"/>
<rect x="1317.07" y="441.11" width="25.96" height="15.70" fill="#e6583c"/>
<rect x="1342.98" y="441.11" width="25.96" height="15.70" fill="#93c3de"/>
<rect x="1368.89" y="441.11" width="25.96" height="15.70" fill="#acd4e7"/>
<rect x="1394.79" y="441.11" width="25.96" height="15.70" fill="#6898ca"/>
<rect x="1420.70" y="441.11" width="25.96" height="15.70" fill="#79a9d3"/>
<rect x="1446.61" y="441.11" width="25.96" height="15.70" fill="#93c3de"/>
<rect x="1472.52" y="441.11" width="25.96" height="15.70" fill="#acd4e7"/>
<rect x="1498.43" y="441.11" width="25.96" height="15.70" fill="#5b8ac3"/>
<rect x="1524.33" y="441.11" width="25.96" height="15.70" fill="#4f7bbd"/>
<rect x="1550.24" y="441.11" width="25.96" height="15.70" fill="#4f7bbd"/>
<rect x="1576.15" y="441.11" width="25.96" height="15.70" fill="#4f7bbd"/>
<rect x="1602.06" y="441.11" width="25.96" height="15.70" fill="#4f7bbd"/>
<rect x="1627.97" y="441.11" width="25.96" height="15.70" fill="#4f7bbd"/>
<rect x="1653.87" y="441.11" width="25.96" height="15.70" fill="#4f7bbd"/>
<rect x="1679.78" y="441.11" width="25.96" height="15.70" fill="#4f7bbd"/>
<rect x="1705.69" y="441.11" width="25.96" height="15.70" fill="#4f7bbd"/>
<rect x="1731.60" y="441.11" width="25.96" height="15.70" fill="#4f7bbd"/>
<rect x="1757.51" y="441.11" width="25.96" height="15.70" fill="#4f7bbd"/>
<rect x="1783.41" y="441.11" width="25.96" height="15.70" fill="#4f7bbd"/>
<rect x="1809.32" y="441.11" width="25.96" height="15.70" fill="#4f7bbd"/>
<rect x="1835.23" y="441.11" width="25.96" height="15.70" fill="#4f7bbd"/>
<rect x="1861.14" y="441.11" width="25.96" height="15.70" fill="#4f7bbd"/>
<rect x="1887.04" y="441.11" width="25.96" height="15.70" fill="#4f7bbd"/>
<rect x="1912.95" y="441.11" width="25.96" height="15.70" fill="#4f7bbd"/>
<rect x="1938.86" y="441.11" width="25.96" height="15.70" fill="#4f7bbd"/>
<rect x="1964.77" y="441.11" width="25.96" height="15.70" fill="#4f7bbd"/>
<rect x="1990.68" y="441.11" width="25.96" height="15.70" fill="#4f7bbd"/>
<rect x="2016.58" y="441.11" width="25.96" height="15.70" fill="#5481c0"/>
<rect x="2042.49" y="441.11" width="25.96" height="15.70" fill="#4f7bbd"/>
<rect x="99.40" y="456.75" width="25.96" height="15.70" fill="#4f7bbd"/>
<rect x="125.31" y="456.75" width="25.96" height="15.70" fill="#4f7bbd"/>
<rect x="151.22" y="456.75" width="25.96" height="15.70" fill="#4f7bbd"/>
<rect x="177.12" y="456.75" width="25.96" height="15.70" fill="#4f7bbd"/>
<rect x="203.03" y="456.75" width="25.96" height="15.70" fill="#4f7bbd"/>
<rect x="228.94" y="456.75" width="25.96" height="15.70" fill="#4f7bbd"/>
<rect x="254.85" y="456.75" width="25.96" height="15.70" fill="#4f7bbd"/>
<rect x="280.76" y="456.75" width="25.96" height="15.70" fill="#4f7bbd"/>
<rect x="306.66" y="456.75" width="25.96" height="15.70" fill="#4f7bbd"/>
<rect x="332.57" y="456.75" width="25.96" height="15.70" fill="#4f7bbd"/>
<rect x="358.48" y="456.75" width="25.96" height="15.70" fill="#4f7bbd"/>
<rect x="384.39" y="456.75" width="25.96" height="15.70" fill="#4f7bbd"/>
<rect x="410.29" y="456.75" width="25.96" height="15.70" fill="#4f7bbd"/>
<rect x="436.20" y="456.75" width="25.96" height="15.70" fill="#4f7bbd"/>
<rect x="462.11" y="456.75" width="25.96" height="15.70" fill="#4f7bbd"/>
<rect x="488.02" y="456.75" width="25.96" height="15.70" fill="#4f7bbd"/>
<rect x="513.93" y="456.75" width="25.96" height="15.70" fill="#4f7bbd"/>
<rect x="539.83" y="456.75" width="25.96" height="15.70" fill="#4f7bbd"/>
<rect x="565.74" y="456.75" width="25.96" height="15.70" fill="#4f7bbd"/>
<rect x="591.65" y="456.75" width="25.96" height="15.70" fill="#4f7bbd"/>
<rect x="617.56" y="456.75" width="25.96" height="15.70" fill="#4f7bbd"/>
<rect x="643.47" y="456.75" width="25.96" height="15.70" fill="#4f7bbd"/>
<rect x="669.37" y="456.75" width="25.96" height="15.70" fill="#4f7bbd"/>
<rect x="695.28" y="456.75" width="25.96" height="15.70" fill="#4f7bbd"/>
<rect x="721.19" y="456.75" width="25.96" height="15.70" fill="#4f7bbd"/>
<rect x="747.10" y="456.75" width="25.96" height="15.70" fill="#4f7bbd"/>
<rect x="773.01" y="456.75" width="25.96" height="15.70" fill="#4f7bbd"/>
<rect x="798.91" y="456.75" width="25.96" height="15.70" fill="#4f7bbd"/>
<rect x="824.82" y="456.75" width="25.96" height="15.70" fill="#4f7bbd"/>
<rect x="850.73" y="456.75" width="25.96" height="15.70" fill="#4f7bbd"/>
<rect x="876.64" y="456.75" width="25.96" height="15.70" fill="#4f7bbd"/>
<rect x="902.54" y="456.75" width="25.96" height="15.70" fill="#4f7bbd"/>
<rect x="928.45" y="456.75" width="25.96" height="15.70" fill="#4f7bbd"/>
<rect x="954.36" y="456.75" width="25.96" height="15.70" fill="#4f7bbd"/>
<rect x="980.27" y="456.75" width="25.96" height="15.70" fill="#4f7bbd"/>
<rect x="1006.18" y="456.75" width="25.96" height="15.70" fill="#4f7bbd"/>
<rect x="1032.08" y="456.75" width="25.96" height="15.70" fill="#4f7bbd"/>
<rect x="1057.99" y="456.75" width="25.96" height="15.70" fill="#4f7bbd"/>
<rect x="1083.90" y="456.75" width="25.96" height="15.70" fill="#4f7bbd"/>
<rect x="1109.81" y="456.75" width="25.96" height="15.70" fill="#4f7bbd"/>
<rect x="1135.72" y="456.75" width="25.96" height="15.70" fill="#4f7bbd"/>
<rect x="1161.62" y="456.75" width="25.96" height="15.70" fill="#4f7bbd"/>
<rect x="1187.53" y="456.75" width="25.96" height="15.70" fill="#4f7bbd"/>
<rect x="1213.44" y="456.75" width="25.96" height="15.70" fill="#4f7bbd"/>
<rect x="1239.35" y="456.75" width="25.96" height="15.70" fill="#4f7bbd"/>
<rect x="1265.26" y="456.75" width="25.96" height="15.70" fill="#4f7bbd"/>
<rect x="1291.16" y="456.75" width="25.96" height="15.70" fill="#4f7bbd"/>
<rect x="1317.07" y="456.75" width="25.96" height="15.70" fill="#4f7bbd"/>
<rect x="1342.98" y="456.75" width="25.96" height="15.70" fill="#4f7bbd"/>
<rect x="1368.89" y="456.75" width="25.96" height="15.70" fill="#4f7bbd"/>
<rect x="1394.79" y="456.75" width="25.96" height="15.70" fill="#4f7bbd"/>
<rect x="1420.70" y="456.75" width="25.96" height="15.70" fill="#4f7bbd"/>
<rect x="1446.61" y="456.75" width="25.96" height="15.70" fill="#4f7bbd"/>
<rect x="1472.52" y="456.75" width="25.96" height="15.70" fill="#4f7bbd"/>
<rect x="1498.43" y="456.75" width="25.96" height="15.70" fill="#4f7bbd"/>
<rect x="1524.33" y="456.75" width="25.96" height="15.70" fill="#4f7bbd"/>
<rect x="1550.24" y="456.75" width="25.96" height="15.70" fill="#4f7bbd"/>
<rect x="1576.15" y="456.75" width="25.96" height="15.70" fill="#4f7bbd"/>
<rect x="1602.06" y="456.75" width="25.96" height="15.70" fill="#4f7bbd"/>
<rect x="1627.97" y="456.75" width="25.96" height="15.70" fill="#4f7bbd"/>
<rect x="1653.87" y="456.75" width="25.96" height="15.70" fill="#4f7bbd"/>
<rect x="1679.78" y="456.75" width="25.96" height="15.70" fill="#4f7bbd"/>
<rect x="1705.69" y="456.75" width="25.96" height="15.70" fill="#4f7bbd"/>
<rect x="1731.60" y="456.75" width="25.96" height="15.70" fill="#4f7bbd"/>
<rect x="1757.51" y="456.75" width="25.96" height="15.70" fill="#4f7bbd"/>
<rect x="1783.41" y="456.75" width="25.96" height="15.70" fill="#4f7bbd"/>
<rect x="1809.32" y="456.75" width="25.96" height="15.70" fill="#4f7bbd"/>
<rect x="1835.23" y="456.75" width="25.96" height="15.70" fill="#4f7bbd"/>
<rect x="1861.14" y="456.75" width="25.96" height="15.70" fill="#4f7bbd"/>
<rect x="1887.04" y="456.75" width="25.96" height="15.70" fill="#4f7bbd"/>
<rect x="1912.95" y="456.75" width="25.96" height="15.70" fill="#4f7bbd"/>
<rect x="1938.86" y="456.75" width="25.96" height="15.70" fill="#4f7bbd"/>
<rect x="1964.77" y="456.75" width="25.96" height="15.70" fill="#4f7bbd"/>
<rect x="1990.68" y="456.75" width="25.96" height="15.70" fill="#4f7bbd"/>
<rect x="2016.58" y="456.75" width="25.96" height="15.70" fill="#4f7bbd"/>
<rect x="2042.49" y="456.75" width="25.96" height="15.70" fill="#4f7bbd"/>
<rect x="99.40" y="472.40" width="25.96" height="15.70" fill="#4f7bbd"/>
<rect x="125.31" y="472.40" width="25.96" height="15.70" fill="#4f7bbd"/>
<rect x="151.22" y="472.40" width="25.96" height="15.70" fill="#4f7bbd"/>
<rect x="177.12" y="472.40" width="25.96" height="15.70" fill="#4f7bbd"/>
<rect x="203.03" y="472.40" width="25.96" height="15.70" fill="#4f7bbd"/>
<rect x="228.94" y="472.40" width="25.96" height="15.70" fill="#4f7bbd"/>
<rect x="254.85" y="472.40" width="25.96" height="15.70" fill="#5b8ac3"/>
<rect x="280.76" y="472.40" width="25.96" height="15.70" fill="#4f7bbd"/>
<rect x="306.66" y="472.40" width="25.96" height="15.70" fill="#4f7bbd"/>
<rect x="332.57" y="472.40" width="25.96" height="15.70" fill="#4f7bbd"/>
<rect x="358.48" y="472.40" width="25.96" height="15.70" fill="#4f7bbd"/>
<rect x="384.39" y="472.40" width="25.96" height="15.70" fill="#4f7bbd"/>
<rect x="410.29" y="472.40" width="25.96" height="15.70" fill="#4f7bbd"/>
<rect x="436.20" y="472.40" width="25.96" height="15.70" fill="#5481c0"/>
<rect x="462.11" y="472.40" width="25.96" height="15.70" fill="#4f7bbd"/>
<rect x="488.02" y="472.40" width="25.96" height="15.70" fill="#4f7bbd"/>
<rect x="513.93" y="472.40" width="25.96" height="15.70" fill="#4f7bbd"/>
<rect x="539.83" y="472.40" width="25.96" height="15.70" fill="#4f7bbd"/>
<rect x="565.74" y="472.40" width="25.96" height="15.70" fill="#4f7bbd"/>
<rect x="591.65" y="472.40" width="25.96" height="15.70" fill="#4f7bbd"/>
<rect x="617.56" y="472.40" width="25.96" height="15.70" fill="#5481c0"/>
<rect x="643.47" y="472.40" width="25.96" height="15.70" fill="#5481c0"/>
<rect x="669.37" y="472.40" width="25.96" height="15.70" fill="#5481c0"/>
<rect x="695.28" y="472.40" width="25.96" height="15.70" fill="#5481c0"/>
<rect x="721.19" y="472.40" width="25.96" height="15.70" fill="#5481c0"/>
<rect x="747.10" y="472.40" width="25.96" height="15.70" fill="#4f7bbd"/>
<rect x="773.01" y="472.40" width="25.96" height="15.70" fill="#6898ca"/>
<rect x="798.91" y="472.40" width="25.96" height="15.70" fill="#4f7bbd"/>
<rect x="824.82" y="472.40" width="25.96" height="15.70" fill="#5481c0"/>
<rect x="850.73" y="472.40" width="25.96" height="15.70" fill="#5b8ac3"/>
<rect x="876.64" y="472.40" width="25.96" height="15.70" fill="#5481c0"/>
<rect x="902.54" y="472.40" width="25.96" height="15.70" fill="#4f7bbd"/>
<rect x="928.45" y="472.40" width="25.96" height="15.70" fill="#5b8ac3"/>
<rect x="954.36" y="472.40" width="25.96" height="15.70" fill="#4f7bbd"/>
<rect x="980.27" y="472.40" width="25.96" height="15.70" fill="#4f7bbd"/>
<rect x="1006.18" y="472.40" width="25.96" height="15.70" fill="#93c3de"/>
<rect x="1032.08" y="472.40" width="25.96" height="15.70" fill="#4f7bbd"/>
<rect x="1057.99" y="472.40" width="25.96" height="15.70" fill="#5481c0"/>
<rect x="1083.90" y="472.40" width="25.96" height="15.70" fill="#4f7bbd"/>
<rect x="1109.81" y="472.40" width="25.96" height="15.70" fill="#4f7bbd"/>
<rect x="1135.72" y="472.40" width="25.96" height="15.70" fill="#4f7bbd"/>
<rect x="1161.62" y="472.40" width="25.96" height="15.70" fill="#4f7bbd"/>
<rect x="1187.53" y="472.40" width="25.96" height="15.70" fill="#4f7bbd"/>
<rect x="1213.44" y="472.40" width="25.96" height="15.70" fill="#4f7bbd"/>
<rect x="1239.35" y="472.40" width="25.96" height="15.70" fill="#4f7bbd"/>
<rect x="1265.26" y="472.40" width="25.96" height="15.70" fill="#4f7bbd"/>
<rect x="1291.16" y="472.40" width="25.96" height="15.70" fill="#4f7bbd"/>
<rect x="1317.07" y="472.40" width="25.96" height="15.70" fill="#4f7bbd"/>
<rect x="1342.98" y="472.40" width="25.96" height="15.70" fill="#4f7bbd"/>
<rect x="1368.89" y="472.40" width="25.96" height="15.70" fill="#4f7bbd"/>
<rect x="1394.79" y="472.40" width="25.96" height="15.70" fill="#4f7bbd"/>
<rect x="1420.70" y="472.40" width="25.96" height="15.70" fill="#4f7bbd"/>
<rect x="1446.61" y="472.40" width="25.96" height="15.70" fill="#4f7bbd"/>
<rect x="1472.52" y="472.40" width="25.96" height="15.70" fill="#4f7bbd"/>
<rect x="1498.43" y="472.40" width="25.96" height="15.70" fill="#4f7bbd"/>
<rect x="1524.33" y="472.40" width="25.96" height="15.70" fill="#4f7bbd"/>
<rect x="1550.24" y="472.40" width="25.96" height="15.70" fill="#4f7bbd"/>
<rect x="1576.15" y="472.40" width="25.96" height="15.70" fill="#4f7bbd"/>
<rect x="1602.06" y="472.40" width="25.96" height="15.70" fill="#4f7bbd"/>
<rect x="1627.97" y="472.40" width="25.96" height="15.70" fill="#4f7bbd"/>
<rect x="1653.87" y="472.40" width="25.96" height="15.70" fill="#4f7bbd"/>
<rect x="1679.78" y="472.40" width="25.96" height="15.70" fill="#4f7bbd"/>
<rect x="1705.69" y="472.40" width="25.96" height="15.70" fill="#4f7bbd"/>
<rect x="1731.60" y="472.40" width="25.96" height="15.70" fill="#4f7bbd"/>
<rect x="1757.51" y="472.40" width="25.96" height="15.70" fill="#4f7bbd"/>
<rect x="1783.41" y="472.40" width="25.96" height="15.70" fill="#4f7bbd"/>
<rect x="1809.32" y="472.40" width="25.96" height="15.70" fill="#4f7bbd"/>
<rect x="1835.23" y="472.40" width="25.96" height="15.70" fill="#4f7bbd"/>
<rect x="1861.14" y="472.40" width="25.96" height="15.70" fill="#4f7bbd"/>
<rect x="1887.04" y="472.40" width="25.96" height="15.70" fill="#4f7bbd"/>
<rect x="1912.95" y="472.40" width="25.96" height="15.70" fill="#4f7bbd"/>
<rect x="1938.86" y="472.40" width="25.96" height="15.70" fill="#4f7bbd"/>
<rect x="1964.77" y="472.40" width="25.96" height="15.70" fill="#4f7bbd"/>
<rect x="1990.68" y="472.40" width="25.96" height="15.70" fill="#4f7bbd"/>
<rect x="2016.58" y="472.40" width="25.96" height="15.70" fill="#4f7bbd"/>
<rect x="2042.49" y="472.40" width="25.96" height="15.70" fill="#4f7bbd"/>
<rect x="99.40" y="488.04" width="25.96" height="15.70" fill="#5b8ac3"/>
<rect x="125.31" y="488.04" width="25.96" height="15.70" fill="#93c3de"/>
<rect x="151.22" y="488.04" width="25.96" height="15.70" fill="#4f7bbd"/>
<rect x="177.12" y="488.04" width="25.96" height="15.70" fill="#4f7bbd"/>
<rect x="203.03" y="488.04" width="25.96" height="15.70" fill="#5481c0"/>
<rect x="228.94" y="488.04" width="25.96" height="15.70" fill="#5481c0"/>
<rect x="254.85" y="488.04" width="25.96" height="15.70" fill="#79a9d3"/>
<rect x="280.76" y="488.04" width="25.96" height="15.70" fill="#6898ca"/>
<rect x="306.66" y="488.04" width="25.96" height="15.70" fill="#79a9d3"/>
<rect x="332.57" y="488.04" width="25.96" height="15.70" fill="#6898ca"/>
<rect x="358.48" y="488.04" width="25.96" height="15.70" fill="#5b8ac3"/>
<rect x="384.39" y="488.04" width="25.96" height="15.70" fill="#5481c0"/>
<rect x="410.29" y="488.04" width="25.96" height="15.70" fill="#6898ca"/>
<rect x="436.20" y="488.04" width="25.96" height="15.70" fill="#79a9d3"/>
<rect x="462.11" y="488.04" width="25.96" height="15.70" fill="#93c3de"/>
<rect x="488.02" y="488.04" width="25.96" height="15.70" fill="#5b8ac3"/>
<rect x="513.93" y="488.04" width="25.96" height="15.70" fill="#5b8ac3"/>
<rect x="539.83" y="488.04" width="25.96" height="15.70" fill="#6898ca"/>
<rect x="565.74" y="488.04" width="25.96" height="15.70" fill="#6898ca"/>
<rect x="591.65" y="488.04" width="25.96" height="15.70" fill="#6898ca"/>
<rect x="617.56" y="488.04" width="25.96" height="15.70" fill="#6898ca"/>
<rect x="643.47" y="488.04" width="25.96" height="15.70" fill="#5b8ac3"/>
<rect x="669.37" y="488.04" width="25.96" height="15.70" fill="#6898ca"/>
<rect x="695.28" y="488.04" width="25.96" height="15.70" fill="#6898ca"/>
<rect x="721.19" y="488.04" width="25.96" height="15.70" fill="#4f7bbd"/>
<rect x="747.10" y="488.04" width="25.96" height="15.70" fill="#4f7bbd"/>
<rect x="773.01" y="488.04" width="25.96" height="15.70" fill="#acd4e7"/>
<rect x="798.91" y="488.04" width="25.96" height="15.70" fill="#6898ca"/>
<rect x="824.82" y="488.04" width="25.96" height="15.70" fill="#acd4e7"/>
<rect x="850.73" y="488.04" width="25.96" height="15.70" fill="#5b8ac3"/>
<rect x="876.64" y="488.04" width="25.96" height="15.70" fill="#6898ca"/>
<rect x="902.54" y="488.04" width="25.96" height="15.70" fill="#5481c0"/>
<rect x="928.45" y="488.04" width="25.96" height="15.70" fill="#5b8ac3"/>
<rect x="954.36" y="488.04" width="25.96" height="15.70" fill="#6898ca"/>
<rect x="980.27" y="488.04" width="25.96" height="15.70" fill="#5b8ac3"/>
<rect x="1006.18" y="488.04" width="25.96" height="15.70" fill="#6898ca"/>
<rect x="1032.08" y="488.04" width="25.96" height="15.70" fill="#5481c0"/>
<rect x="1057.99" y="488.04" width="25.96" height="15.70" fill="#5b8ac3"/>
<rect x="1083.90" y="488.04" width="25.96" height="15.70" fill="#5b8ac3"/>
<rect x="1109.81" y="488.04" width="25.96" height="15.70" fill="#5b8ac3"/>
<rect x="1135.72" y="488.04" width="25.96" height="15.70" fill="#5b8ac3"/>
<rect x="1161.62" y="488.04" width="25.96" height="15.70" fill="#4f7bbd"/>
<rect x="1187.53" y="488.04" width="25.96" height="15.70" fill="#4f7bbd"/>
<rect x="1213.44" y="488.04" width="25.96" height="15.70" fill="#5481c0"/>
<rect x="1239.35" y="488.04" width="25.96" height="15.70" fill="#93c3de"/>
<rect x="1265.26" y="488.04" width="25.96" height="15.70" fill="#79a9d3"/>
<rect x="1291.16" y="488.04" width="25.96" height="15.70" fill="#6898ca"/>
<rect x="1317.07" y="488.04" width="25.96" height="15.70" fill="#5b8ac3"/>
<rect x="1342.98" y="488.04" width="25.96" height="15.70" fill="#5b8ac3"/>
<rect x="1368.89" y="488.04" width="25.96" height="15.70" fill="#6898ca"/>
<rect x="1394.79" y="488.04" width="25.96" height="15.70" fill="#5b8ac3"/>
<rect x="1420.70" y="488.04" width="25.96" height="15.70" fill="#6898ca"/>
<rect x="1446.61" y="488.04" width="25.96" height="15.70" fill="#6898ca"/>
<rect x="1472.52" y="488.04" width="25.96" height="15.70" fill="#4f7bbd"/>
<rect x="1498.43" y="488.04" width="25.96" height="15.70" fill="#5b8ac3"/>
<rect x="1524.33" y="488.04" width="25.96" height="15.70" fill="#5b8ac3"/>
<rect x="1550.24" y="488.04" width="25.96" height="15.70" fill="#5b8ac3"/>
<rect x="1576.15" y="488.04" width="25.96" height="15.70" fill="#6898ca"/>
<rect x="1602.06" y="488.04" width="25.96" height="15.70" fill="#5b8ac3"/>
<rect x="1627.97" y="488.04" width="25.96" height="15.70" fill="#5b8ac3"/>
<rect x="1653.87" y="488.04" width="25.96" height="15.70" fill="#5b8ac3"/>
<rect x="1679.78" y="488.04" width="25.96" height="15.70" fill="#6898ca"/>
<rect x="1705.69" y="488.04" width="25.96" height="15.70" fill="#6898ca"/>
<rect x="1731.60" y="488.04" width="25.96" height="15.70" fill="#6898ca"/>
<rect x="1757.51" y="488.04" width="25.96" height="15.70" fill="#79a9d3"/>
<rect x="1783.41" y="488.04" width="25.96" height="15.70" fill="#6898ca"/>
<rect x="1809.32" y="488.04" width="25.96" height="15.70" fill="#5b8ac3"/>
<rect x="1835.23" y="488.04" width="25.96" height="15.70" fill="#5b8ac3"/>
<rect x="1861.14" y="488.04" width="25.96" height="15.70" fill="#5b8ac3"/>
<rect x="1887.04" y="488.04" width="25.96" height="15.70" fill="#5b8ac3"/>
<rect x="1912.95" y="488.04" width="25.96" height="15.70" fill="#5b8ac3"/>
<rect x="1938.86" y="488.04" width="25.96" height="15.70" fill="#79a9d3"/>
<rect x="1964.77" y="488.04" width="25.96" height="15.70" fill="#79a9d3"/>
<rect x="1990.68" y="488.04" width="25.96" height="15.70" fill="#5481c0"/>
<rect x="2016.58" y="488.04" width="25.96" height="15.70" fill="#5b8ac3"/>
<rect x="2042.49" y="488.04" width="25.96" height="15.70" fill="#5b8ac3"/>
<rect x="99.40" y="503.69" width="25.96" height="15.70" fill="#4f7bbd"/>
<rect x="125.31" y="503.69" width="25.96" height="15.70" fill="#acd4e7"/>
<rect x="151.22" y="503.69" width="25.96" height="15.70" fill="#4f7bbd"/>
<rect x="177.12" y="503.69" width="25.96" height="15.70" fill="#4f7bbd"/>
<rect x="203.03" y="503.69" width="25.96" height="15.70" fill="#4f7bbd"/>
<rect x="228.94" y="503.69" width="25.96" height="15.70" fill="#4f7bbd"/>
<rect x="254.85" y="503.69" width="25.96" height="15.70" fill="#4f7bbd"/>
<rect x="280.76" y="503.69" width="25.96" height="15.70" fill="#5481c0"/>
<rect x="306.66" y="503.69" width="25.96" height="15.70" fill="#5b8ac3"/>
<rect x="332.57" y="503.69" width="25.96" height="15.70" fill="#4f7bbd"/>
<rect x="358.48" y="503.69" width="25.96" height="15.70" fill="#4f7bbd"/>
<rect x="384.39" y="503.69" width="25.96" height="15.70" fill="#5481c0"/>
<rect x="410.29" y="503.69" width="25.96" height="15.70" fill="#5b8ac3"/>
<rect x="436.20" y="503.69" width="25.96" height="15.70" fill="#5481c0"/>
<rect x="462.11" y="503.69" width="25.96" height="15.70" fill="#4f7bbd"/>
<rect x="488.02" y="503.69" width="25.96" height="15.70" fill="#6898ca"/>
<rect x="513.93" y="503.69" width="25.96" height="15.70" fill="#5b8ac3"/>
<rect x="539.83" y="503.69" width="25.96" height="15.70" fill="#4f7bbd"/>
<rect x="565.74" y="503.69" width="25.96" height="15.70" fill="#6898ca"/>
<rect x="591.65" y="503.69" width="25.96" height="15.70" fill="#6898ca"/>
<rect x="617.56" y="503.69" width="25.96" height="15.70" fill="#4f7bbd"/>
<rect x="643.47" y="503.69" width="25.96" height="15.70" fill="#6898ca"/>
<rect x="669.37" y="503.69" width="25.96" height="15.70" fill="#4f7bbd"/>
<rect x="695.28" y="503.69" width="25.96" height="15.70" fill="#4f7bbd"/>
<rect x="721.19" y="503.69" width="25.96" height="15.70" fill="#5481c0"/>
<rect x="747.10" y="503.69" width="25.96" height="15.70" fill="#4f7bbd"/>
<rect x="773.01" y="503.69" width="25.96" height="15.70" fill="#5481c0"/>
<rect x="798.91" y="503.69" width="25.96" height="15.70" fill="#4f7bbd"/>
<rect x="824.82" y="503.69" width="25.96" height="15.70" fill="#5b8ac3"/>
<rect x="850.73" y="503.69" width="25.96" height="15.70" fill="#6898ca"/>
<rect x="876.64" y="503.69" width="25.96" height="15.70" fill="#6898ca"/>
<rect x="902.54" y="503.69" width="25.96" height="15.70" fill="#79a9d3"/>
<rect x="928.45" y="503.69" width="25.96" height="15.70" fill="#4f7bbd"/>
<rect x="954.36" y="503.69" width="25.96" height="15.70" fill="#4f7bbd"/>
<rect x="980.27" y="503.69" width="25.96" height="15.70" fill="#4f7bbd"/>
<rect x="1006.18" y="503.69" width="25.96" height="15.70" fill="#acd4e7"/>
<rect x="1032.08" y="503.69" width="25.96" height="15.70" fill="#5b8ac3"/>
<rect x="1057.99" y="503.69" width="25.96" height="15.70" fill="#5b8ac3"/>
<rect x="1083.90" y="503.69" width="25.96" height="15.70" fill="#5b8ac3"/>
<rect x="1109.81" y="503.69" width="25.96" height="15.70" fill="#5b8ac3"/>
<rect x="1135.72" y="503.69" width="25.96" height="15.70" fill="#5b8ac3"/>
<rect x="1161.62" y="503.69" width="25.96" height="15.70" fill="#4f7bbd"/>
<rect x="1187.53" y="503.69" width="25.96" height="15.70" fill="#5481c0"/>
<rect x="1213.44" y="503.69" width="25.96" height="15.70" fill="#5481c0"/>
<rect x="1239.35" y="503.69" width="25.96" height="15.70" fill="#4f7bbd"/>
<rect x="1265.26" y="503.69" width="25.96" height="15.70" fill="#4f7bbd"/>
<rect x="1291.16" y="503.69" width="25.96" height="15.70" fill="#4f7bbd"/>
<rect x="1317.07" y="503.69" width="25.96" height="15.70" fill="#4f7bbd"/>
<rect x="1342.98" y="503.69" width="25.96" height="15.70" fill="#4f7bbd"/>
<rect x="1368.89" y="503.69" width="25.96" height="15.70" fill="#79a9d3"/>
<rect x="1394.79" y="503.69" width="25.96" height="15.70" fill="#5481c0"/>
<rect x="1420.70" y="503.69" width="25.96" height="15.70" fill="#c8e6f0"/>
<rect x="1446.61" y="503.69" width="25.96" height="15.70" fill="#acd4e7"/>
<rect x="1472.52" y="503.69" width="25.96" height="15.70" fill="#4f7bbd"/>
<rect x="1498.43" y="503.69" width="25.96" height="15.70" fill="#93c3de"/>
<rect x="1524.33" y="503.69" width="25.96" height="15.70" fill="#5b8ac3"/>
<rect x="1550.24" y="503.69" width="25.96" height="15.70" fill="#5b8ac3"/>
<rect x="1576.15" y="503.69" width="25.96" height="15.70" fill="#5b8ac3"/>
<rect x="1602.06" y="503.69" width="25.96" height="15.70" fill="#4f7bbd"/>
<rect x="1627.97" y="503.69" width="25.96" height="15.70" fill="#4f7bbd"/>
<rect x="1653.87" y="503.69" width="25.96" height="15.70" fill="#93c3de"/>
<rect x="1679.78" y="503.69" width="25.96" height="15.70" fill="#93c3de"/>
<rect x="1705.69" y="503.69" width="25.96" height="15.70" fill="#4f7bbd"/>
<rect x="1731.60" y="503.69" width="25.96" height="15.70" fill="#5b8ac3"/>
<rect x="1757.51" y="503.69" width="25.96" height="15.70" fill="#c8e6f0"/>
<rect x="1783.41" y="503.69" width="25.96" height="15.70" fill="#5b8ac3"/>
<rect x="1809.32" y="503.69" width="25.96" height="15.70" fill="#79a9d3"/>
<rect x="1835.23" y="503.69" width="25.96" height="15.70" fill="#4f7bbd"/>
<rect x="1861.14" y="503.69" width="25.96" height="15.70" fill="#4f7bbd"/>
<rect x="1887.04" y="503.69" width="25.96" height="15.70" fill="#5481c0"/>
<rect x="1912.95" y="503.69" width="25.96" height="15.70" fill="#5481c0"/>
<rect x="1938.86" y="503.69" width="25.96" height="15.70" fill="#93c3de"/>
<rect x="1964.77" y="503.69" width="25.96" height="15.70" fill="#c8e6f0"/>
<rect x="1990.68" y="503.69" width="25.96" height="15.70" fill="#6898ca"/>
<rect x="2016.58" y="503.69" width="25.96" height="15.70" fill="#5481c0"/>
<rect x="2042.49" y="503.69" width="25.96" height="15.70" fill="#4f7bbd"/>
<rect x="99.40" y="519.33" width="25.96" height="15.70" fill="#4f7bbd"/>
<rect x="125.31" y="519.33" width="25.96" height="15.70" fill="#4f7bbd"/>
<rect x="151.22" y="519.33" width="25.96" height="15.70" fill="#4f7bbd"/>
<rect x="177.12" y="519.33" width="25.96" height="15.70" fill="#4f7bbd"/>
<rect x="203.03" y="519.33" width="25.96" height="15.70" fill="#4f7bbd"/>
<rect x="228.94" y="519.33" width="25.96" height="15.70" fill="#4f7bbd"/>
<rect x="254.85" y="519.33" width="25.96" height="15.70" fill="#db3128"/>
<rect x="280.76" y="519.33" width="25.96" height="15.70" fill="#db3128"/>
<rect x="306.66" y="519.33" width="25.96" height="15.70" fill="#db3128"/>
<rect x="332.57" y="519.33" width="25.96" height="15.70" fill="#db3128"/>
<rect x="358.48" y="519.33" width="25.96" height="15.70" fill="#db3128"/>
<rect x="384.39" y="519.33" width="25.96" height="15.70" fill="#db3128"/>
<rect x="410.29" y="519.33" width="25.96" height="15.70" fill="#db3128"/>
<rect x="436.20" y="519.33" width="25.96" height="15.70" fill="#db3128"/>
<rect x="462.11" y="519.33" width="25.96" height="15.70" fill="#db3128"/>
<rect x="488.02" y="519.33" width="25.96" height="15.70" fill="#db3128"/>
<rect x="513.93" y="519.33" width="25.96" height="15.70" fill="#db3128"/>
<rect x="539.83" y="519.33" width="25.96" height="15.70" fill="#db3128"/>
<rect x="565.74" y="519.33" width="25.96" height="15.70" fill="#db3128"/>
<rect x="591.65" y="519.33" width="25.96" height="15.70" fill="#db3128"/>
<rect x="617.56" y="519.33" width="25.96" height="15.70" fill="#db3128"/>
<rect x="643.47" y="519.33" width="25.96" height="15.70" fill="#db3128"/>
<rect x="669.37" y="519.33" width="25.96" height="15.70" fill="#db3128"/>
<rect x="695.28" y="519.33" width="25.96" height="15.70" fill="#db3128"/>
<rect x="721.19" y="519.33" width="25.96" height="15.70" fill="#db3128"/>
<rect x="747.10" y="519.33" width="25.96" height="15.70" fill="#db3128"/>
<rect x="773.01" y="519.33" width="25.96" height="15.70" fill="#db3128"/>
<rect x="798.91" y="519.33" width="25.96" height="15.70" fill="#db3128"/>
<rect x="824.82" y="519.33" width="25.96" height="15.70" fill="#db3128"/>
<rect x="850.73" y="519.33" width="25.96" height="15.70" fill="#db3128"/>
<rect x="876.64" y="519.33" width="25.96" height="15.70" fill="#db3128"/>
<rect x="902.54" y="519.33" width="25.96" height="15.70" fill="#db3128"/>
<rect x="928.45" y="519.33" width="25.96" height="15.70" fill="#db3128"/>
<rect x="954.36" y="519.33" width="25.96" height="15.70" fill="#f6e9a0"/>
<rect x="980.27" y="519.33" width="25.96" height="15.70" fill="#5b8ac3"/>
<rect x="1006.18" y="519.33" width="25.96" height="15.70" fill="#f2c07a"/>
<rect x="1032.08" y="519.33" width="25.96" height="15.70" fill="#edf7dc"/>
<rect x="1057.99" y="519.33" width="25.96" height="15.70" fill="#e0f2f1"/>
<rect x="1083.90" y="519.33" width="25.96" height="15.70" fill="#f2c07a"/>
<rect x="1109.81" y="519.33" width="25.96" height="15.70" fill="#db3128"/>
<rect x="1135.72" y="519.33" width="25.96" height="15.70" fill="#db3128"/>
<rect x="1161.62" y="519.33" width="25.96" height="15.70" fill="#db3128"/>
<rect x="1187.53" y="519.33" width="25.96" height="15.70" fill="#db3128"/>
<rect x="1213.44" y="519.33" width="25.96" height="15.70" fill="#db3128"/>
<rect x="1239.35" y="519.33" width="25.96" height="15.70" fill="#db3128"/>
<rect x="1265.26" y="519.33" width="25.96" height="15.70" fill="#db3128"/>
<rect x="1291.16" y="519.33" width="25.96" height="15.70" fill="#db3128"/>
<rect x="1317.07" y="519.33" width="25.96" height="15.70" fill="#db3128"/>
<rect x="1342.98" y="519.33" width="25.96" height="15.70" fill="#db3128"/>
<rect x="1368.89" y="519.33" width="25.96" height="15.70" fill="#db3128"/>
<rect x="1394.79" y="519.33" width="25.96" height="15.70" fill="#db3128"/>
<rect x="1420.70" y="519.33" width="25.96" height="15.70" fill="#db3128"/>
<rect x="1446.61" y="519.33" width="25.96" height="15.70" fill="#db3128"/>
<rect x="1472.52" y="519.33" width="25.96" height="15.70" fill="#db3128"/>
<rect x="1498.43" y="519.33" width="25.96" height="15.70" fill="#db3128"/>
<rect x="1524.33" y="519.33" width="25.96" height="15.70" fill="#db3128"/>
<rect x="1550.24" y="519.33" width="25.96" height="15.70" fill="#db3128"/>
<rect x="1576.15" y="519.33" width="25.96" height="15.70" fill="#db3128"/>
<rect x="1602.06" y="519.33" width="25.96" height="15.70" fill="#db3128"/>
<rect x="1627.97" y="519.33" width="25.96" height="15.70" fill="#db3128"/>
<rect x="1653.87" y="519.33" width="25.96" height="15.70" fill="#db3128"/>
<rect x="1679.78" y="519.33" width="25.96" height="15.70" fill="#db3128"/>
<rect x="1705.69" y="519.33" width="25.96" height="15.70" fill="#db3128"/>
<rect x="1731.60" y="519.33" width="25.96" height="15.70" fill="#db3128"/>
<rect x="1757.51" y="519.33" width="25.96" height="15.70" fill="#db3128"/>
<rect x="1783.41" y="519.33" width="25.96" height="15.70" fill="#db3128"/>
<rect x="1809.32" y="519.33" width="25.96" height="15.70" fill="#db3128"/>
<rect x="1835.23" y="519.33" width="25.96" height="15.70" fill="#db3128"/>
<rect x="1861.14" y="519.33" width="25.96" height="15.70" fill="#db3128"/>
<rect x="1887.04" y="519.33" width="25.96" height="15.70" fill="#db3128"/>
<rect x="1912.95" y="519.33" width="25.96" height="15.70" fill="#db3128"/>
<rect x="1938.86" y="519.33" width="25.96" height="15.70" fill="#db3128"/>
<rect x="1964.77" y="519.33" width="25.96" height="15.70" fill="#db3128"/>
<rect x="1990.68" y="519.33" width="25.96" height="15.70" fill="#db3128"/>
<rect x="2016.58" y="519.33" width="25.96" height="15.70" fill="#db3128"/>
<rect x="2042.49" y="519.33" width="25.96" height="15.70" fill="#db3128"/>
<rect x="99.40" y="534.98" width="25.96" height="15.70" fill="#6898ca"/>
<rect x="125.31" y="534.98" width="25.96" height="15.70" fill="#6898ca"/>
<rect x="151.22" y="534.98" width="25.96" height="15.70" fill="#6898ca"/>
<rect x="177.12" y="534.98" width="25.96" height="15.70" fill="#79a9d3"/>
<rect x="203.03" y="534.98" width="25.96" height="15.70" fill="#6898ca"/>
<rect x="228.94" y="534.98" width="25.96" height="15.70" fill="#6898ca"/>
<rect x="254.85" y="534.98" width="25.96" height="15.70" fill="#db3128"/>
<rect x="280.76" y="534.98" width="25.96" height="15.70" fill="#db3128"/>
<rect x="306.66" y="534.98" width="25.96" height="15.70" fill="#db3128"/>
<rect x="332.57" y="534.98" width="25.96" height="15.70" fill="#db3128"/>
<rect x="358.48" y="534.98" width="25.96" height="15.70" fill="#db3128"/>
<rect x="384.39" y="534.98" width="25.96" height="15.70" fill="#f6e9a0"/>
<rect x="410.29" y="534.98" width="25.96" height="15.70" fill="#db3128"/>
<rect x="436.20" y="534.98" width="25.96" height="15.70" fill="#e6583c"/>
<rect x="462.11" y="534.98" width="25.96" height="15.70" fill="#f6e9a0"/>
<rect x="488.02" y="534.98" width="25.96" height="15.70" fill="#e6583c"/>
<rect x="513.93" y="534.98" width="25.96" height="15.70" fill="#db3128"/>
<rect x="539.83" y="534.98" width="25.96" height="15.70" fill="#db3128"/>
<rect x="565.74" y="534.98" width="25.96" height="15.70" fill="#db3128"/>
<rect x="591.65" y="534.98" width="25.96" height="15.70" fill="#db3128"/>
<rect x="617.56" y="534.98" width="25.96" height="15.70" fill="#db3128"/>
<rect x="643.47" y="534.98" width="25.96" height="15.70" fill="#db3128"/>
<rect x="669.37" y="534.98" width="25.96" height="15.70" fill="#db3128"/>
<rect x="695.28" y="534.98" width="25.96" height="15.70" fill="#db3128"/>
<rect x="721.19" y="534.98" width="25.96" height="15.70" fill="#f6e9a0"/>
<rect x="747.10" y="534.98" width="25.96" height="15.70" fill="#edf7dc"/>
<rect x="773.01" y="534.98" width="25.96" height="15.70" fill="#f6e9a0"/>
<rect x="798.91" y="534.98" width="25.96" height="15.70" fill="#db3128"/>
<rect x="824.82" y="534.98" width="25.96" height="15.70" fill="#db3128"/>
<rect x="850.73" y="534.98" width="25.96" height="15.70" fill="#db3128"/>
<rect x="876.64" y="534.98" width="25.96" height="15.70" fill="#db3128"/>
<rect x="902.54" y="534.98" width="25.96" height="15.70" fill="#db3128"/>
<rect x="928.45" y="534.98" width="25.96" height="15.70" fill="#db3128"/>
<rect x="954.36" y="534.98" width="25.96" height="15.70" fill="#db3128"/>
<rect x="980.27" y="534.98" width="25.96" height="15.70" fill="#e6583c"/>
<rect x="1006.18" y="534.98" width="25.96" height="15.70" fill="#db3128"/>
<rect x="1032.08" y="534.98" width="25.96" height="15.70" fill="#f28d5a"/>
<rect x="1057.99" y="534.98" width="25.96" height="15.70" fill="#e6583c"/>
<rect x="1083.90" y="534.98" width="25.96" height="15.70" fill="#db3128"/>
<rect x="1109.81" y="534.98" width="25.96" height="15.70" fill="#db3128"/>
<rect x="1135.72" y="534.98" width="25.96" height="15.70" fill="#db3128"/>
<rect x="1161.62" y="534.98" width="25.96" height="15.70" fill="#f2c07a"/>
<rect x="1187.53" y="534.98" width="25.96" height="15.70" fill="#e0f2f1"/>
<rect x="1213.44" y="534.98" width="25.96" height="15.70" fill="#db3128"/>
<rect x="1239.35" y="534.98" width="25.96" height="15.70" fill="#db3128"/>
<rect x="1265.26" y="534.98" width="25.96" height="15.70" fill="#f28d5a"/>
<rect x="1291.16" y="534.98" width="25.96" height="15.70" fill="#db3128"/>
<rect x="1317.07" y="534.98" width="25.96" height="15.70" fill="#db3128"/>
<rect x="1342.98" y="534.98" width="25.96" height="15.70" fill="#db3128"/>
<rect x="1368.89" y="534.98" width="25.96" height="15.70" fill="#db3128"/>
<rect x="1394.79" y="534.98" width="25.96" height="15.70" fill="#f28d5a"/>
<rect x="1420.70" y="534.98" width="25.96" height="15.70" fill="#f2c07a"/>
<rect x="1446.61" y="534.98" width="25.96" height="15.70" fill="#db3128"/>
<rect x="1472.52" y="534.98" width="25.96" height="15.70" fill="#f28d5a"/>
<rect x="1498.43" y="534.98" width="25.96" height="15.70" fill="#db3128"/>
<rect x="1524.33" y="534.98" width="25.96" height="15.70" fill="#db3128"/>
<rect x="1550.24" y="534.98" width="25.96" height="15.70" fill="#db3128"/>
<rect x="1576.15" y="534.98" width="25.96" height="15.70" fill="#e6583c"/>
<rect x="1602.06" y="534.98" width="25.96" height="15.70" fill="#db3128"/>
<rect x="1627.97" y="534.98" width="25.96" height="15.70" fill="#db3128"/>
<rect x="1653.87" y="534.98" width="25.96" height="15.70" fill="#db3128"/>
<rect x="1679.78" y="534.98" width="25.96" height="15.70" fill="#db3128"/>
<rect x="1705.69" y="534.98" width="25.96" height="15.70" fill="#db3128"/>
<rect x="1731.60" y="534.98" width="25.96" height="15.70" fill="#db3128"/>
<rect x="1757.51" y="534.98" width="25.96" height="15.70" fill="#db3128"/>
<rect x="1783.41" y="534.98" width="25.96" height="15.70" fill="#db3128"/>
<rect x="1809.32" y="534.98" width="25.96" height="15.70" fill="#db3128"/>
<rect x="1835.23" y="534.98" width="25.96" height="15.70" fill="#db3128"/>
<rect x="1861.14" y="534.98" width="25.96" height="15.70" fill="#db3128"/>
<rect x="1887.04" y="534.98" width="25.96" height="15.70" fill="#e6583c"/>
<rect x="1912.95" y="534.98" width="25.96" height="15.70" fill="#db3128"/>
<rect x="1938.86" y="534.98" width="25.96" height="15.70" fill="#f28d5a"/>
<rect x="1964.77" y="534.98" width="25.96" height="15.70" fill="#db3128"/>
<rect x="1990.68" y="534.98" width="25.96" height="15.70" fill="#db3128"/>
<rect x="2016.58" y="534.98" width="25.96" height="15.70" fill="#e6583c"/>
<rect x="2042.49" y="534.98" width="25.96" height="15.70" fill="#db3128"/>
<rect x="99.40" y="550.63" width="25.96" height="15.70" fill="#93c3de"/>
<rect x="125.31" y="550.63" width="25.96" height="15.70" fill="#6898ca"/>
<rect x="151.22" y="550.63" width="25.96" height="15.70" fill="#79a9d3"/>
<rect x="177.12" y="550.63" width="25.96" height="15.70" fill="#93c3de"/>
<rect x="203.03" y="550.63" width="25.96" height="15.70" fill="#79a9d3"/>
<rect x="228.94" y="550.63" width="25.96" height="15.70" fill="#79a9d3"/>
<rect x="254.85" y="550.63" width="25.96" height="15.70" fill="#db3128"/>
<rect x="280.76" y="550.63" width="25.96" height="15.70" fill="#db3128"/>
<rect x="306.66" y="550.63" width="25.96" height="15.70" fill="#db3128"/>
<rect x="332.57" y="550.63" width="25.96" height="15.70" fill="#db3128"/>
<rect x="358.48" y="550.63" width="25.96" height="15.70" fill="#db3128"/>
<rect x="384.39" y="550.63" width="25.96" height="15.70" fill="#db3128"/>
<rect x="410.29" y="550.63" width="25.96" height="15.70" fill="#db3128"/>
<rect x="436.20" y="550.63" width="25.96" height="15.70" fill="#db3128"/>
<rect x="462.11" y="550.63" width="25.96" height="15.70" fill="#db3128"/>
<rect x="488.02" y="550.63" width="25.96" height="15.70" fill="#db3128"/>
<rect x="513.93" y="550.63" width="25.96" height="15.70" fill="#db3128"/>
<rect x="539.83" y="550.63" width="25.96" height="15.70" fill="#db3128"/>
<rect x="565.74" y="550.63" width="25.96" height="15.70" fill="#db3128"/>
<rect x="591.65" y="550.63" width="25.96" height="15.70" fill="#db3128"/>
<rect x="617.56" y="550.63" width="25.96" height="15.70" fill="#db3128"/>
<rect x="643.47" y="550.63" width="25.96" height="15.70" fill="#db3128"/>
<rect x="669.37" y="550.63" width="25.96" height="15.70" fill="#db3128"/>
<rect x="695.28" y="550.63" width="25.96" height="15.70" fill="#db3128"/>
<rect x="721.19" y="550.63" width="25.96" height="15.70" fill="#db3128"/>
<rect x="747.10" y="550.63" width="25.96" height="15.70" fill="#e6583c"/>
<rect x="773.01" y="550.63" width="25.96" height="15.70" fill="#db3128"/>
<rect x="798.91" y="550.63" width="25.96" height="15.70" fill="#db3128"/>
<rect x="824.82" y="550.63" width="25.96" height="15.70" fill="#db3128"/>
<rect x="850.73" y="550.63" width="25.96" height="15.70" fill="#db3128"/>
<rect x="876.64" y="550.63" width="25.96" height="15.70" fill="#db3128"/>
<rect x="902.54" y="550.63" width="25.96" height="15.70" fill="#db3128"/>
<rect x="928.45" y="550.63" width="25.96" height="15.70" fill="#db3128"/>
<rect x="954.36" y="550.63" width="25.96" height="15.70" fill="#db3128"/>
<rect x="980.27" y="550.63" width="25.96" height="15.70" fill="#db3128"/>
<rect x="1006.18" y="550.63" width="25.96" height="15.70" fill="#db3128"/>
<rect x="1032.08" y="550.63" width="25.96" height="15.70" fill="#db3128"/>
<rect x="1057.99" y="550.63" width="25.96" height="15.70" fill="#f28d5a"/>
<rect x="1083.90" y="550.63" width="25.96" height="15.70" fill="#db3128"/>
<rect x="1109.81" y="550.63" width="25.96" height="15.70" fill="#db3128"/>
<rect x="1135.72" y="550.63" width="25.96" height="15.70" fill="#db3128"/>
<rect x="1161.62" y="550.63" width="25.96" height="15.70" fill="#db3128"/>
<rect x="1187.53" y="550.63" width="25.96" height="15.70" fill="#f2c07a"/>
<rect x="1213.44" y="550.63" width="25.96" height="15.70" fill="#db3128"/>
<rect x="1239.35" y="550.63" width="25.96" height="15.70" fill="#db3128"/>
<rect x="1265.26" y="550.63" width="25.96" height="15.70" fill="#db3128"/>
<rect x="1291.16" y="550.63" width="25.96" height="15.70" fill="#db3128"/>
<rect x="1317.07" y="550.63" width="25.96" height="15.70" fill="#db3128"/>
<rect x="1342.98" y="550.63" width="25.96" height="15.70" fill="#db3128"/>
<rect x="1368.89" y="550.63" width="25.96" height="15.70" fill="#db3128"/>
<rect x="1394.79" y="550.63" width="25.96" height="15.70" fill="#db3128"/>
<rect x="1420.70" y="550.63" width="25.96" height="15.70" fill="#db3128"/>
<rect x="1446.61" y="550.63" width="25.96" height="15.70" fill="#db3128"/>
<rect x="1472.52" y="550.63" width="25.96" height="15.70" fill="#db3128"/>
<rect x="1498.43" y="550.63" width="25.96" height="15.70" fill="#db3128"/>
<rect x="1524.33" y="550.63" width="25.96" height="15.70" fill="#db3128"/>
<rect x="1550.24" y="550.63" width="25.96" height="15.70" fill="#db3128"/>
<rect x="1576.15" y="550.63" width="25.96" height="15.70" fill="#db3128"/>
<rect x="1602.06" y="550.63" width="25.96" height="15.70" fill="#db3128"/>
<rect x="1627.97" y="550.63" width="25.96" height="15.70" fill="#db3128"/>
<rect x="1653.87" y="550.63" width="25.96" height="15.70" fill="#db3128"/>
<rect x="1679.78" y="550.63" width="25.96" height="15.70" fill="#db3128"/>
<rect x="1705.69" y="550.63" width="25.96" height="15.70" fill="#db3128"/>
<rect x="1731.60" y="550.63" width="25.96" height="15.70" fill="#db3128"/>
<rect x="1757.51" y="550.63" width="25.96" height="15.70" fill="#db3128"/>
<rect x="1783.41" y="550.63" width="25.96" height="15.70" fill="#db3128"/>
<rect x="1809.32" y="550.63" width="25.96" height="15.70" fill="#db3128"/>
<rect x="1835.23" y="550.63" width="25.96" height="15.70" fill="#db3128"/>
<rect x="1861.14" y="550.63" width="25.96" height="15.70" fill="#db3128"/>
<rect x="1887.04" y="550.63" width="25.96" height="15.70" fill="#db3128"/>
<rect x="1912.95" y="550.63" width="25.96" height="15.70" fill="#db3128"/>
<rect x="1938.86" y="550.63" width="25.96" height="15.70" fill="#db3128"/>
<rect x="1964.77" y="550.63" width="25.96" height="15.70" fill="#db3128"/>
<rect x="1990.68" y="550.63" width="25.96" height="15.70" fill="#db3128"/>
<rect x="2016.58" y="550.63" width="25.96" height="15.70" fill="#db3128"/>
<rect x="2042.49" y="550.63" width="25.96" height="15.70" fill="#db3128"/>
<rect x="99.40" y="566.27" width="25.96" height="15.70" fill="#edf7dc"/>
<rect x="125.31" y="566.27" width="25.96" height="15.70" fill="#e6583c"/>
<rect x="151.22" y="566.27" width="25.96" height="15.70" fill="#f6e9a0"/>
<rect x="177.12" y="566.27" width="25.96" height="15.70" fill="#db3128"/>
<rect x="203.03" y="566.27" width="25.96" height="15.70" fill="#e6583c"/>
<rect x="228.94" y="566.27" width="25.96" height="15.70" fill="#db3128"/>
<rect x="254.85" y="566.27" width="25.96" height="15.70" fill="#db3128"/>
<rect x="280.76" y="566.27" width="25.96" height="15.70" fill="#db3128"/>
<rect x="306.66" y="566.27" width="25.96" height="15.70" fill="#db3128"/>
<rect x="332.57" y="566.27" width="25.96" height="15.70" fill="#db3128"/>
<rect x="358.48" y="566.27" width="25.96" height="15.70" fill="#db3128"/>
<rect x="384.39" y="566.27" width="25.96" height="15.70" fill="#db3128"/>
<rect x="410.29" y="566.27" width="25.96" height="15.70" fill="#db3128"/>
<rect x="436.20" y="566.27" width="25.96" height="15.70" fill="#db3128"/>
<rect x="462.11" y="566.27" width="25.96" height="15.70" fill="#db3128"/>
<rect x="488.02" y="566.27" width="25.96" height="15.70" fill="#db3128"/>
<rect x="513.93" y="566.27" width="25.96" height="15.70" fill="#db3128"/>
<rect x="539.83" y="566.27" width="25.96" height="15.70" fill="#db3128"/>
<rect x="565.74" y="566.27" width="25.96" height="15.70" fill="#db3128"/>
<rect x="591.65" y="566.27" width="25.96" height="15.70" fill="#db3128"/>
<rect x="617.56" y="566.27" width="25.96" height="15.70" fill="#93c3de"/>
<rect x="643.47" y="566.27" width="25.96" height="15.70" fill="#c8e6f0"/>
<rect x="669.37" y="566.27" width="25.96" height="15.70" fill="#4f7bbd"/>
<rect x="695.28" y="566.27" width="25.96" height="15.70" fill="#4f7bbd"/>
<rect x="721.19" y="566.27" width="25.96" height="15.70" fill="#db3128"/>
<rect x="747.10" y="566.27" width="25.96" height="15.70" fill="#e6583c"/>
<rect x="773.01" y="566.27" width="25.96" height="15.70" fill="#db3128"/>
<rect x="798.91" y="566.27" width="25.96" height="15.70" fill="#db3128"/>
<rect x="824.82" y="566.27" width="25.96" height="15.70" fill="#db3128"/>
<rect x="850.73" y="566.27" width="25.96" height="15.70" fill="#db3128"/>
<rect x="876.64" y="566.27" width="25.96" height="15.70" fill="#db3128"/>
<rect x="902.54" y="566.27" width="25.96" height="15.70" fill="#db3128"/>
<rect x="928.45" y="566.27" width="25.96" height="15.70" fill="#db3128"/>
<rect x="954.36" y="566.27" width="25.96" height="15.70" fill="#db3128"/>
<rect x="980.27" y="566.27" width="25.96" height="15.70" fill="#db3128"/>
<rect x="1006.18" y="566.27" width="25.96" height="15.70" fill="#f5f9c5"/>
<rect x="1032.08" y="566.27" width="25.96" height="15.70" fill="#f28d5a"/>
<rect x="1057.99" y="566.27" width="25.96" height="15.70" fill="#f6e9a0"/>
<rect x="1083.90" y="566.27" width="25.96" height="15.70" fill="#79a9d3"/>
<rect x="1109.81" y="566.27" width="25.96" height="15.70" fill="#79a9d3"/>
<rect x="1135.72" y="566.27" width="25.96" height="15.70" fill="#acd4e7"/>
<rect x="1161.62" y="566.27" width="25.96" height="15.70" fill="#acd4e7"/>
<rect x="1187.53" y="566.27" width="25.96" height="15.70" fill="#6898ca"/>
<rect x="1213.44" y="566.27" width="25.96" height="15.70" fill="#5b8ac3"/>
<rect x="1239.35" y="566.27" width="25.96" height="15.70" fill="#5b8ac3"/>
<rect x="1265.26" y="566.27" width="25.96" height="15.70" fill="#6898ca"/>
<rect x="1291.16" y="566.27" width="25.96" height="15.70" fill="#6898ca"/>
<rect x="1317.07" y="566.27" width="25.96" height="15.70" fill="#5b8ac3"/>
<rect x="1342.98" y="566.27" width="25.96" height="15.70" fill="#c8e6f0"/>
<rect x="1368.89" y="566.27" width="25.96" height="15.70" fill="#6898ca"/>
<rect x="1394.79" y="566.27" width="25.96" height="15.70" fill="#db3128"/>
<rect x="1420.70" y="566.27" width="25.96" height="15.70" fill="#93c3de"/>
<rect x="1446.61" y="566.27" width="25.96" height="15.70" fill="#edf7dc"/>
<rect x="1472.52" y="566.27" width="25.96" height="15.70" fill="#5b8ac3"/>
<rect x="1498.43" y="566.27" width="25.96" height="15.70" fill="#edf7dc"/>
<rect x="1524.33" y="566.27" width="25.96" height="15.70" fill="#e0f2f1"/>
<rect x="1550.24" y="566.27" width="25.96" height="15.70" fill="#db3128"/>
<rect x="1576.15" y="566.27" width="25.96" height="15.70" fill="#db3128"/>
<rect x="1602.06" y="566.27" width="25.96" height="15.70" fill="#db3128"/>
<rect x="1627.97" y="566.27" width="25.96" height="15.70" fill="#db3128"/>
<rect x="1653.87" y="566.27" width="25.96" height="15.70" fill="#f2c07a"/>
<rect x="1679.78" y="566.27" width="25.96" height="15.70" fill="#db3128"/>
<rect x="1705.69" y="566.27" width="25.96" height="15.70" fill="#db3128"/>
<rect x="1731.60" y="566.27" width="25.96" height="15.70" fill="#db3128"/>
<rect x="1757.51" y="566.27" width="25.96" height="15.70" fill="#db3128"/>
<rect x="1783.41" y="566.27" width="25.96" height="15.70" fill="#db3128"/>
<rect x="1809.32" y="566.27" width="25.96" height="15.70" fill="#e6583c"/>
<rect x="1835.23" y="566.27" width="25.96" height="15.70" fill="#4f7bbd"/>
<rect x="1861.14" y="566.27" width="25.96" height="15.70" fill="#4f7bbd"/>
<rect x="1887.04" y="566.27" width="25.96" height="15.70" fill="#acd4e7"/>
<rect x="1912.95" y="566.27" width="25.96" height="15.70" fill="#acd4e7"/>
<rect x="1938.86" y="566.27" width="25.96" height="15.70" fill="#93c3de"/>
<rect x="1964.77" y="566.27" width="25.96" height="15.70" fill="#e0f2f1"/>
<rect x="1990.68" y="566.27" width="25.96" height="15.70" fill="#79a9d3"/>
<rect x="2016.58" y="566.27" width="25.96" height="15.70" fill="#93c3de"/>
<rect x="2042.49" y="566.27" width="25.96" height="15.70" fill="#4f7bbd"/>
<rect x="99.40" y="581.92" width="25.96" height="15.70" fill="#acd4e7"/>
<rect x="125.31" y="581.92" width="25.96" height="15.70" fill="#f5f9c5"/>
<rect x="151.22" y="581.92" width="25.96" height="15.70" fill="#edf7dc"/>
<rect x="177.12" y="581.92" width="25.96" height="15.70" fill="#93c3de"/>
<rect x="203.03" y="581.92" width="25.96" height="15.70" fill="#acd4e7"/>
<rect x="228.94" y="581.92" width="25.96" height="15.70" fill="#c8e6f0"/>
<rect x="254.85" y="581.92" width="25.96" height="15.70" fill="#e0f2f1"/>
<rect x="280.76" y="581.92" width="25.96" height="15.70" fill="#e0f2f1"/>
<rect x="306.66" y="581.92" width="25.96" height="15.70" fill="#93c3de"/>
<rect x="332.57" y="581.92" width="25.96" height="15.70" fill="#c8e6f0"/>
<rect x="358.48" y="581.92" width="25.96" height="15.70" fill="#f5f9c5"/>
<rect x="384.39" y="581.92" width="25.96" height="15.70" fill="#f28d5a"/>
<rect x="410.29" y="581.92" width="25.96" height="15.70" fill="#f28d5a"/>
<rect x="436.20" y="581.92" width="25.96" height="15.70" fill="#c8e6f0"/>
<rect x="462.11" y="581.92" width="25.96" height="15.70" fill="#93c3de"/>
<rect x="488.02" y="581.92" width="25.96" height="15.70" fill="#e0f2f1"/>
<rect x="513.93" y="581.92" width="25.96" height="15.70" fill="#e0f2f1"/>
<rect x="539.83" y="581.92" width="25.96" height="15.70" fill="#e0f2f1"/>
<rect x="565.74" y="581.92" width="25.96" height="15.70" fill="#acd4e7"/>
<rect x="591.65" y="581.92" width="25.96" height="15.70" fill="#c8e6f0"/>
<rect x="617.56" y="581.92" width="25.96" height="15.70" fill="#79a9d3"/>
<rect x="643.47" y="581.92" width="25.96" height="15.70" fill="#c8e6f0"/>
<rect x="669.37" y="581.92" width="25.96" height="15.70" fill="#f5f9c5"/>
<rect x="695.28" y="581.92" width="25.96" height="15.70" fill="#edf7dc"/>
<rect x="721.19" y="581.92" width="25.96" height="15.70" fill="#93c3de"/>
<rect x="747.10" y="581.92" width="25.96" height="15.70" fill="#6898ca"/>
<rect x="773.01" y="581.92" width="25.96" height="15.70" fill="#e6583c"/>
<rect x="798.91" y="581.92" width="25.96" height="15.70" fill="#6898ca"/>
<rect x="824.82" y="581.92" width="25.96" height="15.70" fill="#79a9d3"/>
<rect x="850.73" y="581.92" width="25.96" height="15.70" fill="#acd4e7"/>
<rect x="876.64" y="581.92" width="25.96" height="15.70" fill="#acd4e7"/>
<rect x="902.54" y="581.92" width="25.96" height="15.70" fill="#acd4e7"/>
<rect x="928.45" y="581.92" width="25.96" height="15.70" fill="#f5f9c5"/>
<rect x="954.36" y="581.92" width="25.96" height="15.70" fill="#acd4e7"/>
<rect x="980.27" y="581.92" width="25.96" height="15.70" fill="#acd4e7"/>
<rect x="1006.18" y="581.92" width="25.96" height="15.70" fill="#f5f9c5"/>
<rect x="1032.08" y="581.92" width="25.96" height="15.70" fill="#5b8ac3"/>
<rect x="1057.99" y="581.92" width="25.96" height="15.70" fill="#5b8ac3"/>
<rect x="1083.90" y="581.92" width="25.96" height="15.70" fill="#acd4e7"/>
<rect x="1109.81" y="581.92" width="25.96" height="15.70" fill="#c8e6f0"/>
<rect x="1135.72" y="581.92" width="25.96" height="15.70" fill="#f5f9c5"/>
<rect x="1161.62" y="581.92" width="25.96" height="15.70" fill="#acd4e7"/>
<rect x="1187.53" y="581.92" width="25.96" height="15.70" fill="#edf7dc"/>
<rect x="1213.44" y="581.92" width="25.96" height="15.70" fill="#acd4e7"/>
<rect x="1239.35" y="581.92" width="25.96" height="15.70" fill="#93c3de"/>
<rect x="1265.26" y="581.92" width="25.96" height="15.70" fill="#6898ca"/>
<rect x="1291.16" y="581.92" width="25.96" height="15.70" fill="#acd4e7"/>
<rect x="1317.07" y="581.92" width="25.96" height="15.70" fill="#79a9d3"/>
<rect x="1342.98" y="581.92" width="25.96" height="15.70" fill="#93c3de"/>
<rect x="1368.89" y="581.92" width="25.96" height="15.70" fill="#f5f9c5"/>
<rect x="1394.79" y="581.92" width="25.96" height="15.70" fill="#f5f9c5"/>
<rect x="1420.70" y="581.92" width="25.96" height="15.70" fill="#edf7dc"/>
<rect x="1446.61" y="581.92" width="25.96" height="15.70" fill="#f5f9c5"/>
<rect x="1472.52" y="581.92" width="25.96" height="15.70" fill="#f2c07a"/>
<rect x="1498.43" y="581.92" width="25.96" height="15.70" fill="#edf7dc"/>
<rect x="1524.33" y="581.92" width="25.96" height="15.70" fill="#c8e6f0"/>
<rect x="1550.24" y="581.92" width="25.96" height="15.70" fill="#edf7dc"/>
<rect x="1576.15" y="581.92" width="25.96" height="15.70" fill="#f5f9c5"/>
<rect x="1602.06" y="581.92" width="25.96" height="15.70" fill="#acd4e7"/>
<rect x="1627.97" y="581.92" width="25.96" height="15.70" fill="#93c3de"/>
<rect x="1653.87" y="581.92" width="25.96" height="15.70" fill="#acd4e7"/>
<rect x="1679.78" y="581.92" width="25.96" height="15.70" fill="#acd4e7"/>
<rect x="1705.69" y="581.92" width="25.96" height="15.70" fill="#f2c07a"/>
<rect x="1731.60" y="581.92" width="25.96" height="15.70" fill="#f28d5a"/>
<rect x="1757.51" y="581.92" width="25.96" height="15.70" fill="#f6e9a0"/>
<rect x="1783.41" y="581.92" width="25.96" height="15.70" fill="#acd4e7"/>
<rect x="1809.32" y="581.92" width="25.96" height="15.70" fill="#f5f9c5"/>
<rect x="1835.23" y="581.92" width="25.96" height="15.70" fill="#db3128"/>
<rect x="1861.14" y="581.92" width="25.96" height="15.70" fill="#f6e9a0"/>
<rect x="1887.04" y="581.92" width="25.96" height="15.70" fill="#f2c07a"/>
<rect x="1912.95" y="581.92" width="25.96" height="15.70" fill="#f6e9a0"/>
<rect x="1938.86" y="581.92" width="25.96" height="15.70" fill="#f6e9a0"/>
<rect x="1964.77" y="581.92" width="25.96" height="15.70" fill="#edf7dc"/>
<rect x="1990.68" y="581.92" width="25.96" height="15.70" fill="#c8e6f0"/>
<rect x="2016.58" y="581.92" width="25.96" height="15.70" fill="#e0f2f1"/>
<rect x="2042.49" y="581.92" width="25.96" height="15.70" fill="#c8e6f0"/>
<rect x="99.40" y="597.56" width="25.96" height="15.70" fill="#f5f9c5"/>
<rect x="125.31" y="597.56" width="25.96" height="15.70" fill="#f28d5a"/>
<rect x="151.22" y="597.56" width="25.96" height="15.70" fill="#db3128"/>
<rect x="177.12" y="597.56" width="25.96" height="15.70" fill="#db3128"/>
<rect x="203.03" y="597.56" width="25.96" height="15.70" fill="#db3128"/>
<rect x="228.94" y="597.56" width="25.96" height="15.70" fill="#db3128"/>
<rect x="254.85" y="597.56" width="25.96" height="15.70" fill="#e0f2f1"/>
<rect x="280.76" y="597.56" width="25.96" height="15.70" fill="#c8e6f0"/>
<rect x="306.66" y="597.56" width="25.96" height="15.70" fill="#edf7dc"/>
<rect x="332.57" y="597.56" width="25.96" height="15.70" fill="#acd4e7"/>
<rect x="358.48" y="597.56" width="25.96" height="15.70" fill="#f2c07a"/>
<rect x="384.39" y="597.56" width="25.96" height="15.70" fill="#f6e9a0"/>
<rect x="410.29" y="597.56" width="25.96" height="15.70" fill="#edf7dc"/>
<rect x="436.20" y="597.56" width="25.96" height="15.70" fill="#e0f2f1"/>
<rect x="462.11" y="597.56" width="25.96" height="15.70" fill="#c8e6f0"/>
<rect x="488.02" y="597.56" width="25.96" height="15.70" fill="#f5f9c5"/>
<rect x="513.93" y="597.56" width="25.96" height="15.70" fill="#edf7dc"/>
<rect x="539.83" y="597.56" width="25.96" height="15.70" fill="#f5f9c5"/>
<rect x="565.74" y="597.56" width="25.96" height="15.70" fill="#edf7dc"/>
<rect x="591.65" y="597.56" width="25.96" height="15.70" fill="#acd4e7"/>
<rect x="617.56" y="597.56" width="25.96" height="15.70" fill="#f5f9c5"/>
<rect x="643.47" y="597.56" width="25.96" height="15.70" fill="#f5f9c5"/>
<rect x="669.37" y="597.56" width="25.96" height="15.70" fill="#f6e9a0"/>
<rect x="695.28" y="597.56" width="25.96" height="15.70" fill="#f5f9c5"/>
<rect x="721.19" y="597.56" width="25.96" height="15.70" fill="#edf7dc"/>
<rect x="747.10" y="597.56" width="25.96" height="15.70" fill="#c8e6f0"/>
<rect x="773.01" y="597.56" width="25.96" height="15.70" fill="#edf7dc"/>
<rect x="798.91" y="597.56" width="25.96" height="15.70" fill="#93c3de"/>
<rect x="824.82" y="597.56" width="25.96" height="15.70" fill="#edf7dc"/>
<rect x="850.73" y="597.56" width="25.96" height="15.70" fill="#acd4e7"/>
<rect x="876.64" y="597.56" width="25.96" height="15.70" fill="#93c3de"/>
<rect x="902.54" y="597.56" width="25.96" height="15.70" fill="#f5f9c5"/>
<rect x="928.45" y="597.56" width="25.96" height="15.70" fill="#e0f2f1"/>
<rect x="954.36" y="597.56" width="25.96" height="15.70" fill="#edf7dc"/>
<rect x="980.27" y="597.56" width="25.96" height="15.70" fill="#6898ca"/>
<rect x="1006.18" y="597.56" width="25.96" height="15.70" fill="#f5f9c5"/>
<rect x="1032.08" y="597.56" width="25.96" height="15.70" fill="#f5f9c5"/>
<rect x="1057.99" y="597.56" width="25.96" height="15.70" fill="#db3128"/>
<rect x="1083.90" y="597.56" width="25.96" height="15.70" fill="#f5f9c5"/>
<rect x="1109.81" y="597.56" width="25.96" height="15.70" fill="#93c3de"/>
<rect x="1135.72" y="597.56" width="25.96" height="15.70" fill="#c8e6f0"/>
<rect x="1161.62" y="597.56" width="25.96" height="15.70" fill="#edf7dc"/>
<rect x="1187.53" y="597.56" width="25.96" height="15.70" fill="#f5f9c5"/>
<rect x="1213.44" y="597.56" width="25.96" height="15.70" fill="#db3128"/>
<rect x="1239.35" y="597.56" width="25.96" height="15.70" fill="#f6e9a0"/>
<rect x="1265.26" y="597.56" width="25.96" height="15.70" fill="#edf7dc"/>
<rect x="1291.16" y="597.56" width="25.96" height="15.70" fill="#f5f9c5"/>
<rect x="1317.07" y="597.56" width="25.96" height="15.70" fill="#f6e9a0"/>
<rect x="1342.98" y="597.56" width="25.96" height="15.70" fill="#f5f9c5"/>
<rect x="1368.89" y="597.56" width="25.96" height="15.70" fill="#edf7dc"/>
<rect x="1394.79" y="597.56" width="25.96" height="15.70" fill="#f6e9a0"/>
<rect x="1420.70" y="597.56" width="25.96" height="15.70" fill="#e6583c"/>
<rect x="1446.61" y="597.56" width="25.96" height="15.70" fill="#f6e9a0"/>
<rect x="1472.52" y="597.56" width="25.96" height="15.70" fill="#e0f2f1"/>
<rect x="1498.43" y="597.56" width="25.96" height="15.70" fill="#edf7dc"/>
<rect x="1524.33" y="597.56" width="25.96" height="15.70" fill="#e6583c"/>
<rect x="1550.24" y="597.56" width="25.96" height="15.70" fill="#f2c07a"/>
<rect x="1576.15" y="597.56" width="25.96" height="15.70" fill="#f2c07a"/>
<rect x="1602.06" y="597.56" width="25.96" height="15.70" fill="#db3128"/>
<rect x="1627.97" y="597.56" width="25.96" height="15.70" fill="#db3128"/>
<rect x="1653.87" y="597.56" width="25.96" height="15.70" fill="#f5f9c5"/>
<rect x="1679.78" y="597.56" width="25.96" height="15.70" fill="#e0f2f1"/>
<rect x="1705.69" y="597.56" width="25.96" height="15.70" fill="#edf7dc"/>
<rect x="1731.60" y="597.56" width="25.96" height="15.70" fill="#c8e6f0"/>
<rect x="1757.51" y="597.56" width="25.96" height="15.70" fill="#f5f9c5"/>
<rect x="1783.41" y="597.56" width="25.96" height="15.70" fill="#f6e9a0"/>
<rect x="1809.32" y="597.56" width="25.96" height="15.70" fill="#f6e9a0"/>
<rect x="1835.23" y="597.56" width="25.96" height="15.70" fill="#db3128"/>
<rect x="1861.14" y="597.56" width="25.96" height="15.70" fill="#f6e9a0"/>
<rect x="1887.04" y="597.56" width="25.96" height="15.70" fill="#f5f9c5"/>
<rect x="1912.95" y="597.56" width="25.96" height="15.70" fill="#f5f9c5"/>
<rect x="1938.86" y="597.56" width="25.96" height="15.70" fill="#e0f2f1"/>
<rect x="1964.77" y="597.56" width="25.96" height="15.70" fill="#edf7dc"/>
<rect x="1990.68" y="597.56" width="25.96" height="15.70" fill="#f28d5a"/>
<rect x="2016.58" y="597.56" width="25.96" height="15.70" fill="#db3128"/>
<rect x="2042.49" y="597.56" width="25.96" height="15.70" fill="#f6e9a0"/>
<rect x="99.40" y="613.21" width="25.96" height="15.70" fill="#93c3de"/>
<rect x="125.31" y="613.21" width="25.96" height="15.70" fill="#f5f9c5"/>
<rect x="151.22" y="613.21" width="25.96" height="15.70" fill="#c8e6f0"/>
<rect x="177.12" y="613.21" width="25.96" height="15.70" fill="#acd4e7"/>
<rect x="203.03" y="613.21" width="25.96" height="15.70" fill="#c8e6f0"/>
<rect x="228.94" y="613.21" width="25.96" height="15.70" fill="#79a9d3"/>
<rect x="254.85" y="613.21" width="25.96" height="15.70" fill="#db3128"/>
<rect x="280.76" y="613.21" width="25.96" height="15.70" fill="#c8e6f0"/>
<rect x="306.66" y="613.21" width="25.96" height="15.70" fill="#93c3de"/>
<rect x="332.57" y="613.21" width="25.96" height="15.70" fill="#f6e9a0"/>
<rect x="358.48" y="613.21" width="25.96" height="15.70" fill="#acd4e7"/>
<rect x="384.39" y="613.21" width="25.96" height="15.70" fill="#db3128"/>
<rect x="410.29" y="613.21" width="25.96" height="15.70" fill="#db3128"/>
<rect x="436.20" y="613.21" width="25.96" height="15.70" fill="#db3128"/>
<rect x="462.11" y="613.21" width="25.96" height="15.70" fill="#db3128"/>
<rect x="488.02" y="613.21" width="25.96" height="15.70" fill="#db3128"/>
<rect x="513.93" y="613.21" width="25.96" height="15.70" fill="#db3128"/>
<rect x="539.83" y="613.21" width="25.96" height="15.70" fill="#db3128"/>
<rect x="565.74" y="613.21" width="25.96" height="15.70" fill="#db3128"/>
<rect x="591.65" y="613.21" width="25.96" height="15.70" fill="#db3128"/>
<rect x="617.56" y="613.21" width="25.96" height="15.70" fill="#c8e6f0"/>
<rect x="643.47" y="613.21" width="25.96" height="15.70" fill="#f6e9a0"/>
<rect x="669.37" y="613.21" width="25.96" height="15.70" fill="#f5f9c5"/>
<rect x="695.28" y="613.21" width="25.96" height="15.70" fill="#f28d5a"/>
<rect x="721.19" y="613.21" width="25.96" height="15.70" fill="#acd4e7"/>
<rect x="747.10" y="613.21" width="25.96" height="15.70" fill="#edf7dc"/>
<rect x="773.01" y="613.21" width="25.96" height="15.70" fill="#c8e6f0"/>
<rect x="798.91" y="613.21" width="25.96" height="15.70" fill="#93c3de"/>
<rect x="824.82" y="613.21" width="25.96" height="15.70" fill="#edf7dc"/>
<rect x="850.73" y="613.21" width="25.96" height="15.70" fill="#edf7dc"/>
<rect x="876.64" y="613.21" width="25.96" height="15.70" fill="#e0f2f1"/>
<rect x="902.54" y="613.21" width="25.96" height="15.70" fill="#db3128"/>
<rect x="928.45" y="613.21" width="25.96" height="15.70" fill="#f5f9c5"/>
<rect x="954.36" y="613.21" width="25.96" height="15.70" fill="#db3128"/>
<rect x="980.27" y="613.21" width="25.96" height="15.70" fill="#e6583c"/>
<rect x="1006.18" y="613.21" width="25.96" height="15.70" fill="#edf7dc"/>
<rect x="1032.08" y="613.21" width="25.96" height="15.70" fill="#5481c0"/>
<rect x="1057.99" y="613.21" width="25.96" height="15.70" fill="#6898ca"/>
<rect x="1083.90" y="613.21" width="25.96" height="15.70" fill="#e0f2f1"/>
<rect x="1109.81" y="613.21" width="25.96" height="15.70" fill="#f6e9a0"/>
<rect x="1135.72" y="613.21" width="25.96" height="15.70" fill="#f5f9c5"/>
<rect x="1161.62" y="613.21" width="25.96" height="15.70" fill="#c8e6f0"/>
<rect x="1187.53" y="613.21" width="25.96" height="15.70" fill="#6898ca"/>
<rect x="1213.44" y="613.21" width="25.96" height="15.70" fill="#acd4e7"/>
<rect x="1239.35" y="613.21" width="25.96" height="15.70" fill="#f6e9a0"/>
<rect x="1265.26" y="613.21" width="25.96" height="15.70" fill="#6898ca"/>
<rect x="1291.16" y="613.21" width="25.96" height="15.70" fill="#f2c07a"/>
<rect x="1317.07" y="613.21" width="25.96" height="15.70" fill="#e6583c"/>
<rect x="1342.98" y="613.21" width="25.96" height="15.70" fill="#db3128"/>
<rect x="1368.89" y="613.21" width="25.96" height="15.70" fill="#db3128"/>
<rect x="1394.79" y="613.21" width="25.96" height="15.70" fill="#db3128"/>
<rect x="1420.70" y="613.21" width="25.96" height="15.70" fill="#db3128"/>
<rect x="1446.61" y="613.21" width="25.96" height="15.70" fill="#db3128"/>
<rect x="1472.52" y="613.21" width="25.96" height="15.70" fill="#db3128"/>
<rect x="1498.43" y="613.21" width="25.96" height="15.70" fill="#db3128"/>
<rect x="1524.33" y="613.21" width="25.96" height="15.70" fill="#db3128"/>
<rect x="1550.24" y="613.21" width="25.96" height="15.70" fill="#db3128"/>
<rect x="1576.15" y="613.21" width="25.96" height="15.70" fill="#db3128"/>
<rect x="1602.06" y="613.21" width="25.96" height="15.70" fill="#db3128"/>
<rect x="1627.97" y="613.21" width="25.96" height="15.70" fill="#db3128"/>
<rect x="1653.87" y="613.21" width="25.96" height="15.70" fill="#db3128"/>
<rect x="1679.78" y="613.21" width="25.96" height="15.70" fill="#db3128"/>
<rect x="1705.69" y="613.21" width="25.96" height="15.70" fill="#db3128"/>
<rect x="1731.60" y="613.21" width="25.96" height="15.70" fill="#db3128"/>
<rect x="1757.51" y="613.21" width="25.96" height="15.70" fill="#db3128"/>
<rect x="1783.41" y="613.21" width="25.96" height="15.70" fill="#db3128"/>
<rect x="1809.32" y="613.21" width="25.96" height="15.70" fill="#db3128"/>
<rect x="1835.23" y="613.21" width="25.96" height="15.70" fill="#db3128"/>
<rect x="1861.14" y="613.21" width="25.96" height="15.70" fill="#f5f9c5"/>
<rect x="1887.04" y="613.21" width="25.96" height="15.70" fill="#db3128"/>
<rect x="1912.95" y="613.21" width="25.96" height="15.70" fill="#db3128"/>
<rect x="1938.86" y="613.21" width="25.96" height="15.70" fill="#db3128"/>
<rect x="1964.77" y="613.21" width="25.96" height="15.70" fill="#db3128"/>
<rect x="1990.68" y="613.21" width="25.96" height="15.70" fill="#e6583c"/>
<rect x="2016.58" y="613.21" width="25.96" height="15.70" fill="#db3128"/>
<rect x="2042.49" y="613.21" width="25.96" height="15.70" fill="#db3128"/>
<rect x="99.40" y="628.85" width="25.96" height="15.70" fill="#4f7bbd"/>
<rect x="125.31" y="628.85" width="25.96" height="15.70" fill="#4f7bbd"/>
<rect x="151.22" y="628.85" width="25.96" height="15.70" fill="#4f7bbd"/>
<rect x="177.12" y="628.85" width="25.96" height="15.70" fill="#4f7bbd"/>
<rect x="203.03" y="628.85" width="25.96" height="15.70" fill="#4f7bbd"/>
<rect x="228.94" y="628.85" width="25.96" height="15.70" fill="#4f7bbd"/>
<rect x="254.85" y="628.85" width="25.96" height="15.70" fill="#db3128"/>
<rect x="280.76" y="628.85" width="25.96" height="15.70" fill="#acd4e7"/>
<rect x="306.66" y="628.85" width="25.96" height="15.70" fill="#f5f9c5"/>
<rect x="332.57" y="628.85" width="25.96" height="15.70" fill="#f6e9a0"/>
<rect x="358.48" y="628.85" width="25.96" height="15.70" fill="#5b8ac3"/>
<rect x="384.39" y="628.85" width="25.96" height="15.70" fill="#db3128"/>
<rect x="410.29" y="628.85" width="25.96" height="15.70" fill="#db3128"/>
<rect x="436.20" y="628.85" width="25.96" height="15.70" fill="#db3128"/>
<rect x="462.11" y="628.85" width="25.96" height="15.70" fill="#db3128"/>
<rect x="488.02" y="628.85" width="25.96" height="15.70" fill="#db3128"/>
<rect x="513.93" y="628.85" width="25.96" height="15.70" fill="#db3128"/>
<rect x="539.83" y="628.85" width="25.96" height="15.70" fill="#db3128"/>
<rect x="565.74" y="628.85" width="25.96" height="15.70" fill="#db3128"/>
<rect x="591.65" y="628.85" width="25.96" height="15.70" fill="#db3128"/>
<rect x="617.56" y="628.85" width="25.96" height="15.70" fill="#db3128"/>
<rect x="643.47" y="628.85" width="25.96" height="15.70" fill="#e6583c"/>
<rect x="669.37" y="628.85" width="25.96" height="15.70" fill="#f6e9a0"/>
<rect x="695.28" y="628.85" width="25.96" height="15.70" fill="#db3128"/>
<rect x="721.19" y="628.85" width="25.96" height="15.70" fill="#4f7bbd"/>
<rect x="747.10" y="628.85" width="25.96" height="15.70" fill="#4f7bbd"/>
<rect x="773.01" y="628.85" width="25.96" height="15.70" fill="#f5f9c5"/>
<rect x="798.91" y="628.85" width="25.96" height="15.70" fill="#4f7bbd"/>
<rect x="824.82" y="628.85" width="25.96" height="15.70" fill="#f6e9a0"/>
<rect x="850.73" y="628.85" width="25.96" height="15.70" fill="#db3128"/>
<rect x="876.64" y="628.85" width="25.96" height="15.70" fill="#f6e9a0"/>
<rect x="902.54" y="628.85" width="25.96" height="15.70" fill="#f5f9c5"/>
<rect x="928.45" y="628.85" width="25.96" height="15.70" fill="#6898ca"/>
<rect x="954.36" y="628.85" width="25.96" height="15.70" fill="#acd4e7"/>
<rect x="980.27" y="628.85" width="25.96" height="15.70" fill="#6898ca"/>
<rect x="1006.18" y="628.85" width="25.96" height="15.70" fill="#79a9d3"/>
<rect x="1032.08" y="628.85" width="25.96" height="15.70" fill="#5481c0"/>
<rect x="1057.99" y="628.85" width="25.96" height="15.70" fill="#4f7bbd"/>
<rect x="1083.90" y="628.85" width="25.96" height="15.70" fill="#4f7bbd"/>
<rect x="1109.81" y="628.85" width="25.96" height="15.70" fill="#4f7bbd"/>
<rect x="1135.72" y="628.85" width="25.96" height="15.70" fill="#4f7bbd"/>
<rect x="1161.62" y="628.85" width="25.96" height="15.70" fill="#4f7bbd"/>
<rect x="1187.53" y="628.85" width="25.96" height="15.70" fill="#4f7bbd"/>
<rect x="1213.44" y="628.85" width="25.96" height="15.70" fill="#79a9d3"/>
<rect x="1239.35" y="628.85" width="25.96" height="15.70" fill="#acd4e7"/>
<rect x="1265.26" y="628.85" width="25.96" height="15.70" fill="#5b8ac3"/>
<rect x="1291.16" y="628.85" width="25.96" height="15.70" fill="#db3128"/>
<rect x="1317.07" y="628.85" width="25.96" height="15.70" fill="#f5f9c5"/>
<rect x="1342.98" y="628.85" width="25.96" height="15.70" fill="#f2c07a"/>
<rect x="1368.89" y="628.85" width="25.96" height="15.70" fill="#93c3de"/>
<rect x="1394.79" y="628.85" width="25.96" height="15.70" fill="#db3128"/>
<rect x="1420.70" y="628.85" width="25.96" height="15.70" fill="#f5f9c5"/>
<rect x="1446.61" y="628.85" width="25.96" height="15.70" fill="#acd4e7"/>
<rect x="1472.52" y="628.85" width="25.96" height="15.70" fill="#f6e9a0"/>
<rect x="1498.43" y="628.85" width="25.96" height="15.70" fill="#acd4e7"/>
<rect x="1524.33" y="628.85" width="25.96" height="15.70" fill="#db3128"/>
<rect x="1550.24" y="628.85" width="25.96" height="15.70" fill="#db3128"/>
<rect x="1576.15" y="628.85" width="25.96" height="15.70" fill="#db3128"/>
<rect x="1602.06" y="628.85" width="25.96" height="15.70" fill="#db3128"/>
<rect x="1627.97" y="628.85" width="25.96" height="15.70" fill="#db3128"/>
<rect x="1653.87" y="628.85" width="25.96" height="15.70" fill="#db3128"/>
<rect x="1679.78" y="628.85" width="25.96" height="15.70" fill="#db3128"/>
<rect x="1705.69" y="628.85" width="25.96" height="15.70" fill="#f6e9a0"/>
<rect x="1731.60" y="628.85" width="25.96" height="15.70" fill="#f28d5a"/>
<rect x="1757.51" y="628.85" width="25.96" height="15.70" fill="#f2c07a"/>
<rect x="1783.41" y="628.85" width="25.96" height="15.70" fill="#db3128"/>
<rect x="1809.32" y="628.85" width="25.96" height="15.70" fill="#edf7dc"/>
<rect x="1835.23" y="628.85" width="25.96" height="15.70" fill="#acd4e7"/>
<rect x="1861.14" y="628.85" width="25.96" height="15.70" fill="#edf7dc"/>
<rect x="1887.04" y="628.85" width="25.96" height="15.70" fill="#f6e9a0"/>
<rect x="1912.95" y="628.85" width="25.96" height="15.70" fill="#edf7dc"/>
<rect x="1938.86" y="628.85" width="25.96" height="15.70" fill="#f2c07a"/>
<rect x="1964.77" y="628.85" width="25.96" height="15.70" fill="#db3128"/>
<rect x="1990.68" y="628.85" width="25.96" height="15.70" fill="#acd4e7"/>
<rect x="2016.58" y="628.85" width="25.96" height="15.70" fill="#f5f9c5"/>
<rect x="2042.49" y="628.85" width="25.96" height="15.70" fill="#5b8ac3"/>
</g>
<path d="M99.40 96.90V644.50M125.31 96.90V644.50M151.22 96.90V644.50M177.12 96.90V644.50M203.03 96.90V644.50M228.94 96.90V644.50M254.85 96.90V644.50M280.76 96.90V644.50M306.66 96.90V644.50M332.57 96.90V644.50M358.48 96.90V644.50M384.39 96.90V644.50M410.29 96.90V644.50M436.20 96.90V644.50M462.11 96.90V644.50M488.02 96.90V644.50M513.93 96.90V644.50M539.83 96.90V644.50M565.74 96.90V644.50M591.65 96.90V644.50M617.56 96.90V644.50M643.47 96.90V644.50M669.37 96.90V644.50M695.28 96.90V644.50M721.19 96.90V644.50M747.10 96.90V644.50M773.01 96.90V644.50M798.91 96.90V644.50M824.82 96.90V644.50M850.73 96.90V644.50M876.64 96.90V644.50M902.54 96.90V644.50M928.45 96.90V644.50M954.36 96.90V644.50M980.27 96.90V644.50M1006.18 96.90V644.50M1032.08 96.90V644.50M1057.99 96.90V644.50M1083.90 96.90V644.50M1109.81 96.90V644.50M1135.72 96.90V644.50M1161.62 96.90V644.50M1187.53 96.90V644.50M1213.44 96.90V644.50M1239.35 96.90V644.50M1265.26 96.90V644.50M1291.16 96.90V644.50M1317.07 96.90V644.50M1342.98 96.90V644.50M1368.89 96.90V644.50M1394.79 96.90V644.50M1420.70 96.90V644.50M1446.61 96.90V644.50M1472.52 96.90V644.50M1498.43 96.90V644.50M1524.33 96.90V644.50M1550.24 96.90V644.50M1576.15 96.90V644.50M1602.06 96.90V644.50M1627.97 96.90V644.50M1653.87 96.90V644.50M1679.78 96.90V644.50M1705.69 96.90V644.50M1731.60 96.90V644.50M1757.51 96.90V644.50M1783.41 96.90V644.50M1809.32 96.90V644.50M1835.23 96.90V644.50M1861.14 96.90V644.50M1887.04 96.90V644.50M1912.95 96.90V644.50M1938.86 96.90V644.50M1964.77 96.90V644.50M1990.68 96.90V644.50M2016.58 96.90V644.50M2042.49 96.90V644.50M2068.40 96.90V644.50M99.40 96.90H2068.40M99.40 112.55H2068.40M99.40 128.19H2068.40M99.40 143.84H2068.40M99.40 159.48H2068.40M99.40 175.13H2068.40M99.40 190.77H2068.40M99.40 206.42H2068.40M99.40 222.07H2068.40M99.40 237.71H2068.40M99.40 253.36H2068.40M99.40 269.00H2068.40M99.40 284.65H2068.40M99.40 300.29H2068.40M99.40 315.94H2068.40M99.40 331.59H2068.40M99.40 347.23H2068.40M99.40 362.88H2068.40M99.40 378.52H2068.40M99.40 394.17H2068.40M99.40 409.81H2068.40M99.40 425.46H2068.40M99.40 441.11H2068.40M99.40 456.75H2068.40M99.40 472.40H2068.40M99.40 488.04H2068.40M99.40 503.69H2068.40M99.40 519.33H2068.40M99.40 534.98H2068.40M99.40 550.63H2068.40M99.40 566.27H2068.40M99.40 581.92H2068.40M99.40 597.56H2068.40M99.40 613.21H2068.40M99.40 628.85H2068.40M99.40 644.50H2068.40" stroke="#9a9a9a" stroke-width="1.1" fill="none"/>
<g font-family="Liberation Sans, Arial, Helvetica, sans-serif" font-size="18.3" fill="#000" stroke="#000" stroke-width="0.4">
<text x="2073.6" y="112.02">IL18</text>
<text x="2073.6" y="127.65">ITGB6</text>
<text x="2073.6" y="143.28">CDKN2B</text>
<text x="2073.6" y="158.92">CDCP1</text>
<text x="2073.6" y="174.55">PRKCB*</text>
<text x="2073.6" y="190.18">LYN</text>
<text x="2073.6" y="205.81">CSK</text>
<text x="2073.6" y="221.44">PLEK</text>
<text x="2073.6" y="237.07">DAPP1</text>
<text x="2073.6" y="252.70">CASP3</text>
<text x="2073.6" y="268.33">PPARG</text>
<text x="2073.6" y="283.96">SLC14A1*</text>
<text x="2073.6" y="299.59">MGA*</text>
<text x="2073.6" y="315.22">DPP10*</text>
<text x="2073.6" y="330.85">CD27</text>
<text x="2073.6" y="346.48">HERC5</text>
<text x="2073.6" y="362.11">DSG1</text>
<text x="2073.6" y="377.75">PPP1R9B</text>
<text x="2073.6" y="393.38">IL10</text>
<text x="2073.6" y="409.01">F7</text>
<text x="2073.6" y="424.64">CD70</text>
<text x="2073.6" y="440.27">CRLF2</text>
<text x="2073.6" y="455.90">PIK3CG</text>
<text x="2073.6" y="471.53">CCL24</text>
<text x="2073.6" y="487.16">HOXD4</text>
<text x="2073.6" y="502.79">TRIM5*</text>
<text x="2073.6" y="518.42">TLR5*</text>
<text x="2073.6" y="534.05">EIF4A1</text>
<text x="2073.6" y="549.68">SNRPD3</text>
<text x="2073.6" y="565.31">PRDX5</text>
<text x="2073.6" y="580.94">CALD1</text>
<text x="2073.6" y="596.57">PACSIN2</text>
<text x="2073.6" y="612.21">ETNK1*</text>
<text x="2073.6" y="627.84">NAMPT</text>
<text x="2073.6" y="643.47">MYC</text>
<text transform="translate(105.95,650.5) rotate(90)">Astrocytes</text>
<text transform="translate(131.86,650.5) rotate(90)">Microglial cells</text>
<text transform="translate(157.77,650.5) rotate(90)">Inhibitory neurons</text>
<text transform="translate(183.68,650.5) rotate(90)">Oligodendrocytes</text>
<text transform="translate(209.59,650.5) rotate(90)">Excitatory neurons</text>
<text transform="translate(235.49,650.5) rotate(90)">Oligodendrocyte precursor cells</text>
<text transform="translate(261.40,650.5) rotate(90)">Adipocytes</text>
<text transform="translate(287.31,650.5) rotate(90)">Cytotrophoblasts</text>
<text transform="translate(313.22,650.5) rotate(90)">Granulosa cells</text>
<text transform="translate(339.12,650.5) rotate(90)">Extravillous trophoblasts</text>
<text transform="translate(365.03,650.5) rotate(90)">Syncytiotrophoblasts</text>
<text transform="translate(390.94,650.5) rotate(90)">Melanocytes</text>
<text transform="translate(416.85,650.5) rotate(90)">Smooth muscle cells</text>
<text transform="translate(442.76,650.5) rotate(90)">Endothelial cells</text>
<text transform="translate(468.66,650.5) rotate(90)">Hepatic stellate cells</text>
<text transform="translate(494.57,650.5) rotate(90)">Breast glandular cells</text>
<text transform="translate(520.48,650.5) rotate(90)">Breast myoepithelial cells</text>
<text transform="translate(546.39,650.5) rotate(90)">Endometrial stromal cells</text>
<text transform="translate(572.30,650.5) rotate(90)">Fibroblasts</text>
<text transform="translate(598.20,650.5) rotate(90)">Skeletal myocytes</text>
<text transform="translate(624.11,650.5) rotate(90)">Erythroid cells</text>
<text transform="translate(650.02,650.5) rotate(90)">Ionocytes</text>
<text transform="translate(675.93,650.5) rotate(90)">Intestinal goblet cells</text>
<text transform="translate(701.84,650.5) rotate(90)">Undifferentiated cells</text>
<text transform="translate(727.74,650.5) rotate(90)">Bipolar cells</text>
<text transform="translate(753.65,650.5) rotate(90)">Horizontal cells</text>
<text transform="translate(779.56,650.5) rotate(90)">Sertoli cells</text>
<text transform="translate(805.47,650.5) rotate(90)">Muller glia cells</text>
<text transform="translate(831.38,650.5) rotate(90)">Theca cells</text>
<text transform="translate(857.28,650.5) rotate(90)">Leydig cells</text>
<text transform="translate(883.19,650.5) rotate(90)">Peritubular cells</text>
<text transform="translate(909.10,650.5) rotate(90)">Cholangiocytes</text>
<text transform="translate(935.01,650.5) rotate(90)">Proximal tubular cells</text>
<text transform="translate(960.91,650.5) rotate(90)">Hepatocytes</text>
<text transform="translate(986.82,650.5) rotate(90)">Cardiomyocytes</text>
<text transform="translate(1012.73,650.5) rotate(90)">Collecting duct cells</text>
<text transform="translate(1038.64,650.5) rotate(90)">Late spermatids</text>
<text transform="translate(1064.55,650.5) rotate(90)">Early spermatids</text>
<text transform="translate(1090.45,650.5) rotate(90)">Spermatocytes</text>
<text transform="translate(1116.36,650.5) rotate(90)">Spermatogonia</text>
<text transform="translate(1142.27,650.5) rotate(90)">Distal tubular cells</text>
<text transform="translate(1168.18,650.5) rotate(90)">Rod photoreceptor cells</text>
<text transform="translate(1194.09,650.5) rotate(90)">Cone photoreceptor cells</text>
<text transform="translate(1219.99,650.5) rotate(90)">Enteroendocrine cells</text>
<text transform="translate(1245.90,650.5) rotate(90)">Dendritic cells</text>
<text transform="translate(1271.81,650.5) rotate(90)">NK-cells</text>
<text transform="translate(1297.72,650.5) rotate(90)">B-cells</text>
<text transform="translate(1323.62,650.5) rotate(90)">Plasma cells</text>
<text transform="translate(1349.53,650.5) rotate(90)">T-cells</text>
<text transform="translate(1375.44,650.5) rotate(90)">Monocytes</text>
<text transform="translate(1401.35,650.5) rotate(90)">Langerhans cells</text>
<text transform="translate(1427.26,650.5) rotate(90)">Kupffer cells</text>
<text transform="translate(1453.16,650.5) rotate(90)">Macrophages</text>
<text transform="translate(1479.07,650.5) rotate(90)">Granulocytes</text>
<text transform="translate(1504.98,650.5) rotate(90)">Hofbauer cells</text>
<text transform="translate(1530.89,650.5) rotate(90)">Urothelial cells</text>
<text transform="translate(1556.80,650.5) rotate(90)">Basal prostatic cells</text>
<text transform="translate(1582.70,650.5) rotate(90)">Prostatic glandular cells</text>
<text transform="translate(1608.61,650.5) rotate(90)">Basal keratinocytes</text>
<text transform="translate(1634.52,650.5) rotate(90)">Suprabasal keratinocytes</text>
<text transform="translate(1660.43,650.5) rotate(90)">Squamous epithelial cells</text>
<text transform="translate(1686.34,650.5) rotate(90)">Basal respiratory cells</text>
<text transform="translate(1712.24,650.5) rotate(90)">Pancreatic endocrine cells</text>
<text transform="translate(1738.15,650.5) rotate(90)">Ductal cells</text>
<text transform="translate(1764.06,650.5) rotate(90)">Glandular and luminal cells</text>
<text transform="translate(1789.97,650.5) rotate(90)">Basal squamous epithelial cells</text>
<text transform="translate(1815.88,650.5) rotate(90)">Endometrial ciliated cells</text>
<text transform="translate(1841.78,650.5) rotate(90)">Distal enterocytes</text>
<text transform="translate(1867.69,650.5) rotate(90)">Paneth cells</text>
<text transform="translate(1893.60,650.5) rotate(90)">Alveolar cells type 1</text>
<text transform="translate(1919.51,650.5) rotate(90)">Exocrine glandular cells</text>
<text transform="translate(1945.41,650.5) rotate(90)">Alveolar cells type 2</text>
<text transform="translate(1971.32,650.5) rotate(90)">Club cells</text>
<text transform="translate(1997.23,650.5) rotate(90)">Respiratory ciliated cells</text>
<text transform="translate(2023.14,650.5) rotate(90)">Gastric mucus-secreting cells</text>
<text transform="translate(2049.05,650.5) rotate(90)">Proximal enterocytes</text>
</g>
<defs><linearGradient id="lg" x1="0" y1="1" x2="0" y2="0"><stop offset="0" stop-color="#5380bf"/><stop offset="0.1" stop-color="#6e9ecd"/><stop offset="0.2" stop-color="#a0cae3"/><stop offset="0.3" stop-color="#d0eaf2"/><stop offset="0.4" stop-color="#eaf5e4"/><stop offset="0.5" stop-color="#f4f6b4"/><stop offset="0.58" stop-color="#f2e49a"/><stop offset="0.66" stop-color="#f0bc78"/><stop offset="0.75" stop-color="#ee8c5c"/><stop offset="0.87" stop-color="#e65a44"/><stop offset="1.0" stop-color="#da3229"/></linearGradient></defs>
<rect x="2087.6" y="692.3" width="29.5" height="191.9" fill="url(#lg)"/>
<g font-family="Liberation Sans, Arial, Helvetica, sans-serif" font-size="18.3" fill="#000" stroke="#000" stroke-width="0.4">
<text x="2091.4" y="679.6">nTPM</text>
<text x="2125.3" y="709.10">>100</text>
<text x="2125.3" y="742.20">80</text>
<text x="2125.3" y="776.10">60</text>
<text x="2125.3" y="810.00">40</text>
<text x="2125.3" y="844.50">20</text>
<text x="2125.3" y="879.30">0</text>
</g>
</svg>
</body></html>
